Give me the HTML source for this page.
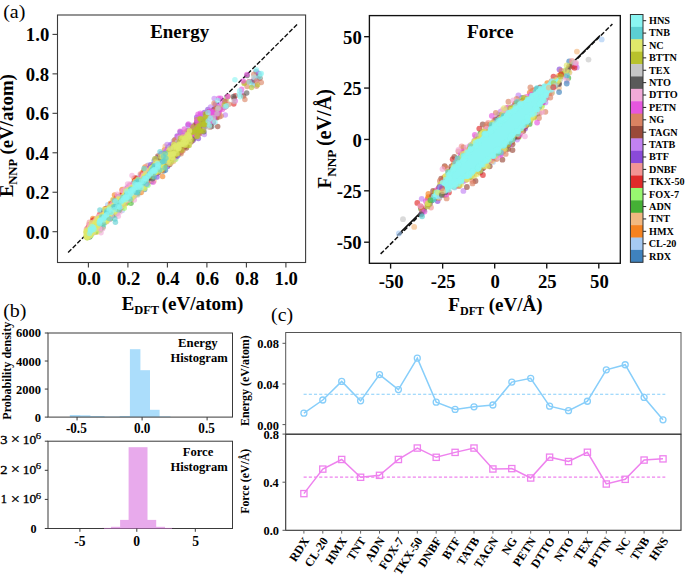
<!DOCTYPE html>
<html><head><meta charset="utf-8"><style>
html,body{margin:0;padding:0;background:#fff;}
svg{display:block;}
text{font-family:"Liberation Serif",serif;fill:#000;}
</style></head><body>
<svg width="685" height="576" viewBox="0 0 685 576">
<rect x="0" y="0" width="685" height="576" fill="#fff"/>
<line x1="68.10" y1="252.50" x2="298.00" y2="23.60" stroke="#111" stroke-width="1.4" stroke-dasharray="4.6 1.9"/>
<g fill-opacity="0.62">
<circle cx="156.7" cy="162.9" r="2.75" fill="#3f82bd"/>
<circle cx="158.6" cy="168.5" r="2.75" fill="#3f82bd"/>
<circle cx="153.4" cy="176.9" r="2.75" fill="#3f82bd"/>
<circle cx="139.0" cy="190.7" r="2.75" fill="#3f82bd"/>
<circle cx="174.0" cy="152.0" r="2.75" fill="#3f82bd"/>
<circle cx="184.7" cy="142.7" r="2.75" fill="#3f82bd"/>
<circle cx="160.6" cy="163.7" r="2.75" fill="#3f82bd"/>
<circle cx="122.1" cy="199.8" r="2.75" fill="#3f82bd"/>
<circle cx="134.7" cy="183.4" r="2.75" fill="#3f82bd"/>
<circle cx="176.3" cy="148.3" r="2.75" fill="#3f82bd"/>
<circle cx="162.3" cy="169.8" r="2.75" fill="#3f82bd"/>
<circle cx="137.3" cy="186.2" r="2.75" fill="#3f82bd"/>
<circle cx="186.9" cy="135.2" r="2.75" fill="#3f82bd"/>
<circle cx="133.9" cy="195.5" r="2.75" fill="#3f82bd"/>
<circle cx="122.9" cy="199.3" r="2.75" fill="#3f82bd"/>
<circle cx="144.7" cy="184.0" r="2.75" fill="#3f82bd"/>
<circle cx="176.6" cy="145.6" r="2.75" fill="#3f82bd"/>
<circle cx="150.5" cy="173.6" r="2.75" fill="#3f82bd"/>
<circle cx="145.5" cy="172.2" r="2.75" fill="#3f82bd"/>
<circle cx="136.7" cy="183.8" r="2.75" fill="#3f82bd"/>
<circle cx="141.0" cy="174.7" r="2.75" fill="#3f82bd"/>
<circle cx="135.1" cy="190.0" r="2.75" fill="#3f82bd"/>
<circle cx="122.2" cy="199.6" r="2.75" fill="#3f82bd"/>
<circle cx="149.0" cy="178.1" r="2.75" fill="#3f82bd"/>
<circle cx="168.6" cy="151.7" r="2.75" fill="#3f82bd"/>
<circle cx="147.1" cy="171.7" r="2.75" fill="#3f82bd"/>
<circle cx="136.7" cy="178.4" r="2.75" fill="#3f82bd"/>
<circle cx="179.2" cy="148.2" r="2.75" fill="#3f82bd"/>
<circle cx="145.3" cy="174.3" r="2.75" fill="#3f82bd"/>
<circle cx="186.4" cy="145.4" r="2.75" fill="#3f82bd"/>
<circle cx="135.9" cy="186.9" r="2.75" fill="#3f82bd"/>
<circle cx="123.1" cy="203.4" r="2.75" fill="#3f82bd"/>
<circle cx="158.3" cy="166.0" r="2.75" fill="#3f82bd"/>
<circle cx="149.4" cy="168.1" r="2.75" fill="#3f82bd"/>
<circle cx="151.5" cy="181.6" r="2.75" fill="#3f82bd"/>
<circle cx="128.7" cy="198.4" r="2.75" fill="#3f82bd"/>
<circle cx="174.6" cy="150.9" r="2.75" fill="#3f82bd"/>
<circle cx="183.0" cy="139.8" r="2.75" fill="#3f82bd"/>
<circle cx="183.7" cy="137.4" r="2.75" fill="#3f82bd"/>
<circle cx="125.2" cy="201.6" r="2.75" fill="#3f82bd"/>
<circle cx="184.6" cy="140.9" r="2.75" fill="#3f82bd"/>
<circle cx="175.0" cy="142.9" r="2.75" fill="#3f82bd"/>
<circle cx="138.3" cy="181.8" r="2.75" fill="#3f82bd"/>
<circle cx="133.8" cy="182.8" r="2.75" fill="#3f82bd"/>
<circle cx="176.9" cy="151.7" r="2.75" fill="#3f82bd"/>
<circle cx="132.1" cy="193.5" r="2.75" fill="#3f82bd"/>
<circle cx="136.6" cy="188.3" r="2.75" fill="#3f82bd"/>
<circle cx="143.5" cy="179.7" r="2.75" fill="#3f82bd"/>
<circle cx="127.1" cy="201.9" r="2.75" fill="#3f82bd"/>
<circle cx="163.4" cy="153.5" r="2.75" fill="#3f82bd"/>
<circle cx="158.4" cy="165.3" r="2.75" fill="#3f82bd"/>
<circle cx="180.9" cy="143.9" r="2.75" fill="#3f82bd"/>
<circle cx="184.6" cy="134.5" r="2.75" fill="#3f82bd"/>
<circle cx="168.5" cy="155.7" r="2.75" fill="#3f82bd"/>
<circle cx="187.1" cy="133.6" r="2.75" fill="#3f82bd"/>
<circle cx="180.3" cy="142.8" r="2.75" fill="#3f82bd"/>
<circle cx="166.7" cy="155.5" r="2.75" fill="#3f82bd"/>
<circle cx="165.4" cy="170.2" r="2.75" fill="#3f82bd"/>
<circle cx="178.2" cy="155.0" r="2.75" fill="#3f82bd"/>
<circle cx="157.6" cy="162.6" r="2.75" fill="#3f82bd"/>
<circle cx="144.5" cy="185.2" r="2.75" fill="#3f82bd"/>
<circle cx="162.2" cy="166.0" r="2.75" fill="#3f82bd"/>
<circle cx="178.8" cy="147.6" r="2.75" fill="#3f82bd"/>
<circle cx="158.2" cy="171.3" r="2.75" fill="#3f82bd"/>
<circle cx="176.0" cy="142.5" r="2.75" fill="#3f82bd"/>
<circle cx="159.6" cy="161.0" r="2.75" fill="#3f82bd"/>
<circle cx="133.9" cy="191.0" r="2.75" fill="#3f82bd"/>
<circle cx="181.7" cy="149.7" r="2.75" fill="#3f82bd"/>
<circle cx="118.8" cy="205.6" r="2.75" fill="#3f82bd"/>
<circle cx="129.7" cy="186.7" r="2.75" fill="#3f82bd"/>
<circle cx="163.6" cy="171.0" r="2.75" fill="#3f82bd"/>
<circle cx="164.1" cy="157.2" r="2.75" fill="#3f82bd"/>
<circle cx="147.8" cy="172.4" r="2.75" fill="#3f82bd"/>
<circle cx="144.6" cy="189.4" r="2.75" fill="#3f82bd"/>
<circle cx="139.9" cy="180.0" r="2.75" fill="#3f82bd"/>
<circle cx="176.7" cy="144.6" r="2.75" fill="#3f82bd"/>
<circle cx="183.7" cy="142.8" r="2.75" fill="#3f82bd"/>
<circle cx="137.0" cy="183.5" r="2.75" fill="#3f82bd"/>
<circle cx="146.6" cy="181.3" r="2.75" fill="#3f82bd"/>
<circle cx="176.0" cy="153.7" r="2.75" fill="#3f82bd"/>
<circle cx="149.3" cy="173.7" r="2.75" fill="#3f82bd"/>
<circle cx="120.9" cy="201.1" r="2.75" fill="#3f82bd"/>
<circle cx="157.5" cy="170.3" r="2.75" fill="#3f82bd"/>
<circle cx="127.4" cy="188.0" r="2.75" fill="#3f82bd"/>
<circle cx="119.7" cy="201.2" r="2.75" fill="#3f82bd"/>
<circle cx="121.3" cy="204.1" r="2.75" fill="#3f82bd"/>
<circle cx="148.9" cy="180.1" r="2.75" fill="#3f82bd"/>
<circle cx="184.3" cy="147.0" r="2.75" fill="#3f82bd"/>
<circle cx="131.8" cy="194.2" r="2.75" fill="#3f82bd"/>
<circle cx="150.7" cy="173.0" r="2.75" fill="#3f82bd"/>
<circle cx="130.4" cy="193.2" r="2.75" fill="#3f82bd"/>
<circle cx="154.0" cy="165.9" r="2.75" fill="#3f82bd"/>
<circle cx="170.3" cy="161.8" r="2.75" fill="#3f82bd"/>
<circle cx="124.1" cy="193.8" r="2.75" fill="#3f82bd"/>
<circle cx="168.0" cy="153.5" r="2.75" fill="#3f82bd"/>
<circle cx="180.9" cy="141.0" r="2.75" fill="#3f82bd"/>
<circle cx="157.3" cy="160.8" r="2.75" fill="#3f82bd"/>
<circle cx="150.1" cy="180.1" r="2.75" fill="#3f82bd"/>
<circle cx="132.2" cy="192.4" r="2.75" fill="#3f82bd"/>
<circle cx="167.6" cy="166.5" r="2.75" fill="#3f82bd"/>
<circle cx="180.2" cy="132.1" r="2.75" fill="#3f82bd"/>
<circle cx="172.7" cy="154.4" r="2.75" fill="#3f82bd"/>
<circle cx="180.9" cy="142.1" r="2.75" fill="#3f82bd"/>
<circle cx="148.5" cy="179.1" r="2.75" fill="#3f82bd"/>
<circle cx="171.1" cy="155.4" r="2.75" fill="#3f82bd"/>
<circle cx="122.5" cy="200.1" r="2.75" fill="#3f82bd"/>
<circle cx="130.0" cy="197.1" r="2.75" fill="#3f82bd"/>
<circle cx="128.3" cy="187.8" r="2.75" fill="#3f82bd"/>
<circle cx="168.0" cy="153.1" r="2.75" fill="#3f82bd"/>
<circle cx="152.1" cy="178.5" r="2.75" fill="#3f82bd"/>
<circle cx="124.0" cy="197.7" r="2.75" fill="#3f82bd"/>
<circle cx="168.4" cy="150.8" r="2.75" fill="#3f82bd"/>
<circle cx="154.2" cy="166.7" r="2.75" fill="#3f82bd"/>
<circle cx="144.4" cy="184.6" r="2.75" fill="#3f82bd"/>
<circle cx="180.3" cy="143.1" r="2.75" fill="#3f82bd"/>
<circle cx="154.3" cy="160.8" r="2.75" fill="#3f82bd"/>
<circle cx="131.9" cy="196.5" r="2.75" fill="#3f82bd"/>
<circle cx="119.9" cy="203.7" r="2.75" fill="#3f82bd"/>
<circle cx="153.7" cy="177.8" r="2.75" fill="#3f82bd"/>
<circle cx="152.0" cy="167.1" r="2.75" fill="#3f82bd"/>
<circle cx="122.6" cy="204.4" r="2.75" fill="#3f82bd"/>
<circle cx="181.9" cy="145.3" r="2.75" fill="#3f82bd"/>
<circle cx="150.7" cy="169.8" r="2.75" fill="#3f82bd"/>
<circle cx="180.3" cy="141.8" r="2.75" fill="#3f82bd"/>
<circle cx="140.0" cy="181.2" r="2.75" fill="#3f82bd"/>
<circle cx="256.2" cy="71.5" r="2.75" fill="#3f82bd"/>
<circle cx="213.8" cy="116.6" r="2.75" fill="#3f82bd"/>
<circle cx="120.7" cy="202.7" r="2.75" fill="#a6caf2"/>
<circle cx="130.1" cy="196.8" r="2.75" fill="#a6caf2"/>
<circle cx="170.5" cy="149.4" r="2.75" fill="#a6caf2"/>
<circle cx="148.7" cy="175.4" r="2.75" fill="#a6caf2"/>
<circle cx="141.4" cy="179.1" r="2.75" fill="#a6caf2"/>
<circle cx="139.1" cy="187.2" r="2.75" fill="#a6caf2"/>
<circle cx="160.6" cy="164.6" r="2.75" fill="#a6caf2"/>
<circle cx="150.6" cy="169.6" r="2.75" fill="#a6caf2"/>
<circle cx="121.3" cy="206.1" r="2.75" fill="#a6caf2"/>
<circle cx="178.3" cy="143.9" r="2.75" fill="#a6caf2"/>
<circle cx="189.4" cy="139.4" r="2.75" fill="#a6caf2"/>
<circle cx="196.9" cy="127.9" r="2.75" fill="#a6caf2"/>
<circle cx="170.0" cy="157.0" r="2.75" fill="#a6caf2"/>
<circle cx="107.9" cy="211.8" r="2.75" fill="#a6caf2"/>
<circle cx="110.7" cy="215.0" r="2.75" fill="#a6caf2"/>
<circle cx="165.9" cy="155.8" r="2.75" fill="#a6caf2"/>
<circle cx="188.3" cy="137.6" r="2.75" fill="#a6caf2"/>
<circle cx="109.7" cy="219.2" r="2.75" fill="#a6caf2"/>
<circle cx="166.0" cy="159.3" r="2.75" fill="#a6caf2"/>
<circle cx="105.2" cy="215.5" r="2.75" fill="#a6caf2"/>
<circle cx="149.1" cy="174.1" r="2.75" fill="#a6caf2"/>
<circle cx="112.7" cy="208.2" r="2.75" fill="#a6caf2"/>
<circle cx="196.1" cy="127.6" r="2.75" fill="#a6caf2"/>
<circle cx="107.7" cy="204.8" r="2.75" fill="#a6caf2"/>
<circle cx="173.8" cy="147.1" r="2.75" fill="#a6caf2"/>
<circle cx="144.4" cy="184.6" r="2.75" fill="#a6caf2"/>
<circle cx="99.6" cy="222.1" r="2.75" fill="#a6caf2"/>
<circle cx="181.6" cy="142.0" r="2.75" fill="#a6caf2"/>
<circle cx="138.3" cy="180.5" r="2.75" fill="#a6caf2"/>
<circle cx="114.6" cy="208.3" r="2.75" fill="#a6caf2"/>
<circle cx="177.4" cy="148.3" r="2.75" fill="#a6caf2"/>
<circle cx="183.3" cy="146.2" r="2.75" fill="#a6caf2"/>
<circle cx="148.1" cy="179.6" r="2.75" fill="#a6caf2"/>
<circle cx="177.8" cy="148.5" r="2.75" fill="#a6caf2"/>
<circle cx="175.1" cy="139.6" r="2.75" fill="#a6caf2"/>
<circle cx="138.3" cy="177.4" r="2.75" fill="#a6caf2"/>
<circle cx="174.0" cy="157.6" r="2.75" fill="#a6caf2"/>
<circle cx="138.3" cy="185.5" r="2.75" fill="#a6caf2"/>
<circle cx="144.6" cy="181.1" r="2.75" fill="#a6caf2"/>
<circle cx="133.4" cy="194.0" r="2.75" fill="#a6caf2"/>
<circle cx="191.6" cy="140.2" r="2.75" fill="#a6caf2"/>
<circle cx="131.6" cy="194.7" r="2.75" fill="#a6caf2"/>
<circle cx="136.7" cy="191.8" r="2.75" fill="#a6caf2"/>
<circle cx="161.7" cy="165.6" r="2.75" fill="#a6caf2"/>
<circle cx="100.5" cy="227.2" r="2.75" fill="#a6caf2"/>
<circle cx="171.2" cy="154.3" r="2.75" fill="#a6caf2"/>
<circle cx="117.6" cy="200.4" r="2.75" fill="#a6caf2"/>
<circle cx="108.0" cy="213.8" r="2.75" fill="#a6caf2"/>
<circle cx="148.4" cy="164.9" r="2.75" fill="#a6caf2"/>
<circle cx="154.4" cy="163.0" r="2.75" fill="#a6caf2"/>
<circle cx="105.8" cy="216.0" r="2.75" fill="#a6caf2"/>
<circle cx="173.3" cy="141.3" r="2.75" fill="#a6caf2"/>
<circle cx="144.9" cy="175.8" r="2.75" fill="#a6caf2"/>
<circle cx="147.2" cy="178.1" r="2.75" fill="#a6caf2"/>
<circle cx="139.8" cy="184.8" r="2.75" fill="#a6caf2"/>
<circle cx="157.3" cy="169.9" r="2.75" fill="#a6caf2"/>
<circle cx="153.6" cy="167.7" r="2.75" fill="#a6caf2"/>
<circle cx="169.0" cy="156.4" r="2.75" fill="#a6caf2"/>
<circle cx="102.5" cy="218.3" r="2.75" fill="#a6caf2"/>
<circle cx="172.8" cy="160.7" r="2.75" fill="#a6caf2"/>
<circle cx="103.2" cy="212.8" r="2.75" fill="#a6caf2"/>
<circle cx="191.5" cy="125.3" r="2.75" fill="#a6caf2"/>
<circle cx="145.4" cy="173.7" r="2.75" fill="#a6caf2"/>
<circle cx="122.3" cy="210.5" r="2.75" fill="#a6caf2"/>
<circle cx="144.5" cy="181.0" r="2.75" fill="#a6caf2"/>
<circle cx="178.9" cy="148.8" r="2.75" fill="#a6caf2"/>
<circle cx="143.3" cy="181.9" r="2.75" fill="#a6caf2"/>
<circle cx="103.4" cy="220.2" r="2.75" fill="#a6caf2"/>
<circle cx="164.2" cy="161.2" r="2.75" fill="#a6caf2"/>
<circle cx="124.2" cy="202.6" r="2.75" fill="#a6caf2"/>
<circle cx="150.7" cy="176.0" r="2.75" fill="#a6caf2"/>
<circle cx="192.3" cy="134.5" r="2.75" fill="#a6caf2"/>
<circle cx="186.4" cy="143.4" r="2.75" fill="#a6caf2"/>
<circle cx="160.0" cy="167.2" r="2.75" fill="#a6caf2"/>
<circle cx="154.1" cy="167.3" r="2.75" fill="#a6caf2"/>
<circle cx="160.8" cy="163.9" r="2.75" fill="#a6caf2"/>
<circle cx="195.0" cy="134.8" r="2.75" fill="#a6caf2"/>
<circle cx="185.1" cy="139.4" r="2.75" fill="#a6caf2"/>
<circle cx="140.3" cy="182.9" r="2.75" fill="#a6caf2"/>
<circle cx="108.4" cy="215.0" r="2.75" fill="#a6caf2"/>
<circle cx="165.1" cy="160.4" r="2.75" fill="#a6caf2"/>
<circle cx="160.6" cy="168.1" r="2.75" fill="#a6caf2"/>
<circle cx="132.2" cy="187.2" r="2.75" fill="#a6caf2"/>
<circle cx="181.1" cy="142.6" r="2.75" fill="#a6caf2"/>
<circle cx="159.9" cy="163.7" r="2.75" fill="#a6caf2"/>
<circle cx="119.3" cy="206.1" r="2.75" fill="#a6caf2"/>
<circle cx="134.7" cy="186.9" r="2.75" fill="#a6caf2"/>
<circle cx="196.0" cy="133.6" r="2.75" fill="#a6caf2"/>
<circle cx="189.2" cy="131.6" r="2.75" fill="#a6caf2"/>
<circle cx="134.7" cy="180.7" r="2.75" fill="#a6caf2"/>
<circle cx="106.5" cy="210.5" r="2.75" fill="#a6caf2"/>
<circle cx="146.2" cy="179.4" r="2.75" fill="#a6caf2"/>
<circle cx="105.8" cy="219.0" r="2.75" fill="#a6caf2"/>
<circle cx="163.7" cy="157.6" r="2.75" fill="#a6caf2"/>
<circle cx="166.8" cy="156.2" r="2.75" fill="#a6caf2"/>
<circle cx="112.4" cy="213.9" r="2.75" fill="#a6caf2"/>
<circle cx="109.9" cy="206.8" r="2.75" fill="#a6caf2"/>
<circle cx="154.5" cy="159.7" r="2.75" fill="#a6caf2"/>
<circle cx="141.5" cy="187.7" r="2.75" fill="#a6caf2"/>
<circle cx="128.4" cy="196.4" r="2.75" fill="#a6caf2"/>
<circle cx="186.6" cy="135.0" r="2.75" fill="#a6caf2"/>
<circle cx="134.0" cy="192.2" r="2.75" fill="#a6caf2"/>
<circle cx="136.5" cy="183.5" r="2.75" fill="#a6caf2"/>
<circle cx="154.0" cy="168.6" r="2.75" fill="#a6caf2"/>
<circle cx="153.8" cy="176.4" r="2.75" fill="#a6caf2"/>
<circle cx="173.2" cy="149.3" r="2.75" fill="#a6caf2"/>
<circle cx="149.2" cy="177.6" r="2.75" fill="#a6caf2"/>
<circle cx="154.3" cy="163.1" r="2.75" fill="#a6caf2"/>
<circle cx="104.6" cy="218.2" r="2.75" fill="#a6caf2"/>
<circle cx="176.1" cy="147.7" r="2.75" fill="#a6caf2"/>
<circle cx="187.1" cy="138.1" r="2.75" fill="#a6caf2"/>
<circle cx="160.9" cy="158.8" r="2.75" fill="#a6caf2"/>
<circle cx="122.5" cy="194.4" r="2.75" fill="#a6caf2"/>
<circle cx="173.9" cy="159.9" r="2.75" fill="#a6caf2"/>
<circle cx="131.6" cy="192.5" r="2.75" fill="#a6caf2"/>
<circle cx="164.7" cy="166.4" r="2.75" fill="#a6caf2"/>
<circle cx="168.2" cy="156.7" r="2.75" fill="#a6caf2"/>
<circle cx="138.8" cy="181.4" r="2.75" fill="#a6caf2"/>
<circle cx="177.9" cy="154.3" r="2.75" fill="#a6caf2"/>
<circle cx="186.0" cy="133.3" r="2.75" fill="#a6caf2"/>
<circle cx="168.4" cy="158.6" r="2.75" fill="#a6caf2"/>
<circle cx="139.9" cy="186.0" r="2.75" fill="#a6caf2"/>
<circle cx="196.1" cy="129.3" r="2.75" fill="#a6caf2"/>
<circle cx="114.8" cy="206.1" r="2.75" fill="#a6caf2"/>
<circle cx="194.0" cy="127.6" r="2.75" fill="#a6caf2"/>
<circle cx="118.9" cy="197.3" r="2.75" fill="#f58220"/>
<circle cx="106.1" cy="210.1" r="2.75" fill="#f58220"/>
<circle cx="133.7" cy="196.7" r="2.75" fill="#f58220"/>
<circle cx="99.1" cy="224.9" r="2.75" fill="#f58220"/>
<circle cx="109.9" cy="209.8" r="2.75" fill="#f58220"/>
<circle cx="110.5" cy="203.3" r="2.75" fill="#f58220"/>
<circle cx="116.2" cy="201.1" r="2.75" fill="#f58220"/>
<circle cx="142.5" cy="172.4" r="2.75" fill="#f58220"/>
<circle cx="135.7" cy="186.7" r="2.75" fill="#f58220"/>
<circle cx="122.2" cy="189.6" r="2.75" fill="#f58220"/>
<circle cx="182.9" cy="145.0" r="2.75" fill="#f58220"/>
<circle cx="182.0" cy="142.0" r="2.75" fill="#f58220"/>
<circle cx="126.4" cy="200.2" r="2.75" fill="#f58220"/>
<circle cx="186.2" cy="139.4" r="2.75" fill="#f58220"/>
<circle cx="111.9" cy="203.8" r="2.75" fill="#f58220"/>
<circle cx="167.1" cy="156.1" r="2.75" fill="#f58220"/>
<circle cx="148.2" cy="172.6" r="2.75" fill="#f58220"/>
<circle cx="114.0" cy="204.5" r="2.75" fill="#f58220"/>
<circle cx="139.4" cy="192.4" r="2.75" fill="#f58220"/>
<circle cx="141.2" cy="192.4" r="2.75" fill="#f58220"/>
<circle cx="164.5" cy="149.7" r="2.75" fill="#f58220"/>
<circle cx="169.6" cy="154.0" r="2.75" fill="#f58220"/>
<circle cx="115.1" cy="206.0" r="2.75" fill="#f58220"/>
<circle cx="134.7" cy="189.1" r="2.75" fill="#f58220"/>
<circle cx="146.3" cy="173.4" r="2.75" fill="#f58220"/>
<circle cx="129.6" cy="194.9" r="2.75" fill="#f58220"/>
<circle cx="97.4" cy="221.0" r="2.75" fill="#f58220"/>
<circle cx="140.3" cy="184.6" r="2.75" fill="#f58220"/>
<circle cx="170.6" cy="154.8" r="2.75" fill="#f58220"/>
<circle cx="118.6" cy="198.8" r="2.75" fill="#f58220"/>
<circle cx="159.0" cy="168.8" r="2.75" fill="#f58220"/>
<circle cx="127.3" cy="188.7" r="2.75" fill="#f58220"/>
<circle cx="183.9" cy="137.1" r="2.75" fill="#f58220"/>
<circle cx="125.6" cy="201.3" r="2.75" fill="#f58220"/>
<circle cx="111.9" cy="212.8" r="2.75" fill="#f58220"/>
<circle cx="186.3" cy="140.4" r="2.75" fill="#f58220"/>
<circle cx="108.8" cy="214.0" r="2.75" fill="#f58220"/>
<circle cx="141.7" cy="183.0" r="2.75" fill="#f58220"/>
<circle cx="121.7" cy="204.3" r="2.75" fill="#f58220"/>
<circle cx="108.1" cy="208.3" r="2.75" fill="#f58220"/>
<circle cx="120.9" cy="194.7" r="2.75" fill="#f58220"/>
<circle cx="121.2" cy="201.7" r="2.75" fill="#f58220"/>
<circle cx="97.5" cy="221.0" r="2.75" fill="#f58220"/>
<circle cx="158.3" cy="163.0" r="2.75" fill="#f58220"/>
<circle cx="128.1" cy="190.1" r="2.75" fill="#f58220"/>
<circle cx="110.8" cy="214.4" r="2.75" fill="#f58220"/>
<circle cx="100.7" cy="220.4" r="2.75" fill="#f58220"/>
<circle cx="130.6" cy="189.9" r="2.75" fill="#f58220"/>
<circle cx="152.3" cy="169.4" r="2.75" fill="#f58220"/>
<circle cx="121.1" cy="207.9" r="2.75" fill="#f58220"/>
<circle cx="89.9" cy="234.0" r="2.75" fill="#f58220"/>
<circle cx="166.4" cy="152.6" r="2.75" fill="#f58220"/>
<circle cx="148.5" cy="169.6" r="2.75" fill="#f58220"/>
<circle cx="152.7" cy="169.5" r="2.75" fill="#f58220"/>
<circle cx="125.7" cy="203.4" r="2.75" fill="#f58220"/>
<circle cx="148.8" cy="174.2" r="2.75" fill="#f58220"/>
<circle cx="164.1" cy="154.2" r="2.75" fill="#f58220"/>
<circle cx="137.8" cy="187.5" r="2.75" fill="#f58220"/>
<circle cx="158.9" cy="158.3" r="2.75" fill="#f58220"/>
<circle cx="170.9" cy="153.3" r="2.75" fill="#f58220"/>
<circle cx="181.7" cy="144.9" r="2.75" fill="#f58220"/>
<circle cx="112.6" cy="209.9" r="2.75" fill="#f58220"/>
<circle cx="157.2" cy="171.1" r="2.75" fill="#f58220"/>
<circle cx="134.1" cy="178.1" r="2.75" fill="#f58220"/>
<circle cx="184.5" cy="132.9" r="2.75" fill="#f58220"/>
<circle cx="143.8" cy="170.5" r="2.75" fill="#f58220"/>
<circle cx="114.5" cy="194.9" r="2.75" fill="#f58220"/>
<circle cx="147.8" cy="182.9" r="2.75" fill="#f58220"/>
<circle cx="169.8" cy="156.4" r="2.75" fill="#f58220"/>
<circle cx="145.0" cy="167.1" r="2.75" fill="#f58220"/>
<circle cx="106.7" cy="215.0" r="2.75" fill="#f58220"/>
<circle cx="106.2" cy="214.4" r="2.75" fill="#f58220"/>
<circle cx="181.2" cy="145.4" r="2.75" fill="#f58220"/>
<circle cx="161.2" cy="165.5" r="2.75" fill="#f58220"/>
<circle cx="146.8" cy="175.2" r="2.75" fill="#f58220"/>
<circle cx="134.6" cy="187.9" r="2.75" fill="#f58220"/>
<circle cx="126.6" cy="197.2" r="2.75" fill="#f58220"/>
<circle cx="114.4" cy="207.2" r="2.75" fill="#f58220"/>
<circle cx="121.2" cy="200.5" r="2.75" fill="#f58220"/>
<circle cx="102.7" cy="218.1" r="2.75" fill="#f58220"/>
<circle cx="147.7" cy="179.8" r="2.75" fill="#f58220"/>
<circle cx="156.5" cy="165.5" r="2.75" fill="#f58220"/>
<circle cx="162.6" cy="176.5" r="2.75" fill="#f58220"/>
<circle cx="172.8" cy="149.6" r="2.75" fill="#f58220"/>
<circle cx="131.3" cy="199.4" r="2.75" fill="#f58220"/>
<circle cx="140.2" cy="185.9" r="2.75" fill="#f58220"/>
<circle cx="177.7" cy="147.1" r="2.75" fill="#f58220"/>
<circle cx="177.3" cy="145.3" r="2.75" fill="#f58220"/>
<circle cx="147.4" cy="175.0" r="2.75" fill="#f58220"/>
<circle cx="95.3" cy="227.5" r="2.75" fill="#f58220"/>
<circle cx="132.5" cy="193.7" r="2.75" fill="#f58220"/>
<circle cx="157.0" cy="166.0" r="2.75" fill="#f58220"/>
<circle cx="112.0" cy="209.9" r="2.75" fill="#f58220"/>
<circle cx="95.2" cy="220.7" r="2.75" fill="#f58220"/>
<circle cx="183.8" cy="145.6" r="2.75" fill="#f58220"/>
<circle cx="167.9" cy="164.2" r="2.75" fill="#f58220"/>
<circle cx="162.1" cy="170.8" r="2.75" fill="#f58220"/>
<circle cx="166.6" cy="161.2" r="2.75" fill="#f58220"/>
<circle cx="141.5" cy="180.4" r="2.75" fill="#f58220"/>
<circle cx="118.0" cy="202.9" r="2.75" fill="#f58220"/>
<circle cx="94.6" cy="219.3" r="2.75" fill="#f58220"/>
<circle cx="123.6" cy="202.5" r="2.75" fill="#f58220"/>
<circle cx="92.9" cy="218.5" r="2.75" fill="#f58220"/>
<circle cx="137.6" cy="182.3" r="2.75" fill="#f58220"/>
<circle cx="184.9" cy="142.9" r="2.75" fill="#f58220"/>
<circle cx="179.5" cy="144.1" r="2.75" fill="#f58220"/>
<circle cx="107.7" cy="210.5" r="2.75" fill="#f58220"/>
<circle cx="105.4" cy="217.9" r="2.75" fill="#f58220"/>
<circle cx="186.7" cy="135.8" r="2.75" fill="#f58220"/>
<circle cx="175.3" cy="142.0" r="2.75" fill="#f58220"/>
<circle cx="98.9" cy="221.3" r="2.75" fill="#f58220"/>
<circle cx="174.3" cy="153.9" r="2.75" fill="#f58220"/>
<circle cx="101.7" cy="221.3" r="2.75" fill="#f58220"/>
<circle cx="96.2" cy="231.9" r="2.75" fill="#f58220"/>
<circle cx="118.7" cy="202.8" r="2.75" fill="#f58220"/>
<circle cx="111.7" cy="211.4" r="2.75" fill="#f58220"/>
<circle cx="166.5" cy="162.1" r="2.75" fill="#f58220"/>
<circle cx="146.7" cy="170.5" r="2.75" fill="#f58220"/>
<circle cx="118.1" cy="196.9" r="2.75" fill="#f58220"/>
<circle cx="151.6" cy="174.3" r="2.75" fill="#f58220"/>
<circle cx="185.5" cy="144.7" r="2.75" fill="#f58220"/>
<circle cx="92.9" cy="224.8" r="2.75" fill="#f58220"/>
<circle cx="116.5" cy="204.2" r="2.75" fill="#f58220"/>
<circle cx="116.6" cy="196.4" r="2.75" fill="#f58220"/>
<circle cx="112.7" cy="208.8" r="2.75" fill="#f58220"/>
<circle cx="199.8" cy="121.0" r="2.75" fill="#f2b880"/>
<circle cx="140.1" cy="191.2" r="2.75" fill="#f2b880"/>
<circle cx="202.0" cy="123.1" r="2.75" fill="#f2b880"/>
<circle cx="150.2" cy="180.6" r="2.75" fill="#f2b880"/>
<circle cx="183.3" cy="145.2" r="2.75" fill="#f2b880"/>
<circle cx="173.5" cy="161.5" r="2.75" fill="#f2b880"/>
<circle cx="173.8" cy="152.0" r="2.75" fill="#f2b880"/>
<circle cx="149.8" cy="173.8" r="2.75" fill="#f2b880"/>
<circle cx="154.0" cy="173.2" r="2.75" fill="#f2b880"/>
<circle cx="191.2" cy="133.2" r="2.75" fill="#f2b880"/>
<circle cx="171.6" cy="162.3" r="2.75" fill="#f2b880"/>
<circle cx="177.9" cy="149.1" r="2.75" fill="#f2b880"/>
<circle cx="187.2" cy="139.0" r="2.75" fill="#f2b880"/>
<circle cx="198.1" cy="127.5" r="2.75" fill="#f2b880"/>
<circle cx="172.1" cy="150.7" r="2.75" fill="#f2b880"/>
<circle cx="168.3" cy="157.6" r="2.75" fill="#f2b880"/>
<circle cx="200.5" cy="117.7" r="2.75" fill="#f2b880"/>
<circle cx="175.3" cy="149.3" r="2.75" fill="#f2b880"/>
<circle cx="159.3" cy="168.9" r="2.75" fill="#f2b880"/>
<circle cx="159.5" cy="169.5" r="2.75" fill="#f2b880"/>
<circle cx="178.5" cy="151.4" r="2.75" fill="#f2b880"/>
<circle cx="194.5" cy="130.3" r="2.75" fill="#f2b880"/>
<circle cx="185.5" cy="137.3" r="2.75" fill="#f2b880"/>
<circle cx="192.2" cy="129.6" r="2.75" fill="#f2b880"/>
<circle cx="152.7" cy="169.7" r="2.75" fill="#f2b880"/>
<circle cx="140.7" cy="191.0" r="2.75" fill="#f2b880"/>
<circle cx="147.8" cy="175.7" r="2.75" fill="#f2b880"/>
<circle cx="189.3" cy="133.5" r="2.75" fill="#f2b880"/>
<circle cx="147.6" cy="175.6" r="2.75" fill="#f2b880"/>
<circle cx="158.4" cy="168.0" r="2.75" fill="#f2b880"/>
<circle cx="206.6" cy="119.8" r="2.75" fill="#f2b880"/>
<circle cx="188.5" cy="137.3" r="2.75" fill="#f2b880"/>
<circle cx="154.5" cy="166.2" r="2.75" fill="#f2b880"/>
<circle cx="202.2" cy="127.8" r="2.75" fill="#f2b880"/>
<circle cx="180.0" cy="142.4" r="2.75" fill="#f2b880"/>
<circle cx="165.6" cy="160.4" r="2.75" fill="#f2b880"/>
<circle cx="185.8" cy="141.7" r="2.75" fill="#f2b880"/>
<circle cx="178.6" cy="143.0" r="2.75" fill="#f2b880"/>
<circle cx="196.1" cy="134.3" r="2.75" fill="#f2b880"/>
<circle cx="191.8" cy="133.7" r="2.75" fill="#f2b880"/>
<circle cx="175.8" cy="145.4" r="2.75" fill="#f2b880"/>
<circle cx="151.9" cy="171.2" r="2.75" fill="#f2b880"/>
<circle cx="168.7" cy="151.1" r="2.75" fill="#f2b880"/>
<circle cx="184.7" cy="139.2" r="2.75" fill="#f2b880"/>
<circle cx="142.8" cy="183.4" r="2.75" fill="#f2b880"/>
<circle cx="162.9" cy="162.1" r="2.75" fill="#f2b880"/>
<circle cx="155.9" cy="167.6" r="2.75" fill="#f2b880"/>
<circle cx="201.6" cy="126.3" r="2.75" fill="#f2b880"/>
<circle cx="148.4" cy="179.5" r="2.75" fill="#f2b880"/>
<circle cx="162.6" cy="161.4" r="2.75" fill="#f2b880"/>
<circle cx="139.2" cy="191.9" r="2.75" fill="#f2b880"/>
<circle cx="164.3" cy="151.8" r="2.75" fill="#f2b880"/>
<circle cx="191.1" cy="130.3" r="2.75" fill="#f2b880"/>
<circle cx="141.6" cy="184.9" r="2.75" fill="#f2b880"/>
<circle cx="148.2" cy="173.6" r="2.75" fill="#f2b880"/>
<circle cx="140.0" cy="185.5" r="2.75" fill="#f2b880"/>
<circle cx="147.2" cy="172.0" r="2.75" fill="#f2b880"/>
<circle cx="155.8" cy="169.8" r="2.75" fill="#f2b880"/>
<circle cx="151.9" cy="179.5" r="2.75" fill="#f2b880"/>
<circle cx="187.0" cy="143.2" r="2.75" fill="#f2b880"/>
<circle cx="153.4" cy="168.2" r="2.75" fill="#f2b880"/>
<circle cx="161.6" cy="162.9" r="2.75" fill="#f2b880"/>
<circle cx="181.4" cy="143.2" r="2.75" fill="#f2b880"/>
<circle cx="193.7" cy="128.8" r="2.75" fill="#f2b880"/>
<circle cx="201.3" cy="126.3" r="2.75" fill="#f2b880"/>
<circle cx="185.4" cy="146.9" r="2.75" fill="#f2b880"/>
<circle cx="154.0" cy="181.0" r="2.75" fill="#f2b880"/>
<circle cx="144.0" cy="184.2" r="2.75" fill="#f2b880"/>
<circle cx="164.3" cy="158.5" r="2.75" fill="#f2b880"/>
<circle cx="172.1" cy="153.8" r="2.75" fill="#f2b880"/>
<circle cx="170.6" cy="151.8" r="2.75" fill="#f2b880"/>
<circle cx="183.8" cy="142.1" r="2.75" fill="#f2b880"/>
<circle cx="167.0" cy="155.9" r="2.75" fill="#f2b880"/>
<circle cx="178.0" cy="149.5" r="2.75" fill="#f2b880"/>
<circle cx="139.4" cy="189.9" r="2.75" fill="#f2b880"/>
<circle cx="163.0" cy="157.3" r="2.75" fill="#f2b880"/>
<circle cx="172.0" cy="151.4" r="2.75" fill="#f2b880"/>
<circle cx="170.2" cy="156.8" r="2.75" fill="#f2b880"/>
<circle cx="161.8" cy="159.7" r="2.75" fill="#f2b880"/>
<circle cx="176.9" cy="149.3" r="2.75" fill="#f2b880"/>
<circle cx="170.2" cy="147.8" r="2.75" fill="#f2b880"/>
<circle cx="203.8" cy="127.6" r="2.75" fill="#f2b880"/>
<circle cx="191.1" cy="130.4" r="2.75" fill="#f2b880"/>
<circle cx="180.7" cy="149.5" r="2.75" fill="#f2b880"/>
<circle cx="195.1" cy="128.8" r="2.75" fill="#f2b880"/>
<circle cx="164.2" cy="159.6" r="2.75" fill="#f2b880"/>
<circle cx="172.8" cy="153.3" r="2.75" fill="#f2b880"/>
<circle cx="162.7" cy="159.4" r="2.75" fill="#f2b880"/>
<circle cx="153.6" cy="171.2" r="2.75" fill="#f2b880"/>
<circle cx="154.0" cy="164.2" r="2.75" fill="#f2b880"/>
<circle cx="154.3" cy="170.0" r="2.75" fill="#f2b880"/>
<circle cx="182.7" cy="149.8" r="2.75" fill="#f2b880"/>
<circle cx="195.2" cy="133.5" r="2.75" fill="#f2b880"/>
<circle cx="160.8" cy="169.8" r="2.75" fill="#f2b880"/>
<circle cx="187.3" cy="130.5" r="2.75" fill="#f2b880"/>
<circle cx="185.2" cy="131.9" r="2.75" fill="#f2b880"/>
<circle cx="180.7" cy="147.2" r="2.75" fill="#f2b880"/>
<circle cx="176.7" cy="151.6" r="2.75" fill="#f2b880"/>
<circle cx="174.7" cy="147.9" r="2.75" fill="#f2b880"/>
<circle cx="155.0" cy="170.8" r="2.75" fill="#f2b880"/>
<circle cx="146.5" cy="174.7" r="2.75" fill="#f2b880"/>
<circle cx="142.5" cy="175.2" r="2.75" fill="#f2b880"/>
<circle cx="169.0" cy="151.6" r="2.75" fill="#f2b880"/>
<circle cx="171.0" cy="149.1" r="2.75" fill="#f2b880"/>
<circle cx="141.5" cy="174.0" r="2.75" fill="#f2b880"/>
<circle cx="172.9" cy="151.1" r="2.75" fill="#f2b880"/>
<circle cx="155.2" cy="174.0" r="2.75" fill="#f2b880"/>
<circle cx="160.4" cy="168.5" r="2.75" fill="#f2b880"/>
<circle cx="195.0" cy="124.4" r="2.75" fill="#f2b880"/>
<circle cx="166.8" cy="160.1" r="2.75" fill="#f2b880"/>
<circle cx="193.2" cy="140.0" r="2.75" fill="#f2b880"/>
<circle cx="163.8" cy="162.8" r="2.75" fill="#f2b880"/>
<circle cx="138.7" cy="187.8" r="2.75" fill="#f2b880"/>
<circle cx="202.8" cy="121.7" r="2.75" fill="#f2b880"/>
<circle cx="166.8" cy="158.8" r="2.75" fill="#f2b880"/>
<circle cx="165.2" cy="146.3" r="2.75" fill="#f2b880"/>
<circle cx="187.1" cy="145.1" r="2.75" fill="#f2b880"/>
<circle cx="140.7" cy="184.7" r="2.75" fill="#f2b880"/>
<circle cx="146.1" cy="170.1" r="2.75" fill="#f2b880"/>
<circle cx="139.6" cy="189.2" r="2.75" fill="#f2b880"/>
<circle cx="159.1" cy="167.0" r="2.75" fill="#f2b880"/>
<circle cx="195.7" cy="132.0" r="2.75" fill="#f2b880"/>
<circle cx="190.7" cy="130.9" r="2.75" fill="#f2b880"/>
<circle cx="164.7" cy="162.4" r="2.75" fill="#f2b880"/>
<circle cx="147.9" cy="181.9" r="2.75" fill="#f2b880"/>
<circle cx="91.9" cy="230.3" r="2.75" fill="#45b035"/>
<circle cx="92.6" cy="232.0" r="2.75" fill="#45b035"/>
<circle cx="87.4" cy="237.3" r="2.75" fill="#45b035"/>
<circle cx="100.5" cy="224.4" r="2.75" fill="#45b035"/>
<circle cx="111.2" cy="215.0" r="2.75" fill="#45b035"/>
<circle cx="89.7" cy="232.7" r="2.75" fill="#45b035"/>
<circle cx="102.3" cy="220.8" r="2.75" fill="#45b035"/>
<circle cx="137.6" cy="187.9" r="2.75" fill="#45b035"/>
<circle cx="131.0" cy="197.9" r="2.75" fill="#45b035"/>
<circle cx="106.8" cy="217.7" r="2.75" fill="#45b035"/>
<circle cx="114.7" cy="212.4" r="2.75" fill="#45b035"/>
<circle cx="134.6" cy="194.9" r="2.75" fill="#45b035"/>
<circle cx="137.5" cy="193.9" r="2.75" fill="#45b035"/>
<circle cx="95.5" cy="227.1" r="2.75" fill="#45b035"/>
<circle cx="95.1" cy="228.3" r="2.75" fill="#45b035"/>
<circle cx="125.1" cy="199.9" r="2.75" fill="#45b035"/>
<circle cx="112.8" cy="210.5" r="2.75" fill="#45b035"/>
<circle cx="87.0" cy="236.5" r="2.75" fill="#45b035"/>
<circle cx="128.0" cy="196.7" r="2.75" fill="#45b035"/>
<circle cx="127.7" cy="202.4" r="2.75" fill="#45b035"/>
<circle cx="125.8" cy="198.7" r="2.75" fill="#45b035"/>
<circle cx="107.1" cy="217.7" r="2.75" fill="#45b035"/>
<circle cx="99.3" cy="224.5" r="2.75" fill="#45b035"/>
<circle cx="98.1" cy="226.4" r="2.75" fill="#45b035"/>
<circle cx="105.4" cy="221.7" r="2.75" fill="#45b035"/>
<circle cx="119.2" cy="210.1" r="2.75" fill="#45b035"/>
<circle cx="100.8" cy="221.8" r="2.75" fill="#45b035"/>
<circle cx="103.6" cy="222.1" r="2.75" fill="#45b035"/>
<circle cx="97.3" cy="227.0" r="2.75" fill="#45b035"/>
<circle cx="95.5" cy="231.4" r="2.75" fill="#45b035"/>
<circle cx="93.8" cy="231.6" r="2.75" fill="#45b035"/>
<circle cx="112.2" cy="210.6" r="2.75" fill="#45b035"/>
<circle cx="102.9" cy="227.3" r="2.75" fill="#45b035"/>
<circle cx="131.6" cy="196.0" r="2.75" fill="#45b035"/>
<circle cx="125.1" cy="194.4" r="2.75" fill="#45b035"/>
<circle cx="135.9" cy="185.2" r="2.75" fill="#45b035"/>
<circle cx="107.4" cy="217.7" r="2.75" fill="#45b035"/>
<circle cx="121.2" cy="205.9" r="2.75" fill="#45b035"/>
<circle cx="103.0" cy="220.6" r="2.75" fill="#45b035"/>
<circle cx="94.0" cy="228.0" r="2.75" fill="#45b035"/>
<circle cx="105.8" cy="219.8" r="2.75" fill="#45b035"/>
<circle cx="132.0" cy="195.6" r="2.75" fill="#45b035"/>
<circle cx="118.7" cy="210.0" r="2.75" fill="#45b035"/>
<circle cx="129.4" cy="196.6" r="2.75" fill="#45b035"/>
<circle cx="109.7" cy="216.5" r="2.75" fill="#45b035"/>
<circle cx="98.2" cy="228.1" r="2.75" fill="#45b035"/>
<circle cx="115.8" cy="210.0" r="2.75" fill="#45b035"/>
<circle cx="109.4" cy="215.5" r="2.75" fill="#45b035"/>
<circle cx="117.0" cy="206.9" r="2.75" fill="#45b035"/>
<circle cx="137.4" cy="189.7" r="2.75" fill="#45b035"/>
<circle cx="102.5" cy="222.5" r="2.75" fill="#45b035"/>
<circle cx="131.0" cy="203.3" r="2.75" fill="#45b035"/>
<circle cx="137.3" cy="191.2" r="2.75" fill="#45b035"/>
<circle cx="119.8" cy="205.5" r="2.75" fill="#45b035"/>
<circle cx="129.0" cy="196.0" r="2.75" fill="#45b035"/>
<circle cx="89.8" cy="236.5" r="2.75" fill="#45b035"/>
<circle cx="123.0" cy="202.6" r="2.75" fill="#45b035"/>
<circle cx="114.0" cy="206.5" r="2.75" fill="#45b035"/>
<circle cx="96.5" cy="228.2" r="2.75" fill="#45b035"/>
<circle cx="114.9" cy="206.6" r="2.75" fill="#45b035"/>
<circle cx="111.6" cy="213.1" r="2.75" fill="#45b035"/>
<circle cx="126.0" cy="194.9" r="2.75" fill="#45b035"/>
<circle cx="132.9" cy="192.7" r="2.75" fill="#45b035"/>
<circle cx="91.6" cy="233.5" r="2.75" fill="#45b035"/>
<circle cx="104.2" cy="217.3" r="2.75" fill="#45b035"/>
<circle cx="95.8" cy="231.6" r="2.75" fill="#45b035"/>
<circle cx="130.0" cy="200.3" r="2.75" fill="#45b035"/>
<circle cx="137.2" cy="193.3" r="2.75" fill="#45b035"/>
<circle cx="118.7" cy="203.6" r="2.75" fill="#45b035"/>
<circle cx="120.7" cy="207.7" r="2.75" fill="#45b035"/>
<circle cx="87.2" cy="237.4" r="2.75" fill="#45b035"/>
<circle cx="100.7" cy="221.9" r="2.75" fill="#45b035"/>
<circle cx="122.1" cy="202.8" r="2.75" fill="#45b035"/>
<circle cx="110.4" cy="213.3" r="2.75" fill="#45b035"/>
<circle cx="92.4" cy="228.6" r="2.75" fill="#45b035"/>
<circle cx="96.5" cy="228.8" r="2.75" fill="#45b035"/>
<circle cx="121.9" cy="203.8" r="2.75" fill="#45b035"/>
<circle cx="107.4" cy="219.6" r="2.75" fill="#45b035"/>
<circle cx="118.8" cy="210.8" r="2.75" fill="#45b035"/>
<circle cx="109.9" cy="212.9" r="2.75" fill="#45b035"/>
<circle cx="134.8" cy="194.0" r="2.75" fill="#45b035"/>
<circle cx="116.2" cy="205.7" r="2.75" fill="#45b035"/>
<circle cx="131.2" cy="196.0" r="2.75" fill="#45b035"/>
<circle cx="109.8" cy="210.3" r="2.75" fill="#45b035"/>
<circle cx="106.3" cy="218.5" r="2.75" fill="#45b035"/>
<circle cx="89.7" cy="237.0" r="2.75" fill="#45b035"/>
<circle cx="100.9" cy="229.0" r="2.75" fill="#45b035"/>
<circle cx="122.1" cy="201.0" r="2.75" fill="#45b035"/>
<circle cx="99.0" cy="226.3" r="2.75" fill="#45b035"/>
<circle cx="99.3" cy="224.3" r="2.75" fill="#45b035"/>
<circle cx="104.0" cy="218.5" r="2.75" fill="#45b035"/>
<circle cx="114.5" cy="215.1" r="2.75" fill="#45b035"/>
<circle cx="132.5" cy="191.4" r="2.75" fill="#45b035"/>
<circle cx="123.6" cy="200.7" r="2.75" fill="#45b035"/>
<circle cx="104.1" cy="215.7" r="2.75" fill="#45b035"/>
<circle cx="118.9" cy="210.2" r="2.75" fill="#45b035"/>
<circle cx="105.0" cy="221.6" r="2.75" fill="#45b035"/>
<circle cx="117.5" cy="207.3" r="2.75" fill="#45b035"/>
<circle cx="136.6" cy="187.0" r="2.75" fill="#45b035"/>
<circle cx="119.8" cy="205.7" r="2.75" fill="#45b035"/>
<circle cx="137.7" cy="185.9" r="2.75" fill="#45b035"/>
<circle cx="120.1" cy="204.1" r="2.75" fill="#45b035"/>
<circle cx="137.2" cy="188.4" r="2.75" fill="#45b035"/>
<circle cx="106.7" cy="215.7" r="2.75" fill="#45b035"/>
<circle cx="90.7" cy="231.4" r="2.75" fill="#45b035"/>
<circle cx="124.5" cy="197.8" r="2.75" fill="#45b035"/>
<circle cx="128.1" cy="198.4" r="2.75" fill="#45b035"/>
<circle cx="110.5" cy="218.7" r="2.75" fill="#45b035"/>
<circle cx="130.6" cy="190.0" r="2.75" fill="#45b035"/>
<circle cx="104.5" cy="221.9" r="2.75" fill="#45b035"/>
<circle cx="113.8" cy="207.8" r="2.75" fill="#45b035"/>
<circle cx="112.5" cy="209.7" r="2.75" fill="#45b035"/>
<circle cx="115.6" cy="208.8" r="2.75" fill="#45b035"/>
<circle cx="101.5" cy="222.1" r="2.75" fill="#45b035"/>
<circle cx="99.1" cy="225.8" r="2.75" fill="#45b035"/>
<circle cx="109.6" cy="214.8" r="2.75" fill="#45b035"/>
<circle cx="110.0" cy="214.2" r="2.75" fill="#45b035"/>
<circle cx="94.4" cy="230.5" r="2.75" fill="#45b035"/>
<circle cx="113.4" cy="214.6" r="2.75" fill="#45b035"/>
<circle cx="135.9" cy="188.2" r="2.75" fill="#45b035"/>
<circle cx="87.1" cy="233.6" r="2.75" fill="#98f870"/>
<circle cx="182.8" cy="140.9" r="2.75" fill="#98f870"/>
<circle cx="118.9" cy="204.7" r="2.75" fill="#98f870"/>
<circle cx="145.6" cy="180.6" r="2.75" fill="#98f870"/>
<circle cx="138.3" cy="184.7" r="2.75" fill="#98f870"/>
<circle cx="102.4" cy="220.9" r="2.75" fill="#98f870"/>
<circle cx="142.7" cy="185.3" r="2.75" fill="#98f870"/>
<circle cx="140.7" cy="182.3" r="2.75" fill="#98f870"/>
<circle cx="175.7" cy="159.3" r="2.75" fill="#98f870"/>
<circle cx="104.8" cy="219.5" r="2.75" fill="#98f870"/>
<circle cx="160.4" cy="169.1" r="2.75" fill="#98f870"/>
<circle cx="108.4" cy="213.9" r="2.75" fill="#98f870"/>
<circle cx="114.0" cy="205.8" r="2.75" fill="#98f870"/>
<circle cx="118.7" cy="204.6" r="2.75" fill="#98f870"/>
<circle cx="110.9" cy="213.4" r="2.75" fill="#98f870"/>
<circle cx="105.7" cy="217.4" r="2.75" fill="#98f870"/>
<circle cx="100.5" cy="223.4" r="2.75" fill="#98f870"/>
<circle cx="111.3" cy="216.3" r="2.75" fill="#98f870"/>
<circle cx="148.0" cy="185.3" r="2.75" fill="#98f870"/>
<circle cx="123.0" cy="206.1" r="2.75" fill="#98f870"/>
<circle cx="104.9" cy="222.0" r="2.75" fill="#98f870"/>
<circle cx="116.9" cy="210.3" r="2.75" fill="#98f870"/>
<circle cx="132.6" cy="191.9" r="2.75" fill="#98f870"/>
<circle cx="103.0" cy="220.7" r="2.75" fill="#98f870"/>
<circle cx="168.7" cy="157.0" r="2.75" fill="#98f870"/>
<circle cx="128.1" cy="199.7" r="2.75" fill="#98f870"/>
<circle cx="146.7" cy="178.5" r="2.75" fill="#98f870"/>
<circle cx="136.6" cy="191.7" r="2.75" fill="#98f870"/>
<circle cx="179.4" cy="144.0" r="2.75" fill="#98f870"/>
<circle cx="124.7" cy="198.9" r="2.75" fill="#98f870"/>
<circle cx="143.2" cy="183.5" r="2.75" fill="#98f870"/>
<circle cx="184.8" cy="144.3" r="2.75" fill="#98f870"/>
<circle cx="86.8" cy="236.6" r="2.75" fill="#98f870"/>
<circle cx="196.2" cy="136.3" r="2.75" fill="#98f870"/>
<circle cx="151.4" cy="174.8" r="2.75" fill="#98f870"/>
<circle cx="166.3" cy="164.6" r="2.75" fill="#98f870"/>
<circle cx="113.2" cy="209.7" r="2.75" fill="#98f870"/>
<circle cx="151.2" cy="173.7" r="2.75" fill="#98f870"/>
<circle cx="137.5" cy="190.4" r="2.75" fill="#98f870"/>
<circle cx="93.7" cy="232.5" r="2.75" fill="#98f870"/>
<circle cx="144.8" cy="188.1" r="2.75" fill="#98f870"/>
<circle cx="111.8" cy="215.0" r="2.75" fill="#98f870"/>
<circle cx="137.8" cy="183.8" r="2.75" fill="#98f870"/>
<circle cx="88.3" cy="231.5" r="2.75" fill="#98f870"/>
<circle cx="109.5" cy="217.7" r="2.75" fill="#98f870"/>
<circle cx="128.6" cy="202.8" r="2.75" fill="#98f870"/>
<circle cx="134.1" cy="187.9" r="2.75" fill="#98f870"/>
<circle cx="122.3" cy="200.0" r="2.75" fill="#98f870"/>
<circle cx="107.6" cy="215.5" r="2.75" fill="#98f870"/>
<circle cx="118.3" cy="204.5" r="2.75" fill="#98f870"/>
<circle cx="121.6" cy="202.1" r="2.75" fill="#98f870"/>
<circle cx="115.8" cy="211.1" r="2.75" fill="#98f870"/>
<circle cx="163.8" cy="164.4" r="2.75" fill="#98f870"/>
<circle cx="131.1" cy="196.5" r="2.75" fill="#98f870"/>
<circle cx="102.2" cy="217.5" r="2.75" fill="#98f870"/>
<circle cx="130.3" cy="193.2" r="2.75" fill="#98f870"/>
<circle cx="124.2" cy="208.2" r="2.75" fill="#98f870"/>
<circle cx="170.2" cy="160.8" r="2.75" fill="#98f870"/>
<circle cx="100.6" cy="223.3" r="2.75" fill="#98f870"/>
<circle cx="138.3" cy="189.1" r="2.75" fill="#98f870"/>
<circle cx="129.2" cy="199.7" r="2.75" fill="#98f870"/>
<circle cx="95.7" cy="229.3" r="2.75" fill="#98f870"/>
<circle cx="185.4" cy="142.8" r="2.75" fill="#98f870"/>
<circle cx="158.4" cy="170.1" r="2.75" fill="#98f870"/>
<circle cx="119.2" cy="206.9" r="2.75" fill="#98f870"/>
<circle cx="176.4" cy="152.8" r="2.75" fill="#98f870"/>
<circle cx="193.3" cy="137.0" r="2.75" fill="#98f870"/>
<circle cx="183.1" cy="148.2" r="2.75" fill="#98f870"/>
<circle cx="138.9" cy="187.5" r="2.75" fill="#98f870"/>
<circle cx="87.7" cy="237.4" r="2.75" fill="#98f870"/>
<circle cx="101.9" cy="222.6" r="2.75" fill="#98f870"/>
<circle cx="116.1" cy="206.7" r="2.75" fill="#98f870"/>
<circle cx="103.9" cy="220.8" r="2.75" fill="#98f870"/>
<circle cx="155.6" cy="167.7" r="2.75" fill="#98f870"/>
<circle cx="189.9" cy="142.1" r="2.75" fill="#98f870"/>
<circle cx="174.0" cy="156.5" r="2.75" fill="#98f870"/>
<circle cx="142.7" cy="183.2" r="2.75" fill="#98f870"/>
<circle cx="143.8" cy="185.0" r="2.75" fill="#98f870"/>
<circle cx="134.6" cy="190.9" r="2.75" fill="#98f870"/>
<circle cx="131.1" cy="191.4" r="2.75" fill="#98f870"/>
<circle cx="172.6" cy="158.0" r="2.75" fill="#98f870"/>
<circle cx="144.6" cy="183.0" r="2.75" fill="#98f870"/>
<circle cx="144.0" cy="183.0" r="2.75" fill="#98f870"/>
<circle cx="152.7" cy="175.2" r="2.75" fill="#98f870"/>
<circle cx="93.8" cy="227.7" r="2.75" fill="#98f870"/>
<circle cx="150.7" cy="176.2" r="2.75" fill="#98f870"/>
<circle cx="90.6" cy="229.7" r="2.75" fill="#98f870"/>
<circle cx="181.5" cy="146.2" r="2.75" fill="#98f870"/>
<circle cx="186.4" cy="143.6" r="2.75" fill="#98f870"/>
<circle cx="97.7" cy="226.2" r="2.75" fill="#98f870"/>
<circle cx="108.1" cy="218.0" r="2.75" fill="#98f870"/>
<circle cx="168.3" cy="159.5" r="2.75" fill="#98f870"/>
<circle cx="91.2" cy="235.2" r="2.75" fill="#98f870"/>
<circle cx="175.4" cy="152.4" r="2.75" fill="#98f870"/>
<circle cx="104.8" cy="221.4" r="2.75" fill="#98f870"/>
<circle cx="195.8" cy="129.2" r="2.75" fill="#98f870"/>
<circle cx="193.3" cy="131.1" r="2.75" fill="#98f870"/>
<circle cx="116.4" cy="213.4" r="2.75" fill="#98f870"/>
<circle cx="128.4" cy="200.1" r="2.75" fill="#98f870"/>
<circle cx="151.9" cy="177.7" r="2.75" fill="#98f870"/>
<circle cx="145.2" cy="179.8" r="2.75" fill="#98f870"/>
<circle cx="194.9" cy="134.0" r="2.75" fill="#98f870"/>
<circle cx="88.4" cy="233.1" r="2.75" fill="#98f870"/>
<circle cx="121.9" cy="207.0" r="2.75" fill="#98f870"/>
<circle cx="187.5" cy="140.1" r="2.75" fill="#98f870"/>
<circle cx="195.8" cy="133.5" r="2.75" fill="#98f870"/>
<circle cx="167.8" cy="161.4" r="2.75" fill="#98f870"/>
<circle cx="133.6" cy="189.9" r="2.75" fill="#98f870"/>
<circle cx="122.3" cy="205.4" r="2.75" fill="#98f870"/>
<circle cx="170.1" cy="158.2" r="2.75" fill="#98f870"/>
<circle cx="140.4" cy="185.0" r="2.75" fill="#98f870"/>
<circle cx="115.8" cy="207.6" r="2.75" fill="#98f870"/>
<circle cx="164.1" cy="163.1" r="2.75" fill="#98f870"/>
<circle cx="118.4" cy="202.5" r="2.75" fill="#98f870"/>
<circle cx="140.1" cy="185.1" r="2.75" fill="#98f870"/>
<circle cx="106.6" cy="215.9" r="2.75" fill="#98f870"/>
<circle cx="180.9" cy="146.5" r="2.75" fill="#98f870"/>
<circle cx="133.2" cy="196.2" r="2.75" fill="#98f870"/>
<circle cx="99.8" cy="230.7" r="2.75" fill="#98f870"/>
<circle cx="108.2" cy="212.0" r="2.75" fill="#98f870"/>
<circle cx="196.6" cy="134.0" r="2.75" fill="#98f870"/>
<circle cx="186.3" cy="141.3" r="2.75" fill="#98f870"/>
<circle cx="134.8" cy="192.8" r="2.75" fill="#98f870"/>
<circle cx="131.8" cy="192.2" r="2.75" fill="#98f870"/>
<circle cx="136.5" cy="185.9" r="2.75" fill="#98f870"/>
<circle cx="90.4" cy="232.7" r="2.75" fill="#98f870"/>
<circle cx="154.7" cy="170.5" r="2.75" fill="#98f870"/>
<circle cx="193.6" cy="129.3" r="2.75" fill="#98f870"/>
<circle cx="143.4" cy="179.8" r="2.75" fill="#98f870"/>
<circle cx="157.2" cy="166.1" r="2.75" fill="#98f870"/>
<circle cx="127.9" cy="194.1" r="2.75" fill="#98f870"/>
<circle cx="170.1" cy="161.2" r="2.75" fill="#98f870"/>
<circle cx="93.8" cy="230.6" r="2.75" fill="#98f870"/>
<circle cx="97.7" cy="220.2" r="2.75" fill="#98f870"/>
<circle cx="89.4" cy="234.4" r="2.75" fill="#98f870"/>
<circle cx="118.7" cy="204.6" r="2.75" fill="#98f870"/>
<circle cx="121.2" cy="203.6" r="2.75" fill="#98f870"/>
<circle cx="151.7" cy="179.0" r="2.75" fill="#98f870"/>
<circle cx="91.1" cy="233.8" r="2.75" fill="#98f870"/>
<circle cx="172.5" cy="150.5" r="2.75" fill="#98f870"/>
<circle cx="106.7" cy="219.6" r="2.75" fill="#98f870"/>
<circle cx="195.7" cy="134.7" r="2.75" fill="#98f870"/>
<circle cx="123.4" cy="200.1" r="2.75" fill="#98f870"/>
<circle cx="144.2" cy="185.0" r="2.75" fill="#98f870"/>
<circle cx="148.9" cy="177.5" r="2.75" fill="#98f870"/>
<circle cx="96.4" cy="229.8" r="2.75" fill="#98f870"/>
<circle cx="131.5" cy="194.0" r="2.75" fill="#98f870"/>
<circle cx="135.4" cy="190.0" r="2.75" fill="#98f870"/>
<circle cx="126.4" cy="200.8" r="2.75" fill="#98f870"/>
<circle cx="105.1" cy="218.8" r="2.75" fill="#98f870"/>
<circle cx="209.1" cy="121.6" r="2.75" fill="#98f870"/>
<circle cx="226.6" cy="98.4" r="2.75" fill="#98f870"/>
<circle cx="124.6" cy="196.0" r="2.75" fill="#e02a2a"/>
<circle cx="122.0" cy="195.0" r="2.75" fill="#e02a2a"/>
<circle cx="119.5" cy="202.2" r="2.75" fill="#e02a2a"/>
<circle cx="100.7" cy="217.0" r="2.75" fill="#e02a2a"/>
<circle cx="138.6" cy="180.4" r="2.75" fill="#e02a2a"/>
<circle cx="146.7" cy="175.4" r="2.75" fill="#e02a2a"/>
<circle cx="96.9" cy="221.4" r="2.75" fill="#e02a2a"/>
<circle cx="96.1" cy="223.7" r="2.75" fill="#e02a2a"/>
<circle cx="103.8" cy="211.4" r="2.75" fill="#e02a2a"/>
<circle cx="120.7" cy="196.2" r="2.75" fill="#e02a2a"/>
<circle cx="142.9" cy="180.7" r="2.75" fill="#e02a2a"/>
<circle cx="116.8" cy="202.5" r="2.75" fill="#e02a2a"/>
<circle cx="121.6" cy="199.9" r="2.75" fill="#e02a2a"/>
<circle cx="116.9" cy="204.5" r="2.75" fill="#e02a2a"/>
<circle cx="125.7" cy="191.7" r="2.75" fill="#e02a2a"/>
<circle cx="91.6" cy="226.5" r="2.75" fill="#e02a2a"/>
<circle cx="100.8" cy="215.3" r="2.75" fill="#e02a2a"/>
<circle cx="141.7" cy="183.7" r="2.75" fill="#e02a2a"/>
<circle cx="112.5" cy="212.5" r="2.75" fill="#e02a2a"/>
<circle cx="115.9" cy="205.4" r="2.75" fill="#e02a2a"/>
<circle cx="137.9" cy="185.2" r="2.75" fill="#e02a2a"/>
<circle cx="99.6" cy="218.6" r="2.75" fill="#e02a2a"/>
<circle cx="135.6" cy="177.9" r="2.75" fill="#e02a2a"/>
<circle cx="135.2" cy="185.8" r="2.75" fill="#e02a2a"/>
<circle cx="136.0" cy="183.6" r="2.75" fill="#e02a2a"/>
<circle cx="105.0" cy="215.0" r="2.75" fill="#e02a2a"/>
<circle cx="142.7" cy="174.2" r="2.75" fill="#e02a2a"/>
<circle cx="134.9" cy="184.7" r="2.75" fill="#e02a2a"/>
<circle cx="142.2" cy="174.3" r="2.75" fill="#e02a2a"/>
<circle cx="127.3" cy="194.1" r="2.75" fill="#e02a2a"/>
<circle cx="146.6" cy="172.4" r="2.75" fill="#e02a2a"/>
<circle cx="128.9" cy="192.7" r="2.75" fill="#e02a2a"/>
<circle cx="146.7" cy="175.2" r="2.75" fill="#e02a2a"/>
<circle cx="90.0" cy="228.5" r="2.75" fill="#e02a2a"/>
<circle cx="133.5" cy="185.2" r="2.75" fill="#e02a2a"/>
<circle cx="144.2" cy="182.6" r="2.75" fill="#e02a2a"/>
<circle cx="116.5" cy="204.5" r="2.75" fill="#e02a2a"/>
<circle cx="96.3" cy="220.2" r="2.75" fill="#e02a2a"/>
<circle cx="100.4" cy="220.3" r="2.75" fill="#e02a2a"/>
<circle cx="118.0" cy="205.1" r="2.75" fill="#e02a2a"/>
<circle cx="103.1" cy="213.8" r="2.75" fill="#e02a2a"/>
<circle cx="144.1" cy="172.4" r="2.75" fill="#e02a2a"/>
<circle cx="143.2" cy="175.2" r="2.75" fill="#e02a2a"/>
<circle cx="124.3" cy="196.4" r="2.75" fill="#e02a2a"/>
<circle cx="133.8" cy="187.5" r="2.75" fill="#e02a2a"/>
<circle cx="116.3" cy="200.9" r="2.75" fill="#e02a2a"/>
<circle cx="139.2" cy="184.5" r="2.75" fill="#e02a2a"/>
<circle cx="101.7" cy="217.2" r="2.75" fill="#e02a2a"/>
<circle cx="122.0" cy="197.3" r="2.75" fill="#e02a2a"/>
<circle cx="89.6" cy="225.9" r="2.75" fill="#e02a2a"/>
<circle cx="118.7" cy="196.8" r="2.75" fill="#e02a2a"/>
<circle cx="111.3" cy="208.7" r="2.75" fill="#e02a2a"/>
<circle cx="115.4" cy="202.3" r="2.75" fill="#e02a2a"/>
<circle cx="128.4" cy="191.7" r="2.75" fill="#e02a2a"/>
<circle cx="120.4" cy="203.1" r="2.75" fill="#e02a2a"/>
<circle cx="101.8" cy="221.1" r="2.75" fill="#e02a2a"/>
<circle cx="147.5" cy="175.4" r="2.75" fill="#e02a2a"/>
<circle cx="89.9" cy="228.0" r="2.75" fill="#e02a2a"/>
<circle cx="120.2" cy="199.8" r="2.75" fill="#e02a2a"/>
<circle cx="106.0" cy="208.4" r="2.75" fill="#e02a2a"/>
<circle cx="126.1" cy="194.4" r="2.75" fill="#e02a2a"/>
<circle cx="93.0" cy="227.4" r="2.75" fill="#e02a2a"/>
<circle cx="144.9" cy="175.0" r="2.75" fill="#e02a2a"/>
<circle cx="102.9" cy="216.0" r="2.75" fill="#e02a2a"/>
<circle cx="113.2" cy="203.7" r="2.75" fill="#e02a2a"/>
<circle cx="132.0" cy="185.7" r="2.75" fill="#e02a2a"/>
<circle cx="126.2" cy="195.1" r="2.75" fill="#e02a2a"/>
<circle cx="129.9" cy="193.6" r="2.75" fill="#e02a2a"/>
<circle cx="89.8" cy="228.3" r="2.75" fill="#e02a2a"/>
<circle cx="110.4" cy="208.3" r="2.75" fill="#e02a2a"/>
<circle cx="92.9" cy="220.3" r="2.75" fill="#e02a2a"/>
<circle cx="122.4" cy="198.6" r="2.75" fill="#e02a2a"/>
<circle cx="146.6" cy="172.2" r="2.75" fill="#e02a2a"/>
<circle cx="139.4" cy="179.2" r="2.75" fill="#e02a2a"/>
<circle cx="111.6" cy="211.8" r="2.75" fill="#e02a2a"/>
<circle cx="134.9" cy="181.6" r="2.75" fill="#e02a2a"/>
<circle cx="113.9" cy="207.0" r="2.75" fill="#e02a2a"/>
<circle cx="105.7" cy="210.7" r="2.75" fill="#e02a2a"/>
<circle cx="111.6" cy="208.8" r="2.75" fill="#e02a2a"/>
<circle cx="115.4" cy="199.2" r="2.75" fill="#e02a2a"/>
<circle cx="114.3" cy="208.8" r="2.75" fill="#e02a2a"/>
<circle cx="134.5" cy="181.1" r="2.75" fill="#e02a2a"/>
<circle cx="127.5" cy="192.3" r="2.75" fill="#e02a2a"/>
<circle cx="144.6" cy="178.7" r="2.75" fill="#e02a2a"/>
<circle cx="127.4" cy="196.2" r="2.75" fill="#e02a2a"/>
<circle cx="133.6" cy="184.8" r="2.75" fill="#e02a2a"/>
<circle cx="146.4" cy="177.1" r="2.75" fill="#e02a2a"/>
<circle cx="111.9" cy="203.4" r="2.75" fill="#e02a2a"/>
<circle cx="102.3" cy="217.4" r="2.75" fill="#e02a2a"/>
<circle cx="147.3" cy="175.0" r="2.75" fill="#e02a2a"/>
<circle cx="142.3" cy="174.4" r="2.75" fill="#e02a2a"/>
<circle cx="137.7" cy="181.1" r="2.75" fill="#e02a2a"/>
<circle cx="122.6" cy="198.0" r="2.75" fill="#e02a2a"/>
<circle cx="121.9" cy="202.2" r="2.75" fill="#e02a2a"/>
<circle cx="129.6" cy="193.6" r="2.75" fill="#e02a2a"/>
<circle cx="94.8" cy="224.3" r="2.75" fill="#e02a2a"/>
<circle cx="106.3" cy="213.2" r="2.75" fill="#e02a2a"/>
<circle cx="121.1" cy="205.0" r="2.75" fill="#e02a2a"/>
<circle cx="116.7" cy="200.5" r="2.75" fill="#e02a2a"/>
<circle cx="127.0" cy="189.2" r="2.75" fill="#e02a2a"/>
<circle cx="135.8" cy="185.9" r="2.75" fill="#e02a2a"/>
<circle cx="114.6" cy="203.7" r="2.75" fill="#e02a2a"/>
<circle cx="147.1" cy="180.8" r="2.75" fill="#e02a2a"/>
<circle cx="132.9" cy="190.2" r="2.75" fill="#e02a2a"/>
<circle cx="104.8" cy="215.1" r="2.75" fill="#e02a2a"/>
<circle cx="109.7" cy="212.8" r="2.75" fill="#e02a2a"/>
<circle cx="108.4" cy="210.8" r="2.75" fill="#e02a2a"/>
<circle cx="126.7" cy="193.2" r="2.75" fill="#e02a2a"/>
<circle cx="105.5" cy="208.8" r="2.75" fill="#e02a2a"/>
<circle cx="97.3" cy="224.9" r="2.75" fill="#e02a2a"/>
<circle cx="91.7" cy="225.0" r="2.75" fill="#e02a2a"/>
<circle cx="116.4" cy="207.0" r="2.75" fill="#e02a2a"/>
<circle cx="88.1" cy="227.4" r="2.75" fill="#e02a2a"/>
<circle cx="129.5" cy="195.6" r="2.75" fill="#e02a2a"/>
<circle cx="107.1" cy="210.2" r="2.75" fill="#e02a2a"/>
<circle cx="105.6" cy="214.1" r="2.75" fill="#e02a2a"/>
<circle cx="136.2" cy="187.8" r="2.75" fill="#e02a2a"/>
<circle cx="100.1" cy="219.6" r="2.75" fill="#e02a2a"/>
<circle cx="124.4" cy="190.9" r="2.75" fill="#e02a2a"/>
<circle cx="113.4" cy="199.9" r="2.75" fill="#e02a2a"/>
<circle cx="137.1" cy="179.3" r="2.75" fill="#e02a2a"/>
<circle cx="108.2" cy="212.5" r="2.75" fill="#e02a2a"/>
<circle cx="99.7" cy="214.7" r="2.75" fill="#e02a2a"/>
<circle cx="108.7" cy="213.5" r="2.75" fill="#e02a2a"/>
<circle cx="130.4" cy="185.1" r="2.75" fill="#e02a2a"/>
<circle cx="137.9" cy="181.0" r="2.75" fill="#e02a2a"/>
<circle cx="122.1" cy="196.6" r="2.75" fill="#e02a2a"/>
<circle cx="146.7" cy="173.6" r="2.75" fill="#e02a2a"/>
<circle cx="139.2" cy="179.9" r="2.75" fill="#e02a2a"/>
<circle cx="129.1" cy="190.2" r="2.75" fill="#e02a2a"/>
<circle cx="103.1" cy="217.2" r="2.75" fill="#e02a2a"/>
<circle cx="115.0" cy="207.6" r="2.75" fill="#e02a2a"/>
<circle cx="120.8" cy="200.2" r="2.75" fill="#e02a2a"/>
<circle cx="104.3" cy="212.2" r="2.75" fill="#e02a2a"/>
<circle cx="87.4" cy="231.2" r="2.75" fill="#e02a2a"/>
<circle cx="93.3" cy="221.4" r="2.75" fill="#e02a2a"/>
<circle cx="115.1" cy="206.2" r="2.75" fill="#e02a2a"/>
<circle cx="132.6" cy="187.6" r="2.75" fill="#e02a2a"/>
<circle cx="126.8" cy="194.1" r="2.75" fill="#e02a2a"/>
<circle cx="110.3" cy="211.4" r="2.75" fill="#e02a2a"/>
<circle cx="233.8" cy="104.0" r="2.75" fill="#e02a2a"/>
<circle cx="235.3" cy="95.8" r="2.75" fill="#e02a2a"/>
<circle cx="249.0" cy="81.7" r="2.75" fill="#e02a2a"/>
<circle cx="104.9" cy="215.5" r="2.75" fill="#f29494"/>
<circle cx="135.2" cy="187.5" r="2.75" fill="#f29494"/>
<circle cx="139.6" cy="183.3" r="2.75" fill="#f29494"/>
<circle cx="128.3" cy="194.0" r="2.75" fill="#f29494"/>
<circle cx="110.8" cy="212.9" r="2.75" fill="#f29494"/>
<circle cx="140.3" cy="174.1" r="2.75" fill="#f29494"/>
<circle cx="91.0" cy="227.8" r="2.75" fill="#f29494"/>
<circle cx="145.9" cy="179.3" r="2.75" fill="#f29494"/>
<circle cx="139.2" cy="183.0" r="2.75" fill="#f29494"/>
<circle cx="147.1" cy="165.7" r="2.75" fill="#f29494"/>
<circle cx="95.5" cy="219.7" r="2.75" fill="#f29494"/>
<circle cx="125.6" cy="192.0" r="2.75" fill="#f29494"/>
<circle cx="113.1" cy="204.4" r="2.75" fill="#f29494"/>
<circle cx="122.7" cy="199.1" r="2.75" fill="#f29494"/>
<circle cx="141.5" cy="180.7" r="2.75" fill="#f29494"/>
<circle cx="99.7" cy="222.2" r="2.75" fill="#f29494"/>
<circle cx="121.8" cy="197.2" r="2.75" fill="#f29494"/>
<circle cx="87.5" cy="230.1" r="2.75" fill="#f29494"/>
<circle cx="90.9" cy="224.1" r="2.75" fill="#f29494"/>
<circle cx="106.9" cy="209.3" r="2.75" fill="#f29494"/>
<circle cx="125.4" cy="195.9" r="2.75" fill="#f29494"/>
<circle cx="136.3" cy="185.5" r="2.75" fill="#f29494"/>
<circle cx="88.5" cy="233.8" r="2.75" fill="#f29494"/>
<circle cx="95.0" cy="223.5" r="2.75" fill="#f29494"/>
<circle cx="115.4" cy="203.8" r="2.75" fill="#f29494"/>
<circle cx="106.1" cy="213.5" r="2.75" fill="#f29494"/>
<circle cx="125.3" cy="189.7" r="2.75" fill="#f29494"/>
<circle cx="143.7" cy="173.9" r="2.75" fill="#f29494"/>
<circle cx="136.9" cy="183.1" r="2.75" fill="#f29494"/>
<circle cx="130.2" cy="189.1" r="2.75" fill="#f29494"/>
<circle cx="101.1" cy="215.2" r="2.75" fill="#f29494"/>
<circle cx="142.6" cy="179.3" r="2.75" fill="#f29494"/>
<circle cx="100.9" cy="218.9" r="2.75" fill="#f29494"/>
<circle cx="138.1" cy="185.6" r="2.75" fill="#f29494"/>
<circle cx="124.9" cy="203.1" r="2.75" fill="#f29494"/>
<circle cx="130.3" cy="191.3" r="2.75" fill="#f29494"/>
<circle cx="109.9" cy="209.6" r="2.75" fill="#f29494"/>
<circle cx="89.4" cy="222.3" r="2.75" fill="#f29494"/>
<circle cx="106.6" cy="211.4" r="2.75" fill="#f29494"/>
<circle cx="122.7" cy="196.0" r="2.75" fill="#f29494"/>
<circle cx="117.0" cy="203.8" r="2.75" fill="#f29494"/>
<circle cx="121.0" cy="199.0" r="2.75" fill="#f29494"/>
<circle cx="91.2" cy="225.7" r="2.75" fill="#f29494"/>
<circle cx="88.5" cy="228.9" r="2.75" fill="#f29494"/>
<circle cx="124.4" cy="193.0" r="2.75" fill="#f29494"/>
<circle cx="133.0" cy="188.0" r="2.75" fill="#f29494"/>
<circle cx="95.5" cy="224.0" r="2.75" fill="#f29494"/>
<circle cx="88.7" cy="224.8" r="2.75" fill="#f29494"/>
<circle cx="91.7" cy="225.9" r="2.75" fill="#f29494"/>
<circle cx="138.2" cy="188.3" r="2.75" fill="#f29494"/>
<circle cx="93.3" cy="228.5" r="2.75" fill="#f29494"/>
<circle cx="98.1" cy="219.5" r="2.75" fill="#f29494"/>
<circle cx="96.7" cy="221.0" r="2.75" fill="#f29494"/>
<circle cx="119.2" cy="202.0" r="2.75" fill="#f29494"/>
<circle cx="117.5" cy="201.3" r="2.75" fill="#f29494"/>
<circle cx="115.5" cy="200.7" r="2.75" fill="#f29494"/>
<circle cx="107.0" cy="211.5" r="2.75" fill="#f29494"/>
<circle cx="140.8" cy="183.1" r="2.75" fill="#f29494"/>
<circle cx="144.0" cy="179.1" r="2.75" fill="#f29494"/>
<circle cx="109.9" cy="210.3" r="2.75" fill="#f29494"/>
<circle cx="142.0" cy="182.2" r="2.75" fill="#f29494"/>
<circle cx="103.8" cy="216.5" r="2.75" fill="#f29494"/>
<circle cx="129.2" cy="186.7" r="2.75" fill="#f29494"/>
<circle cx="97.8" cy="224.9" r="2.75" fill="#f29494"/>
<circle cx="93.3" cy="222.3" r="2.75" fill="#f29494"/>
<circle cx="131.8" cy="187.1" r="2.75" fill="#f29494"/>
<circle cx="145.1" cy="178.6" r="2.75" fill="#f29494"/>
<circle cx="121.8" cy="190.4" r="2.75" fill="#f29494"/>
<circle cx="126.6" cy="200.7" r="2.75" fill="#f29494"/>
<circle cx="95.2" cy="226.1" r="2.75" fill="#f29494"/>
<circle cx="134.2" cy="184.5" r="2.75" fill="#f29494"/>
<circle cx="124.9" cy="195.9" r="2.75" fill="#f29494"/>
<circle cx="98.1" cy="218.6" r="2.75" fill="#f29494"/>
<circle cx="138.9" cy="179.9" r="2.75" fill="#f29494"/>
<circle cx="128.9" cy="191.9" r="2.75" fill="#f29494"/>
<circle cx="138.4" cy="181.5" r="2.75" fill="#f29494"/>
<circle cx="86.5" cy="228.9" r="2.75" fill="#f29494"/>
<circle cx="86.5" cy="232.6" r="2.75" fill="#f29494"/>
<circle cx="125.5" cy="192.9" r="2.75" fill="#f29494"/>
<circle cx="130.3" cy="190.0" r="2.75" fill="#f29494"/>
<circle cx="138.9" cy="178.8" r="2.75" fill="#f29494"/>
<circle cx="112.2" cy="208.6" r="2.75" fill="#f29494"/>
<circle cx="131.8" cy="186.2" r="2.75" fill="#f29494"/>
<circle cx="128.4" cy="189.2" r="2.75" fill="#f29494"/>
<circle cx="98.9" cy="216.5" r="2.75" fill="#f29494"/>
<circle cx="96.3" cy="219.9" r="2.75" fill="#f29494"/>
<circle cx="131.2" cy="188.9" r="2.75" fill="#f29494"/>
<circle cx="127.7" cy="191.8" r="2.75" fill="#f29494"/>
<circle cx="88.6" cy="229.9" r="2.75" fill="#f29494"/>
<circle cx="136.9" cy="185.7" r="2.75" fill="#f29494"/>
<circle cx="109.2" cy="213.3" r="2.75" fill="#f29494"/>
<circle cx="125.7" cy="192.7" r="2.75" fill="#f29494"/>
<circle cx="96.3" cy="222.2" r="2.75" fill="#f29494"/>
<circle cx="119.0" cy="198.4" r="2.75" fill="#f29494"/>
<circle cx="107.5" cy="209.3" r="2.75" fill="#f29494"/>
<circle cx="127.5" cy="193.8" r="2.75" fill="#f29494"/>
<circle cx="122.1" cy="203.9" r="2.75" fill="#f29494"/>
<circle cx="127.9" cy="190.3" r="2.75" fill="#f29494"/>
<circle cx="125.2" cy="195.6" r="2.75" fill="#f29494"/>
<circle cx="87.1" cy="233.0" r="2.75" fill="#f29494"/>
<circle cx="117.6" cy="202.0" r="2.75" fill="#f29494"/>
<circle cx="90.0" cy="226.2" r="2.75" fill="#f29494"/>
<circle cx="147.1" cy="171.4" r="2.75" fill="#f29494"/>
<circle cx="104.2" cy="218.0" r="2.75" fill="#f29494"/>
<circle cx="110.6" cy="208.1" r="2.75" fill="#f29494"/>
<circle cx="116.1" cy="206.3" r="2.75" fill="#f29494"/>
<circle cx="147.6" cy="171.9" r="2.75" fill="#f29494"/>
<circle cx="110.9" cy="205.2" r="2.75" fill="#f29494"/>
<circle cx="95.6" cy="221.4" r="2.75" fill="#f29494"/>
<circle cx="123.3" cy="196.7" r="2.75" fill="#f29494"/>
<circle cx="108.9" cy="213.4" r="2.75" fill="#f29494"/>
<circle cx="99.5" cy="214.2" r="2.75" fill="#f29494"/>
<circle cx="94.5" cy="223.8" r="2.75" fill="#f29494"/>
<circle cx="140.9" cy="180.3" r="2.75" fill="#f29494"/>
<circle cx="99.5" cy="220.3" r="2.75" fill="#f29494"/>
<circle cx="123.5" cy="190.5" r="2.75" fill="#f29494"/>
<circle cx="95.2" cy="221.7" r="2.75" fill="#f29494"/>
<circle cx="93.1" cy="222.0" r="2.75" fill="#f29494"/>
<circle cx="141.6" cy="178.7" r="2.75" fill="#f29494"/>
<circle cx="99.1" cy="216.6" r="2.75" fill="#f29494"/>
<circle cx="104.9" cy="213.4" r="2.75" fill="#f29494"/>
<circle cx="99.2" cy="220.3" r="2.75" fill="#f29494"/>
<circle cx="144.5" cy="177.9" r="2.75" fill="#f29494"/>
<circle cx="106.0" cy="214.2" r="2.75" fill="#f29494"/>
<circle cx="88.9" cy="234.5" r="2.75" fill="#f29494"/>
<circle cx="157.0" cy="177.1" r="2.75" fill="#8a4ad8"/>
<circle cx="164.4" cy="162.1" r="2.75" fill="#8a4ad8"/>
<circle cx="169.0" cy="150.3" r="2.75" fill="#8a4ad8"/>
<circle cx="170.3" cy="145.9" r="2.75" fill="#8a4ad8"/>
<circle cx="194.4" cy="131.0" r="2.75" fill="#8a4ad8"/>
<circle cx="154.1" cy="173.8" r="2.75" fill="#8a4ad8"/>
<circle cx="203.1" cy="129.1" r="2.75" fill="#8a4ad8"/>
<circle cx="172.4" cy="150.8" r="2.75" fill="#8a4ad8"/>
<circle cx="213.1" cy="114.6" r="2.75" fill="#8a4ad8"/>
<circle cx="187.8" cy="138.1" r="2.75" fill="#8a4ad8"/>
<circle cx="199.3" cy="133.4" r="2.75" fill="#8a4ad8"/>
<circle cx="175.0" cy="155.0" r="2.75" fill="#8a4ad8"/>
<circle cx="172.8" cy="154.6" r="2.75" fill="#8a4ad8"/>
<circle cx="171.3" cy="149.5" r="2.75" fill="#8a4ad8"/>
<circle cx="204.5" cy="118.4" r="2.75" fill="#8a4ad8"/>
<circle cx="173.6" cy="157.0" r="2.75" fill="#8a4ad8"/>
<circle cx="164.5" cy="159.4" r="2.75" fill="#8a4ad8"/>
<circle cx="209.5" cy="113.9" r="2.75" fill="#8a4ad8"/>
<circle cx="173.1" cy="148.4" r="2.75" fill="#8a4ad8"/>
<circle cx="207.5" cy="116.0" r="2.75" fill="#8a4ad8"/>
<circle cx="164.7" cy="158.0" r="2.75" fill="#8a4ad8"/>
<circle cx="171.3" cy="155.5" r="2.75" fill="#8a4ad8"/>
<circle cx="161.2" cy="162.9" r="2.75" fill="#8a4ad8"/>
<circle cx="196.6" cy="123.1" r="2.75" fill="#8a4ad8"/>
<circle cx="190.5" cy="132.5" r="2.75" fill="#8a4ad8"/>
<circle cx="155.7" cy="170.9" r="2.75" fill="#8a4ad8"/>
<circle cx="200.8" cy="124.9" r="2.75" fill="#8a4ad8"/>
<circle cx="187.9" cy="137.0" r="2.75" fill="#8a4ad8"/>
<circle cx="150.0" cy="176.2" r="2.75" fill="#8a4ad8"/>
<circle cx="171.8" cy="149.4" r="2.75" fill="#8a4ad8"/>
<circle cx="205.9" cy="121.6" r="2.75" fill="#8a4ad8"/>
<circle cx="153.7" cy="169.8" r="2.75" fill="#8a4ad8"/>
<circle cx="154.2" cy="164.0" r="2.75" fill="#8a4ad8"/>
<circle cx="214.3" cy="108.7" r="2.75" fill="#8a4ad8"/>
<circle cx="207.9" cy="109.5" r="2.75" fill="#8a4ad8"/>
<circle cx="179.4" cy="146.6" r="2.75" fill="#8a4ad8"/>
<circle cx="192.6" cy="128.6" r="2.75" fill="#8a4ad8"/>
<circle cx="182.3" cy="136.6" r="2.75" fill="#8a4ad8"/>
<circle cx="193.9" cy="138.6" r="2.75" fill="#8a4ad8"/>
<circle cx="153.9" cy="172.2" r="2.75" fill="#8a4ad8"/>
<circle cx="150.8" cy="164.7" r="2.75" fill="#8a4ad8"/>
<circle cx="177.1" cy="136.0" r="2.75" fill="#8a4ad8"/>
<circle cx="185.5" cy="140.2" r="2.75" fill="#8a4ad8"/>
<circle cx="204.4" cy="112.4" r="2.75" fill="#8a4ad8"/>
<circle cx="147.7" cy="176.4" r="2.75" fill="#8a4ad8"/>
<circle cx="152.3" cy="170.6" r="2.75" fill="#8a4ad8"/>
<circle cx="199.3" cy="131.8" r="2.75" fill="#8a4ad8"/>
<circle cx="182.6" cy="145.3" r="2.75" fill="#8a4ad8"/>
<circle cx="178.7" cy="145.4" r="2.75" fill="#8a4ad8"/>
<circle cx="156.9" cy="158.3" r="2.75" fill="#8a4ad8"/>
<circle cx="183.4" cy="140.9" r="2.75" fill="#8a4ad8"/>
<circle cx="203.7" cy="121.6" r="2.75" fill="#8a4ad8"/>
<circle cx="158.3" cy="158.1" r="2.75" fill="#8a4ad8"/>
<circle cx="198.4" cy="138.5" r="2.75" fill="#8a4ad8"/>
<circle cx="210.6" cy="114.3" r="2.75" fill="#8a4ad8"/>
<circle cx="163.2" cy="157.3" r="2.75" fill="#8a4ad8"/>
<circle cx="208.8" cy="119.2" r="2.75" fill="#8a4ad8"/>
<circle cx="163.8" cy="158.7" r="2.75" fill="#8a4ad8"/>
<circle cx="196.0" cy="127.9" r="2.75" fill="#8a4ad8"/>
<circle cx="179.1" cy="149.9" r="2.75" fill="#8a4ad8"/>
<circle cx="178.2" cy="148.6" r="2.75" fill="#8a4ad8"/>
<circle cx="185.7" cy="145.6" r="2.75" fill="#8a4ad8"/>
<circle cx="150.7" cy="175.0" r="2.75" fill="#8a4ad8"/>
<circle cx="153.0" cy="166.3" r="2.75" fill="#8a4ad8"/>
<circle cx="210.9" cy="114.0" r="2.75" fill="#8a4ad8"/>
<circle cx="172.4" cy="152.1" r="2.75" fill="#8a4ad8"/>
<circle cx="156.9" cy="173.6" r="2.75" fill="#8a4ad8"/>
<circle cx="159.5" cy="168.3" r="2.75" fill="#8a4ad8"/>
<circle cx="148.7" cy="173.1" r="2.75" fill="#8a4ad8"/>
<circle cx="200.7" cy="127.8" r="2.75" fill="#8a4ad8"/>
<circle cx="160.3" cy="165.8" r="2.75" fill="#8a4ad8"/>
<circle cx="168.0" cy="147.4" r="2.75" fill="#8a4ad8"/>
<circle cx="171.5" cy="160.5" r="2.75" fill="#8a4ad8"/>
<circle cx="202.1" cy="121.5" r="2.75" fill="#8a4ad8"/>
<circle cx="188.0" cy="125.0" r="2.75" fill="#8a4ad8"/>
<circle cx="214.2" cy="114.5" r="2.75" fill="#8a4ad8"/>
<circle cx="201.7" cy="120.3" r="2.75" fill="#8a4ad8"/>
<circle cx="204.0" cy="118.3" r="2.75" fill="#8a4ad8"/>
<circle cx="161.3" cy="153.5" r="2.75" fill="#8a4ad8"/>
<circle cx="151.0" cy="177.1" r="2.75" fill="#8a4ad8"/>
<circle cx="167.3" cy="166.1" r="2.75" fill="#8a4ad8"/>
<circle cx="202.7" cy="116.7" r="2.75" fill="#8a4ad8"/>
<circle cx="164.1" cy="159.4" r="2.75" fill="#8a4ad8"/>
<circle cx="151.9" cy="174.9" r="2.75" fill="#8a4ad8"/>
<circle cx="175.3" cy="153.0" r="2.75" fill="#8a4ad8"/>
<circle cx="167.2" cy="157.4" r="2.75" fill="#8a4ad8"/>
<circle cx="192.9" cy="134.6" r="2.75" fill="#8a4ad8"/>
<circle cx="165.8" cy="152.3" r="2.75" fill="#8a4ad8"/>
<circle cx="167.6" cy="156.3" r="2.75" fill="#8a4ad8"/>
<circle cx="179.9" cy="141.6" r="2.75" fill="#8a4ad8"/>
<circle cx="206.7" cy="122.1" r="2.75" fill="#8a4ad8"/>
<circle cx="149.3" cy="168.7" r="2.75" fill="#8a4ad8"/>
<circle cx="200.4" cy="130.0" r="2.75" fill="#8a4ad8"/>
<circle cx="198.1" cy="128.8" r="2.75" fill="#8a4ad8"/>
<circle cx="200.9" cy="118.8" r="2.75" fill="#8a4ad8"/>
<circle cx="192.9" cy="140.6" r="2.75" fill="#8a4ad8"/>
<circle cx="183.5" cy="145.9" r="2.75" fill="#8a4ad8"/>
<circle cx="205.3" cy="122.9" r="2.75" fill="#8a4ad8"/>
<circle cx="198.1" cy="131.7" r="2.75" fill="#8a4ad8"/>
<circle cx="151.0" cy="175.7" r="2.75" fill="#8a4ad8"/>
<circle cx="172.9" cy="147.8" r="2.75" fill="#8a4ad8"/>
<circle cx="157.3" cy="166.2" r="2.75" fill="#8a4ad8"/>
<circle cx="180.5" cy="143.8" r="2.75" fill="#8a4ad8"/>
<circle cx="148.1" cy="178.1" r="2.75" fill="#8a4ad8"/>
<circle cx="196.9" cy="121.7" r="2.75" fill="#8a4ad8"/>
<circle cx="153.1" cy="175.1" r="2.75" fill="#8a4ad8"/>
<circle cx="196.8" cy="117.3" r="2.75" fill="#8a4ad8"/>
<circle cx="149.9" cy="168.0" r="2.75" fill="#8a4ad8"/>
<circle cx="170.4" cy="144.8" r="2.75" fill="#8a4ad8"/>
<circle cx="156.0" cy="160.3" r="2.75" fill="#8a4ad8"/>
<circle cx="166.0" cy="158.2" r="2.75" fill="#8a4ad8"/>
<circle cx="175.2" cy="150.5" r="2.75" fill="#8a4ad8"/>
<circle cx="176.9" cy="156.4" r="2.75" fill="#8a4ad8"/>
<circle cx="208.6" cy="123.5" r="2.75" fill="#8a4ad8"/>
<circle cx="163.0" cy="159.7" r="2.75" fill="#8a4ad8"/>
<circle cx="188.4" cy="130.5" r="2.75" fill="#8a4ad8"/>
<circle cx="214.2" cy="111.9" r="2.75" fill="#8a4ad8"/>
<circle cx="161.7" cy="160.2" r="2.75" fill="#8a4ad8"/>
<circle cx="204.1" cy="117.6" r="2.75" fill="#8a4ad8"/>
<circle cx="200.5" cy="123.6" r="2.75" fill="#8a4ad8"/>
<circle cx="254.8" cy="79.1" r="2.75" fill="#8a4ad8"/>
<circle cx="258.5" cy="73.3" r="2.75" fill="#8a4ad8"/>
<circle cx="201.4" cy="130.9" r="2.75" fill="#c282f2"/>
<circle cx="188.7" cy="133.4" r="2.75" fill="#c282f2"/>
<circle cx="189.7" cy="136.2" r="2.75" fill="#c282f2"/>
<circle cx="166.5" cy="159.5" r="2.75" fill="#c282f2"/>
<circle cx="170.5" cy="150.2" r="2.75" fill="#c282f2"/>
<circle cx="214.2" cy="98.4" r="2.75" fill="#c282f2"/>
<circle cx="209.5" cy="112.5" r="2.75" fill="#c282f2"/>
<circle cx="202.3" cy="127.7" r="2.75" fill="#c282f2"/>
<circle cx="208.8" cy="114.2" r="2.75" fill="#c282f2"/>
<circle cx="187.4" cy="135.6" r="2.75" fill="#c282f2"/>
<circle cx="218.2" cy="114.0" r="2.75" fill="#c282f2"/>
<circle cx="200.0" cy="121.8" r="2.75" fill="#c282f2"/>
<circle cx="196.7" cy="117.7" r="2.75" fill="#c282f2"/>
<circle cx="206.7" cy="113.5" r="2.75" fill="#c282f2"/>
<circle cx="170.1" cy="159.5" r="2.75" fill="#c282f2"/>
<circle cx="164.2" cy="155.7" r="2.75" fill="#c282f2"/>
<circle cx="181.9" cy="141.2" r="2.75" fill="#c282f2"/>
<circle cx="183.0" cy="136.7" r="2.75" fill="#c282f2"/>
<circle cx="213.4" cy="111.9" r="2.75" fill="#c282f2"/>
<circle cx="194.8" cy="130.0" r="2.75" fill="#c282f2"/>
<circle cx="195.1" cy="131.5" r="2.75" fill="#c282f2"/>
<circle cx="198.2" cy="122.3" r="2.75" fill="#c282f2"/>
<circle cx="199.2" cy="118.7" r="2.75" fill="#c282f2"/>
<circle cx="207.0" cy="121.4" r="2.75" fill="#c282f2"/>
<circle cx="207.3" cy="111.8" r="2.75" fill="#c282f2"/>
<circle cx="195.1" cy="129.1" r="2.75" fill="#c282f2"/>
<circle cx="210.4" cy="118.0" r="2.75" fill="#c282f2"/>
<circle cx="208.4" cy="119.3" r="2.75" fill="#c282f2"/>
<circle cx="217.9" cy="115.4" r="2.75" fill="#c282f2"/>
<circle cx="218.2" cy="112.3" r="2.75" fill="#c282f2"/>
<circle cx="212.5" cy="113.0" r="2.75" fill="#c282f2"/>
<circle cx="179.0" cy="143.5" r="2.75" fill="#c282f2"/>
<circle cx="181.7" cy="142.6" r="2.75" fill="#c282f2"/>
<circle cx="176.2" cy="139.1" r="2.75" fill="#c282f2"/>
<circle cx="165.1" cy="161.3" r="2.75" fill="#c282f2"/>
<circle cx="178.3" cy="147.6" r="2.75" fill="#c282f2"/>
<circle cx="169.5" cy="156.4" r="2.75" fill="#c282f2"/>
<circle cx="176.0" cy="147.5" r="2.75" fill="#c282f2"/>
<circle cx="175.4" cy="153.4" r="2.75" fill="#c282f2"/>
<circle cx="190.3" cy="132.9" r="2.75" fill="#c282f2"/>
<circle cx="178.9" cy="146.0" r="2.75" fill="#c282f2"/>
<circle cx="200.4" cy="114.9" r="2.75" fill="#c282f2"/>
<circle cx="210.6" cy="114.3" r="2.75" fill="#c282f2"/>
<circle cx="203.3" cy="122.7" r="2.75" fill="#c282f2"/>
<circle cx="218.1" cy="106.6" r="2.75" fill="#c282f2"/>
<circle cx="195.7" cy="131.0" r="2.75" fill="#c282f2"/>
<circle cx="165.8" cy="150.7" r="2.75" fill="#c282f2"/>
<circle cx="217.6" cy="108.7" r="2.75" fill="#c282f2"/>
<circle cx="161.8" cy="162.1" r="2.75" fill="#c282f2"/>
<circle cx="176.0" cy="150.1" r="2.75" fill="#c282f2"/>
<circle cx="177.1" cy="151.3" r="2.75" fill="#c282f2"/>
<circle cx="212.0" cy="122.1" r="2.75" fill="#c282f2"/>
<circle cx="173.0" cy="148.7" r="2.75" fill="#c282f2"/>
<circle cx="162.2" cy="161.8" r="2.75" fill="#c282f2"/>
<circle cx="215.6" cy="104.0" r="2.75" fill="#c282f2"/>
<circle cx="157.6" cy="158.6" r="2.75" fill="#c282f2"/>
<circle cx="161.2" cy="153.9" r="2.75" fill="#c282f2"/>
<circle cx="184.8" cy="144.4" r="2.75" fill="#c282f2"/>
<circle cx="200.4" cy="118.0" r="2.75" fill="#c282f2"/>
<circle cx="199.0" cy="123.6" r="2.75" fill="#c282f2"/>
<circle cx="201.7" cy="123.9" r="2.75" fill="#c282f2"/>
<circle cx="193.0" cy="135.0" r="2.75" fill="#c282f2"/>
<circle cx="189.7" cy="134.5" r="2.75" fill="#c282f2"/>
<circle cx="178.9" cy="140.1" r="2.75" fill="#c282f2"/>
<circle cx="180.0" cy="143.0" r="2.75" fill="#c282f2"/>
<circle cx="203.5" cy="120.6" r="2.75" fill="#c282f2"/>
<circle cx="193.6" cy="127.5" r="2.75" fill="#c282f2"/>
<circle cx="195.0" cy="127.8" r="2.75" fill="#c282f2"/>
<circle cx="216.0" cy="110.1" r="2.75" fill="#c282f2"/>
<circle cx="166.5" cy="152.3" r="2.75" fill="#c282f2"/>
<circle cx="187.8" cy="139.9" r="2.75" fill="#c282f2"/>
<circle cx="176.7" cy="143.9" r="2.75" fill="#c282f2"/>
<circle cx="190.1" cy="132.5" r="2.75" fill="#c282f2"/>
<circle cx="211.1" cy="113.0" r="2.75" fill="#c282f2"/>
<circle cx="200.5" cy="122.9" r="2.75" fill="#c282f2"/>
<circle cx="202.0" cy="114.8" r="2.75" fill="#c282f2"/>
<circle cx="167.1" cy="144.5" r="2.75" fill="#c282f2"/>
<circle cx="190.7" cy="135.2" r="2.75" fill="#c282f2"/>
<circle cx="180.1" cy="141.4" r="2.75" fill="#c282f2"/>
<circle cx="160.1" cy="162.8" r="2.75" fill="#c282f2"/>
<circle cx="179.2" cy="139.8" r="2.75" fill="#c282f2"/>
<circle cx="184.1" cy="136.9" r="2.75" fill="#c282f2"/>
<circle cx="197.8" cy="121.2" r="2.75" fill="#c282f2"/>
<circle cx="184.6" cy="135.3" r="2.75" fill="#c282f2"/>
<circle cx="173.6" cy="147.5" r="2.75" fill="#c282f2"/>
<circle cx="206.0" cy="121.8" r="2.75" fill="#c282f2"/>
<circle cx="191.4" cy="139.9" r="2.75" fill="#c282f2"/>
<circle cx="200.0" cy="125.9" r="2.75" fill="#c282f2"/>
<circle cx="169.7" cy="156.8" r="2.75" fill="#c282f2"/>
<circle cx="163.0" cy="158.6" r="2.75" fill="#c282f2"/>
<circle cx="183.0" cy="137.8" r="2.75" fill="#c282f2"/>
<circle cx="209.5" cy="114.4" r="2.75" fill="#c282f2"/>
<circle cx="181.4" cy="138.7" r="2.75" fill="#c282f2"/>
<circle cx="215.2" cy="110.1" r="2.75" fill="#c282f2"/>
<circle cx="157.8" cy="162.6" r="2.75" fill="#c282f2"/>
<circle cx="194.6" cy="127.8" r="2.75" fill="#c282f2"/>
<circle cx="164.5" cy="159.3" r="2.75" fill="#c282f2"/>
<circle cx="193.9" cy="132.0" r="2.75" fill="#c282f2"/>
<circle cx="206.6" cy="116.7" r="2.75" fill="#c282f2"/>
<circle cx="166.3" cy="158.3" r="2.75" fill="#c282f2"/>
<circle cx="159.3" cy="157.6" r="2.75" fill="#c282f2"/>
<circle cx="187.4" cy="141.6" r="2.75" fill="#c282f2"/>
<circle cx="208.6" cy="111.8" r="2.75" fill="#c282f2"/>
<circle cx="178.7" cy="152.2" r="2.75" fill="#c282f2"/>
<circle cx="204.3" cy="134.4" r="2.75" fill="#c282f2"/>
<circle cx="183.9" cy="137.0" r="2.75" fill="#c282f2"/>
<circle cx="216.8" cy="107.8" r="2.75" fill="#c282f2"/>
<circle cx="174.2" cy="158.8" r="2.75" fill="#c282f2"/>
<circle cx="161.4" cy="166.0" r="2.75" fill="#c282f2"/>
<circle cx="166.5" cy="166.8" r="2.75" fill="#c282f2"/>
<circle cx="161.5" cy="162.4" r="2.75" fill="#c282f2"/>
<circle cx="207.6" cy="116.5" r="2.75" fill="#c282f2"/>
<circle cx="209.8" cy="120.1" r="2.75" fill="#c282f2"/>
<circle cx="205.8" cy="117.3" r="2.75" fill="#c282f2"/>
<circle cx="182.5" cy="137.4" r="2.75" fill="#c282f2"/>
<circle cx="164.9" cy="153.0" r="2.75" fill="#c282f2"/>
<circle cx="183.5" cy="133.7" r="2.75" fill="#c282f2"/>
<circle cx="210.6" cy="107.1" r="2.75" fill="#c282f2"/>
<circle cx="167.3" cy="156.6" r="2.75" fill="#c282f2"/>
<circle cx="197.1" cy="117.6" r="2.75" fill="#c282f2"/>
<circle cx="160.5" cy="159.9" r="2.75" fill="#c282f2"/>
<circle cx="215.3" cy="104.8" r="2.75" fill="#c282f2"/>
<circle cx="173.4" cy="143.2" r="2.75" fill="#c282f2"/>
<circle cx="214.5" cy="108.7" r="2.75" fill="#c282f2"/>
<circle cx="170.1" cy="151.3" r="2.75" fill="#c282f2"/>
<circle cx="210.9" cy="113.8" r="2.75" fill="#c282f2"/>
<circle cx="158.5" cy="166.7" r="2.75" fill="#c282f2"/>
<circle cx="213.4" cy="113.3" r="2.75" fill="#c282f2"/>
<circle cx="174.7" cy="151.3" r="2.75" fill="#c282f2"/>
<circle cx="173.3" cy="151.9" r="2.75" fill="#c282f2"/>
<circle cx="253.3" cy="84.7" r="2.75" fill="#c282f2"/>
<circle cx="225.3" cy="115.1" r="2.75" fill="#c282f2"/>
<circle cx="257.8" cy="79.3" r="2.75" fill="#c282f2"/>
<circle cx="241.4" cy="93.1" r="2.75" fill="#c282f2"/>
<circle cx="164.5" cy="153.9" r="2.75" fill="#9a4a3a"/>
<circle cx="163.7" cy="159.6" r="2.75" fill="#9a4a3a"/>
<circle cx="166.2" cy="158.7" r="2.75" fill="#9a4a3a"/>
<circle cx="214.6" cy="117.1" r="2.75" fill="#9a4a3a"/>
<circle cx="208.6" cy="112.1" r="2.75" fill="#9a4a3a"/>
<circle cx="195.6" cy="131.9" r="2.75" fill="#9a4a3a"/>
<circle cx="177.4" cy="153.0" r="2.75" fill="#9a4a3a"/>
<circle cx="196.8" cy="125.5" r="2.75" fill="#9a4a3a"/>
<circle cx="201.6" cy="125.2" r="2.75" fill="#9a4a3a"/>
<circle cx="184.1" cy="140.8" r="2.75" fill="#9a4a3a"/>
<circle cx="191.0" cy="142.1" r="2.75" fill="#9a4a3a"/>
<circle cx="199.0" cy="128.6" r="2.75" fill="#9a4a3a"/>
<circle cx="191.4" cy="134.9" r="2.75" fill="#9a4a3a"/>
<circle cx="211.8" cy="113.3" r="2.75" fill="#9a4a3a"/>
<circle cx="175.5" cy="155.4" r="2.75" fill="#9a4a3a"/>
<circle cx="168.4" cy="159.4" r="2.75" fill="#9a4a3a"/>
<circle cx="162.7" cy="161.6" r="2.75" fill="#9a4a3a"/>
<circle cx="169.4" cy="151.9" r="2.75" fill="#9a4a3a"/>
<circle cx="189.6" cy="133.4" r="2.75" fill="#9a4a3a"/>
<circle cx="195.8" cy="124.7" r="2.75" fill="#9a4a3a"/>
<circle cx="195.0" cy="133.2" r="2.75" fill="#9a4a3a"/>
<circle cx="170.7" cy="149.3" r="2.75" fill="#9a4a3a"/>
<circle cx="193.4" cy="126.5" r="2.75" fill="#9a4a3a"/>
<circle cx="204.6" cy="123.7" r="2.75" fill="#9a4a3a"/>
<circle cx="180.3" cy="152.8" r="2.75" fill="#9a4a3a"/>
<circle cx="168.9" cy="153.0" r="2.75" fill="#9a4a3a"/>
<circle cx="217.7" cy="126.5" r="2.75" fill="#9a4a3a"/>
<circle cx="181.1" cy="144.3" r="2.75" fill="#9a4a3a"/>
<circle cx="158.6" cy="172.6" r="2.75" fill="#9a4a3a"/>
<circle cx="205.5" cy="126.0" r="2.75" fill="#9a4a3a"/>
<circle cx="203.0" cy="129.7" r="2.75" fill="#9a4a3a"/>
<circle cx="198.4" cy="132.7" r="2.75" fill="#9a4a3a"/>
<circle cx="163.1" cy="165.3" r="2.75" fill="#9a4a3a"/>
<circle cx="216.9" cy="117.8" r="2.75" fill="#9a4a3a"/>
<circle cx="167.7" cy="162.1" r="2.75" fill="#9a4a3a"/>
<circle cx="211.9" cy="116.0" r="2.75" fill="#9a4a3a"/>
<circle cx="201.1" cy="123.0" r="2.75" fill="#9a4a3a"/>
<circle cx="163.0" cy="156.7" r="2.75" fill="#9a4a3a"/>
<circle cx="157.9" cy="156.0" r="2.75" fill="#9a4a3a"/>
<circle cx="196.6" cy="131.7" r="2.75" fill="#9a4a3a"/>
<circle cx="167.6" cy="160.9" r="2.75" fill="#9a4a3a"/>
<circle cx="164.5" cy="156.3" r="2.75" fill="#9a4a3a"/>
<circle cx="186.4" cy="148.1" r="2.75" fill="#9a4a3a"/>
<circle cx="177.3" cy="151.2" r="2.75" fill="#9a4a3a"/>
<circle cx="194.2" cy="133.2" r="2.75" fill="#9a4a3a"/>
<circle cx="160.4" cy="158.2" r="2.75" fill="#9a4a3a"/>
<circle cx="187.4" cy="139.5" r="2.75" fill="#9a4a3a"/>
<circle cx="184.3" cy="138.9" r="2.75" fill="#9a4a3a"/>
<circle cx="194.3" cy="133.2" r="2.75" fill="#9a4a3a"/>
<circle cx="206.2" cy="114.2" r="2.75" fill="#9a4a3a"/>
<circle cx="172.0" cy="147.2" r="2.75" fill="#9a4a3a"/>
<circle cx="173.1" cy="153.2" r="2.75" fill="#9a4a3a"/>
<circle cx="184.3" cy="143.3" r="2.75" fill="#9a4a3a"/>
<circle cx="173.7" cy="155.2" r="2.75" fill="#9a4a3a"/>
<circle cx="184.4" cy="147.0" r="2.75" fill="#9a4a3a"/>
<circle cx="191.1" cy="131.6" r="2.75" fill="#9a4a3a"/>
<circle cx="215.7" cy="112.2" r="2.75" fill="#9a4a3a"/>
<circle cx="158.5" cy="168.3" r="2.75" fill="#9a4a3a"/>
<circle cx="207.6" cy="119.9" r="2.75" fill="#9a4a3a"/>
<circle cx="187.8" cy="137.2" r="2.75" fill="#9a4a3a"/>
<circle cx="158.7" cy="165.5" r="2.75" fill="#9a4a3a"/>
<circle cx="176.8" cy="148.1" r="2.75" fill="#9a4a3a"/>
<circle cx="216.8" cy="116.8" r="2.75" fill="#9a4a3a"/>
<circle cx="213.3" cy="122.2" r="2.75" fill="#9a4a3a"/>
<circle cx="172.2" cy="157.1" r="2.75" fill="#9a4a3a"/>
<circle cx="214.1" cy="109.6" r="2.75" fill="#9a4a3a"/>
<circle cx="169.8" cy="164.4" r="2.75" fill="#9a4a3a"/>
<circle cx="193.5" cy="132.6" r="2.75" fill="#9a4a3a"/>
<circle cx="172.3" cy="150.8" r="2.75" fill="#9a4a3a"/>
<circle cx="171.4" cy="148.5" r="2.75" fill="#9a4a3a"/>
<circle cx="243.6" cy="96.0" r="2.75" fill="#9a4a3a"/>
<circle cx="260.0" cy="78.2" r="2.75" fill="#9a4a3a"/>
<circle cx="224.7" cy="101.5" r="2.75" fill="#9a4a3a"/>
<circle cx="234.1" cy="98.2" r="2.75" fill="#9a4a3a"/>
<circle cx="216.4" cy="108.6" r="2.75" fill="#9a4a3a"/>
<circle cx="212.4" cy="114.6" r="2.75" fill="#9a4a3a"/>
<circle cx="208.8" cy="116.4" r="2.75" fill="#9a4a3a"/>
<circle cx="182.0" cy="140.9" r="2.75" fill="#da8262"/>
<circle cx="192.1" cy="129.9" r="2.75" fill="#da8262"/>
<circle cx="201.8" cy="119.3" r="2.75" fill="#da8262"/>
<circle cx="197.2" cy="132.4" r="2.75" fill="#da8262"/>
<circle cx="181.1" cy="153.8" r="2.75" fill="#da8262"/>
<circle cx="173.1" cy="148.2" r="2.75" fill="#da8262"/>
<circle cx="198.4" cy="124.2" r="2.75" fill="#da8262"/>
<circle cx="219.6" cy="116.7" r="2.75" fill="#da8262"/>
<circle cx="192.4" cy="130.4" r="2.75" fill="#da8262"/>
<circle cx="194.6" cy="134.1" r="2.75" fill="#da8262"/>
<circle cx="218.4" cy="108.1" r="2.75" fill="#da8262"/>
<circle cx="184.9" cy="145.7" r="2.75" fill="#da8262"/>
<circle cx="210.1" cy="118.1" r="2.75" fill="#da8262"/>
<circle cx="194.0" cy="135.3" r="2.75" fill="#da8262"/>
<circle cx="181.4" cy="144.7" r="2.75" fill="#da8262"/>
<circle cx="181.1" cy="149.1" r="2.75" fill="#da8262"/>
<circle cx="190.9" cy="138.5" r="2.75" fill="#da8262"/>
<circle cx="197.9" cy="124.4" r="2.75" fill="#da8262"/>
<circle cx="183.9" cy="138.6" r="2.75" fill="#da8262"/>
<circle cx="193.9" cy="132.9" r="2.75" fill="#da8262"/>
<circle cx="173.9" cy="154.4" r="2.75" fill="#da8262"/>
<circle cx="174.4" cy="140.4" r="2.75" fill="#da8262"/>
<circle cx="187.7" cy="136.8" r="2.75" fill="#da8262"/>
<circle cx="208.0" cy="120.2" r="2.75" fill="#da8262"/>
<circle cx="171.1" cy="155.5" r="2.75" fill="#da8262"/>
<circle cx="210.5" cy="116.7" r="2.75" fill="#da8262"/>
<circle cx="211.7" cy="119.5" r="2.75" fill="#da8262"/>
<circle cx="196.4" cy="129.6" r="2.75" fill="#da8262"/>
<circle cx="196.4" cy="128.6" r="2.75" fill="#da8262"/>
<circle cx="192.9" cy="137.9" r="2.75" fill="#da8262"/>
<circle cx="190.1" cy="141.1" r="2.75" fill="#da8262"/>
<circle cx="196.8" cy="119.4" r="2.75" fill="#da8262"/>
<circle cx="210.1" cy="127.2" r="2.75" fill="#da8262"/>
<circle cx="197.9" cy="128.8" r="2.75" fill="#da8262"/>
<circle cx="181.1" cy="142.5" r="2.75" fill="#da8262"/>
<circle cx="197.8" cy="133.1" r="2.75" fill="#da8262"/>
<circle cx="184.2" cy="145.1" r="2.75" fill="#da8262"/>
<circle cx="216.4" cy="113.3" r="2.75" fill="#da8262"/>
<circle cx="191.1" cy="131.4" r="2.75" fill="#da8262"/>
<circle cx="209.2" cy="117.3" r="2.75" fill="#da8262"/>
<circle cx="221.1" cy="115.9" r="2.75" fill="#da8262"/>
<circle cx="192.1" cy="136.9" r="2.75" fill="#da8262"/>
<circle cx="190.5" cy="139.4" r="2.75" fill="#da8262"/>
<circle cx="196.1" cy="131.1" r="2.75" fill="#da8262"/>
<circle cx="193.7" cy="132.3" r="2.75" fill="#da8262"/>
<circle cx="175.0" cy="139.7" r="2.75" fill="#da8262"/>
<circle cx="182.9" cy="150.7" r="2.75" fill="#da8262"/>
<circle cx="216.1" cy="108.0" r="2.75" fill="#da8262"/>
<circle cx="204.7" cy="120.8" r="2.75" fill="#da8262"/>
<circle cx="213.5" cy="111.6" r="2.75" fill="#da8262"/>
<circle cx="188.4" cy="132.7" r="2.75" fill="#da8262"/>
<circle cx="212.6" cy="116.8" r="2.75" fill="#da8262"/>
<circle cx="181.6" cy="137.2" r="2.75" fill="#da8262"/>
<circle cx="199.5" cy="134.1" r="2.75" fill="#da8262"/>
<circle cx="219.2" cy="112.8" r="2.75" fill="#da8262"/>
<circle cx="198.8" cy="125.9" r="2.75" fill="#da8262"/>
<circle cx="197.9" cy="131.1" r="2.75" fill="#da8262"/>
<circle cx="220.2" cy="108.5" r="2.75" fill="#da8262"/>
<circle cx="193.2" cy="134.7" r="2.75" fill="#da8262"/>
<circle cx="209.6" cy="124.6" r="2.75" fill="#da8262"/>
<circle cx="181.5" cy="151.4" r="2.75" fill="#da8262"/>
<circle cx="193.2" cy="137.3" r="2.75" fill="#da8262"/>
<circle cx="181.4" cy="139.3" r="2.75" fill="#da8262"/>
<circle cx="168.9" cy="164.3" r="2.75" fill="#da8262"/>
<circle cx="217.3" cy="111.9" r="2.75" fill="#da8262"/>
<circle cx="203.8" cy="125.7" r="2.75" fill="#da8262"/>
<circle cx="214.1" cy="103.3" r="2.75" fill="#da8262"/>
<circle cx="220.0" cy="109.3" r="2.75" fill="#da8262"/>
<circle cx="176.0" cy="152.4" r="2.75" fill="#da8262"/>
<circle cx="188.3" cy="140.3" r="2.75" fill="#da8262"/>
<circle cx="215.5" cy="111.4" r="2.75" fill="#da8262"/>
<circle cx="228.2" cy="96.4" r="2.75" fill="#da8262"/>
<circle cx="225.8" cy="101.1" r="2.75" fill="#da8262"/>
<circle cx="244.9" cy="99.6" r="2.75" fill="#da8262"/>
<circle cx="253.8" cy="74.2" r="2.75" fill="#da8262"/>
<circle cx="244.5" cy="82.8" r="2.75" fill="#da8262"/>
<circle cx="256.5" cy="86.2" r="2.75" fill="#da8262"/>
<circle cx="228.9" cy="104.3" r="2.75" fill="#da8262"/>
<circle cx="226.3" cy="106.2" r="2.75" fill="#da8262"/>
<circle cx="224.4" cy="107.4" r="2.75" fill="#da8262"/>
<circle cx="247.1" cy="86.4" r="2.75" fill="#da8262"/>
<circle cx="210.9" cy="124.3" r="2.75" fill="#da8262"/>
<circle cx="145.6" cy="173.3" r="2.75" fill="#e656de"/>
<circle cx="207.5" cy="116.8" r="2.75" fill="#e656de"/>
<circle cx="220.7" cy="98.2" r="2.75" fill="#e656de"/>
<circle cx="189.6" cy="138.9" r="2.75" fill="#e656de"/>
<circle cx="188.3" cy="124.1" r="2.75" fill="#e656de"/>
<circle cx="207.7" cy="115.4" r="2.75" fill="#e656de"/>
<circle cx="210.1" cy="115.8" r="2.75" fill="#e656de"/>
<circle cx="208.7" cy="117.4" r="2.75" fill="#e656de"/>
<circle cx="185.3" cy="140.4" r="2.75" fill="#e656de"/>
<circle cx="185.6" cy="138.8" r="2.75" fill="#e656de"/>
<circle cx="201.1" cy="121.2" r="2.75" fill="#e656de"/>
<circle cx="117.6" cy="196.6" r="2.75" fill="#e656de"/>
<circle cx="183.6" cy="135.6" r="2.75" fill="#e656de"/>
<circle cx="190.8" cy="132.0" r="2.75" fill="#e656de"/>
<circle cx="194.3" cy="135.7" r="2.75" fill="#e656de"/>
<circle cx="214.6" cy="117.9" r="2.75" fill="#e656de"/>
<circle cx="196.9" cy="121.6" r="2.75" fill="#e656de"/>
<circle cx="184.3" cy="129.1" r="2.75" fill="#e656de"/>
<circle cx="167.4" cy="150.2" r="2.75" fill="#e656de"/>
<circle cx="210.6" cy="119.1" r="2.75" fill="#e656de"/>
<circle cx="206.4" cy="121.8" r="2.75" fill="#e656de"/>
<circle cx="208.1" cy="112.9" r="2.75" fill="#e656de"/>
<circle cx="211.9" cy="112.2" r="2.75" fill="#e656de"/>
<circle cx="190.3" cy="132.6" r="2.75" fill="#e656de"/>
<circle cx="195.1" cy="135.1" r="2.75" fill="#e656de"/>
<circle cx="180.0" cy="131.2" r="2.75" fill="#e656de"/>
<circle cx="140.4" cy="178.0" r="2.75" fill="#e656de"/>
<circle cx="140.1" cy="182.0" r="2.75" fill="#e656de"/>
<circle cx="205.0" cy="121.9" r="2.75" fill="#e656de"/>
<circle cx="206.9" cy="122.0" r="2.75" fill="#e656de"/>
<circle cx="199.5" cy="119.0" r="2.75" fill="#e656de"/>
<circle cx="201.2" cy="120.0" r="2.75" fill="#e656de"/>
<circle cx="118.0" cy="200.9" r="2.75" fill="#e656de"/>
<circle cx="222.4" cy="109.6" r="2.75" fill="#e656de"/>
<circle cx="165.5" cy="162.2" r="2.75" fill="#e656de"/>
<circle cx="195.2" cy="129.0" r="2.75" fill="#e656de"/>
<circle cx="189.6" cy="135.5" r="2.75" fill="#e656de"/>
<circle cx="210.6" cy="110.8" r="2.75" fill="#e656de"/>
<circle cx="112.8" cy="210.7" r="2.75" fill="#e656de"/>
<circle cx="219.5" cy="110.4" r="2.75" fill="#e656de"/>
<circle cx="196.0" cy="132.2" r="2.75" fill="#e656de"/>
<circle cx="186.2" cy="135.9" r="2.75" fill="#e656de"/>
<circle cx="205.2" cy="125.4" r="2.75" fill="#e656de"/>
<circle cx="146.7" cy="169.7" r="2.75" fill="#e656de"/>
<circle cx="200.4" cy="113.2" r="2.75" fill="#e656de"/>
<circle cx="184.8" cy="139.2" r="2.75" fill="#e656de"/>
<circle cx="179.1" cy="141.1" r="2.75" fill="#e656de"/>
<circle cx="207.5" cy="117.6" r="2.75" fill="#e656de"/>
<circle cx="198.0" cy="114.3" r="2.75" fill="#e656de"/>
<circle cx="146.6" cy="182.9" r="2.75" fill="#e656de"/>
<circle cx="126.4" cy="192.5" r="2.75" fill="#e656de"/>
<circle cx="210.5" cy="114.7" r="2.75" fill="#e656de"/>
<circle cx="211.1" cy="120.8" r="2.75" fill="#e656de"/>
<circle cx="213.5" cy="116.9" r="2.75" fill="#e656de"/>
<circle cx="193.9" cy="135.2" r="2.75" fill="#e656de"/>
<circle cx="114.7" cy="200.8" r="2.75" fill="#e656de"/>
<circle cx="145.5" cy="174.8" r="2.75" fill="#e656de"/>
<circle cx="181.0" cy="137.6" r="2.75" fill="#e656de"/>
<circle cx="120.4" cy="206.9" r="2.75" fill="#e656de"/>
<circle cx="108.7" cy="209.0" r="2.75" fill="#e656de"/>
<circle cx="110.3" cy="206.1" r="2.75" fill="#e656de"/>
<circle cx="210.6" cy="114.2" r="2.75" fill="#e656de"/>
<circle cx="216.1" cy="113.3" r="2.75" fill="#e656de"/>
<circle cx="162.0" cy="162.4" r="2.75" fill="#e656de"/>
<circle cx="146.6" cy="175.8" r="2.75" fill="#e656de"/>
<circle cx="153.1" cy="182.3" r="2.75" fill="#e656de"/>
<circle cx="197.5" cy="127.1" r="2.75" fill="#e656de"/>
<circle cx="213.1" cy="122.2" r="2.75" fill="#e656de"/>
<circle cx="218.0" cy="113.7" r="2.75" fill="#e656de"/>
<circle cx="128.7" cy="185.9" r="2.75" fill="#e656de"/>
<circle cx="220.9" cy="103.7" r="2.75" fill="#e656de"/>
<circle cx="210.2" cy="114.8" r="2.75" fill="#e656de"/>
<circle cx="134.1" cy="189.6" r="2.75" fill="#e656de"/>
<circle cx="189.8" cy="139.5" r="2.75" fill="#e656de"/>
<circle cx="191.8" cy="126.2" r="2.75" fill="#e656de"/>
<circle cx="213.0" cy="112.0" r="2.75" fill="#e656de"/>
<circle cx="111.9" cy="215.7" r="2.75" fill="#e656de"/>
<circle cx="198.3" cy="128.9" r="2.75" fill="#e656de"/>
<circle cx="177.9" cy="136.6" r="2.75" fill="#e656de"/>
<circle cx="179.6" cy="137.2" r="2.75" fill="#e656de"/>
<circle cx="201.9" cy="121.6" r="2.75" fill="#e656de"/>
<circle cx="202.7" cy="126.1" r="2.75" fill="#e656de"/>
<circle cx="184.4" cy="139.9" r="2.75" fill="#e656de"/>
<circle cx="193.9" cy="136.6" r="2.75" fill="#e656de"/>
<circle cx="204.9" cy="123.8" r="2.75" fill="#e656de"/>
<circle cx="211.1" cy="112.2" r="2.75" fill="#e656de"/>
<circle cx="155.5" cy="160.2" r="2.75" fill="#e656de"/>
<circle cx="218.7" cy="98.2" r="2.75" fill="#e656de"/>
<circle cx="189.4" cy="135.4" r="2.75" fill="#e656de"/>
<circle cx="183.1" cy="139.5" r="2.75" fill="#e656de"/>
<circle cx="241.6" cy="89.2" r="2.75" fill="#e656de"/>
<circle cx="227.5" cy="96.5" r="2.75" fill="#e656de"/>
<circle cx="235.2" cy="101.1" r="2.75" fill="#e656de"/>
<circle cx="225.1" cy="107.1" r="2.75" fill="#e656de"/>
<circle cx="212.8" cy="116.3" r="2.75" fill="#e656de"/>
<circle cx="253.4" cy="80.4" r="2.75" fill="#e656de"/>
<circle cx="259.2" cy="74.3" r="2.75" fill="#e656de"/>
<circle cx="134.3" cy="199.9" r="2.75" fill="#f2aad8"/>
<circle cx="116.4" cy="201.8" r="2.75" fill="#f2aad8"/>
<circle cx="89.8" cy="227.2" r="2.75" fill="#f2aad8"/>
<circle cx="93.1" cy="228.8" r="2.75" fill="#f2aad8"/>
<circle cx="93.5" cy="224.5" r="2.75" fill="#f2aad8"/>
<circle cx="119.8" cy="211.9" r="2.75" fill="#f2aad8"/>
<circle cx="134.5" cy="196.2" r="2.75" fill="#f2aad8"/>
<circle cx="122.0" cy="200.2" r="2.75" fill="#f2aad8"/>
<circle cx="96.9" cy="219.9" r="2.75" fill="#f2aad8"/>
<circle cx="144.9" cy="175.6" r="2.75" fill="#f2aad8"/>
<circle cx="133.4" cy="187.5" r="2.75" fill="#f2aad8"/>
<circle cx="101.4" cy="217.9" r="2.75" fill="#f2aad8"/>
<circle cx="123.1" cy="202.1" r="2.75" fill="#f2aad8"/>
<circle cx="129.6" cy="190.1" r="2.75" fill="#f2aad8"/>
<circle cx="124.0" cy="197.2" r="2.75" fill="#f2aad8"/>
<circle cx="109.3" cy="213.3" r="2.75" fill="#f2aad8"/>
<circle cx="125.2" cy="195.1" r="2.75" fill="#f2aad8"/>
<circle cx="118.9" cy="198.2" r="2.75" fill="#f2aad8"/>
<circle cx="96.6" cy="228.6" r="2.75" fill="#f2aad8"/>
<circle cx="123.0" cy="199.2" r="2.75" fill="#f2aad8"/>
<circle cx="130.0" cy="183.9" r="2.75" fill="#f2aad8"/>
<circle cx="98.6" cy="219.4" r="2.75" fill="#f2aad8"/>
<circle cx="125.6" cy="188.2" r="2.75" fill="#f2aad8"/>
<circle cx="112.7" cy="203.3" r="2.75" fill="#f2aad8"/>
<circle cx="115.4" cy="203.3" r="2.75" fill="#f2aad8"/>
<circle cx="120.8" cy="201.6" r="2.75" fill="#f2aad8"/>
<circle cx="96.9" cy="222.5" r="2.75" fill="#f2aad8"/>
<circle cx="90.0" cy="225.0" r="2.75" fill="#f2aad8"/>
<circle cx="139.9" cy="179.7" r="2.75" fill="#f2aad8"/>
<circle cx="106.8" cy="221.7" r="2.75" fill="#f2aad8"/>
<circle cx="124.9" cy="201.0" r="2.75" fill="#f2aad8"/>
<circle cx="102.5" cy="221.8" r="2.75" fill="#f2aad8"/>
<circle cx="91.8" cy="229.7" r="2.75" fill="#f2aad8"/>
<circle cx="145.2" cy="178.9" r="2.75" fill="#f2aad8"/>
<circle cx="145.6" cy="177.8" r="2.75" fill="#f2aad8"/>
<circle cx="109.8" cy="211.6" r="2.75" fill="#f2aad8"/>
<circle cx="92.4" cy="227.7" r="2.75" fill="#f2aad8"/>
<circle cx="116.9" cy="203.8" r="2.75" fill="#f2aad8"/>
<circle cx="143.2" cy="175.5" r="2.75" fill="#f2aad8"/>
<circle cx="109.3" cy="214.9" r="2.75" fill="#f2aad8"/>
<circle cx="134.5" cy="192.6" r="2.75" fill="#f2aad8"/>
<circle cx="98.7" cy="216.7" r="2.75" fill="#f2aad8"/>
<circle cx="95.1" cy="225.7" r="2.75" fill="#f2aad8"/>
<circle cx="136.3" cy="189.8" r="2.75" fill="#f2aad8"/>
<circle cx="142.2" cy="181.8" r="2.75" fill="#f2aad8"/>
<circle cx="129.3" cy="199.8" r="2.75" fill="#f2aad8"/>
<circle cx="123.6" cy="201.2" r="2.75" fill="#f2aad8"/>
<circle cx="144.2" cy="184.1" r="2.75" fill="#f2aad8"/>
<circle cx="99.7" cy="224.3" r="2.75" fill="#f2aad8"/>
<circle cx="126.1" cy="196.0" r="2.75" fill="#f2aad8"/>
<circle cx="100.8" cy="222.7" r="2.75" fill="#f2aad8"/>
<circle cx="116.2" cy="208.2" r="2.75" fill="#f2aad8"/>
<circle cx="129.3" cy="191.0" r="2.75" fill="#f2aad8"/>
<circle cx="124.7" cy="197.5" r="2.75" fill="#f2aad8"/>
<circle cx="118.3" cy="216.2" r="2.75" fill="#f2aad8"/>
<circle cx="114.2" cy="207.7" r="2.75" fill="#f2aad8"/>
<circle cx="127.9" cy="188.8" r="2.75" fill="#f2aad8"/>
<circle cx="101.0" cy="232.7" r="2.75" fill="#f2aad8"/>
<circle cx="136.9" cy="182.7" r="2.75" fill="#f2aad8"/>
<circle cx="141.1" cy="183.3" r="2.75" fill="#f2aad8"/>
<circle cx="123.2" cy="190.8" r="2.75" fill="#f2aad8"/>
<circle cx="145.6" cy="184.4" r="2.75" fill="#f2aad8"/>
<circle cx="124.8" cy="197.1" r="2.75" fill="#f2aad8"/>
<circle cx="142.0" cy="184.9" r="2.75" fill="#f2aad8"/>
<circle cx="146.3" cy="171.2" r="2.75" fill="#f2aad8"/>
<circle cx="145.1" cy="174.2" r="2.75" fill="#f2aad8"/>
<circle cx="105.0" cy="213.8" r="2.75" fill="#f2aad8"/>
<circle cx="122.2" cy="198.0" r="2.75" fill="#f2aad8"/>
<circle cx="97.2" cy="218.1" r="2.75" fill="#f2aad8"/>
<circle cx="95.7" cy="221.6" r="2.75" fill="#f2aad8"/>
<circle cx="146.5" cy="180.6" r="2.75" fill="#f2aad8"/>
<circle cx="89.8" cy="226.6" r="2.75" fill="#f2aad8"/>
<circle cx="134.3" cy="188.6" r="2.75" fill="#f2aad8"/>
<circle cx="144.1" cy="183.3" r="2.75" fill="#f2aad8"/>
<circle cx="93.3" cy="232.9" r="2.75" fill="#f2aad8"/>
<circle cx="99.6" cy="228.4" r="2.75" fill="#f2aad8"/>
<circle cx="135.1" cy="193.7" r="2.75" fill="#f2aad8"/>
<circle cx="100.2" cy="222.6" r="2.75" fill="#f2aad8"/>
<circle cx="131.3" cy="189.3" r="2.75" fill="#f2aad8"/>
<circle cx="113.0" cy="207.3" r="2.75" fill="#f2aad8"/>
<circle cx="98.5" cy="217.0" r="2.75" fill="#f2aad8"/>
<circle cx="126.0" cy="193.1" r="2.75" fill="#f2aad8"/>
<circle cx="95.9" cy="227.1" r="2.75" fill="#f2aad8"/>
<circle cx="123.9" cy="200.8" r="2.75" fill="#f2aad8"/>
<circle cx="142.6" cy="177.8" r="2.75" fill="#f2aad8"/>
<circle cx="93.5" cy="227.3" r="2.75" fill="#f2aad8"/>
<circle cx="101.7" cy="220.1" r="2.75" fill="#f2aad8"/>
<circle cx="141.0" cy="186.1" r="2.75" fill="#f2aad8"/>
<circle cx="104.3" cy="217.9" r="2.75" fill="#f2aad8"/>
<circle cx="130.8" cy="191.6" r="2.75" fill="#f2aad8"/>
<circle cx="125.2" cy="193.0" r="2.75" fill="#f2aad8"/>
<circle cx="105.1" cy="212.1" r="2.75" fill="#f2aad8"/>
<circle cx="120.7" cy="206.7" r="2.75" fill="#f2aad8"/>
<circle cx="109.1" cy="219.7" r="2.75" fill="#f2aad8"/>
<circle cx="132.1" cy="192.4" r="2.75" fill="#f2aad8"/>
<circle cx="113.3" cy="205.8" r="2.75" fill="#f2aad8"/>
<circle cx="114.4" cy="205.1" r="2.75" fill="#f2aad8"/>
<circle cx="103.5" cy="221.4" r="2.75" fill="#f2aad8"/>
<circle cx="131.3" cy="186.6" r="2.75" fill="#f2aad8"/>
<circle cx="105.6" cy="213.0" r="2.75" fill="#f2aad8"/>
<circle cx="100.1" cy="221.4" r="2.75" fill="#f2aad8"/>
<circle cx="104.0" cy="217.3" r="2.75" fill="#f2aad8"/>
<circle cx="137.8" cy="188.7" r="2.75" fill="#f2aad8"/>
<circle cx="99.5" cy="228.6" r="2.75" fill="#f2aad8"/>
<circle cx="118.5" cy="198.9" r="2.75" fill="#f2aad8"/>
<circle cx="89.4" cy="236.6" r="2.75" fill="#f2aad8"/>
<circle cx="108.3" cy="213.1" r="2.75" fill="#f2aad8"/>
<circle cx="96.0" cy="224.2" r="2.75" fill="#f2aad8"/>
<circle cx="100.9" cy="220.8" r="2.75" fill="#f2aad8"/>
<circle cx="95.1" cy="223.0" r="2.75" fill="#f2aad8"/>
<circle cx="101.5" cy="218.9" r="2.75" fill="#f2aad8"/>
<circle cx="132.0" cy="175.4" r="2.75" fill="#f2aad8"/>
<circle cx="146.3" cy="170.0" r="2.75" fill="#f2aad8"/>
<circle cx="91.3" cy="229.9" r="2.75" fill="#f2aad8"/>
<circle cx="117.2" cy="194.3" r="2.75" fill="#f2aad8"/>
<circle cx="102.7" cy="228.8" r="2.75" fill="#f2aad8"/>
<circle cx="124.7" cy="194.3" r="2.75" fill="#f2aad8"/>
<circle cx="135.5" cy="186.2" r="2.75" fill="#f2aad8"/>
<circle cx="127.6" cy="184.0" r="2.75" fill="#f2aad8"/>
<circle cx="134.1" cy="186.8" r="2.75" fill="#f2aad8"/>
<circle cx="117.3" cy="213.7" r="2.75" fill="#f2aad8"/>
<circle cx="111.8" cy="211.0" r="2.75" fill="#f2aad8"/>
<circle cx="98.8" cy="223.7" r="2.75" fill="#f2aad8"/>
<circle cx="112.2" cy="206.1" r="2.75" fill="#f2aad8"/>
<circle cx="145.8" cy="175.0" r="2.75" fill="#f2aad8"/>
<circle cx="166.4" cy="163.8" r="2.75" fill="#5a5a5a"/>
<circle cx="168.5" cy="152.3" r="2.75" fill="#5a5a5a"/>
<circle cx="156.6" cy="165.0" r="2.75" fill="#5a5a5a"/>
<circle cx="187.2" cy="139.2" r="2.75" fill="#5a5a5a"/>
<circle cx="165.8" cy="164.2" r="2.75" fill="#5a5a5a"/>
<circle cx="153.3" cy="165.7" r="2.75" fill="#5a5a5a"/>
<circle cx="205.6" cy="124.8" r="2.75" fill="#5a5a5a"/>
<circle cx="156.9" cy="158.4" r="2.75" fill="#5a5a5a"/>
<circle cx="203.9" cy="131.7" r="2.75" fill="#5a5a5a"/>
<circle cx="188.0" cy="141.6" r="2.75" fill="#5a5a5a"/>
<circle cx="203.3" cy="121.0" r="2.75" fill="#5a5a5a"/>
<circle cx="152.5" cy="178.8" r="2.75" fill="#5a5a5a"/>
<circle cx="149.1" cy="178.2" r="2.75" fill="#5a5a5a"/>
<circle cx="203.2" cy="125.0" r="2.75" fill="#5a5a5a"/>
<circle cx="205.4" cy="126.1" r="2.75" fill="#5a5a5a"/>
<circle cx="199.0" cy="129.3" r="2.75" fill="#5a5a5a"/>
<circle cx="192.6" cy="139.3" r="2.75" fill="#5a5a5a"/>
<circle cx="161.5" cy="166.8" r="2.75" fill="#5a5a5a"/>
<circle cx="233.5" cy="96.5" r="2.75" fill="#5a5a5a"/>
<circle cx="247.1" cy="75.6" r="2.75" fill="#5a5a5a"/>
<circle cx="252.4" cy="81.7" r="2.75" fill="#5a5a5a"/>
<circle cx="258.9" cy="75.9" r="2.75" fill="#5a5a5a"/>
<circle cx="211.7" cy="126.4" r="2.75" fill="#5a5a5a"/>
<circle cx="162.3" cy="154.2" r="2.75" fill="#c6c6c6"/>
<circle cx="135.1" cy="182.1" r="2.75" fill="#c6c6c6"/>
<circle cx="167.5" cy="163.8" r="2.75" fill="#c6c6c6"/>
<circle cx="155.7" cy="158.5" r="2.75" fill="#c6c6c6"/>
<circle cx="113.6" cy="210.7" r="2.75" fill="#c6c6c6"/>
<circle cx="164.1" cy="167.1" r="2.75" fill="#c6c6c6"/>
<circle cx="208.4" cy="115.7" r="2.75" fill="#c6c6c6"/>
<circle cx="143.0" cy="179.5" r="2.75" fill="#c6c6c6"/>
<circle cx="155.9" cy="170.9" r="2.75" fill="#c6c6c6"/>
<circle cx="169.6" cy="147.7" r="2.75" fill="#c6c6c6"/>
<circle cx="146.1" cy="178.4" r="2.75" fill="#c6c6c6"/>
<circle cx="119.5" cy="207.0" r="2.75" fill="#c6c6c6"/>
<circle cx="170.2" cy="159.3" r="2.75" fill="#c6c6c6"/>
<circle cx="167.8" cy="160.9" r="2.75" fill="#c6c6c6"/>
<circle cx="138.2" cy="183.6" r="2.75" fill="#c6c6c6"/>
<circle cx="119.4" cy="197.1" r="2.75" fill="#c6c6c6"/>
<circle cx="177.3" cy="142.2" r="2.75" fill="#c6c6c6"/>
<circle cx="204.9" cy="128.0" r="2.75" fill="#c6c6c6"/>
<circle cx="137.8" cy="195.0" r="2.75" fill="#c6c6c6"/>
<circle cx="179.0" cy="137.7" r="2.75" fill="#c6c6c6"/>
<circle cx="146.0" cy="174.2" r="2.75" fill="#c6c6c6"/>
<circle cx="178.0" cy="145.3" r="2.75" fill="#c6c6c6"/>
<circle cx="177.8" cy="147.7" r="2.75" fill="#c6c6c6"/>
<circle cx="119.2" cy="203.3" r="2.75" fill="#c6c6c6"/>
<circle cx="209.2" cy="126.9" r="2.75" fill="#c6c6c6"/>
<circle cx="147.3" cy="174.9" r="2.75" fill="#c6c6c6"/>
<circle cx="140.6" cy="183.8" r="2.75" fill="#c6c6c6"/>
<circle cx="111.4" cy="216.2" r="2.75" fill="#c6c6c6"/>
<circle cx="217.0" cy="113.7" r="2.75" fill="#c6c6c6"/>
<circle cx="173.4" cy="149.2" r="2.75" fill="#c6c6c6"/>
<circle cx="161.7" cy="166.6" r="2.75" fill="#c6c6c6"/>
<circle cx="140.4" cy="186.6" r="2.75" fill="#c6c6c6"/>
<circle cx="184.9" cy="139.1" r="2.75" fill="#c6c6c6"/>
<circle cx="217.6" cy="109.0" r="2.75" fill="#c6c6c6"/>
<circle cx="182.1" cy="144.0" r="2.75" fill="#c6c6c6"/>
<circle cx="234.1" cy="101.2" r="2.75" fill="#c6c6c6"/>
<circle cx="207.8" cy="123.5" r="2.75" fill="#c6c6c6"/>
<circle cx="213.1" cy="117.6" r="2.75" fill="#c6c6c6"/>
<circle cx="213.3" cy="120.3" r="2.75" fill="#c6c6c6"/>
<circle cx="218.5" cy="108.0" r="2.75" fill="#c6c6c6"/>
<circle cx="154.9" cy="158.7" r="2.75" fill="#b8c22c"/>
<circle cx="155.7" cy="172.3" r="2.75" fill="#b8c22c"/>
<circle cx="199.7" cy="125.0" r="2.75" fill="#b8c22c"/>
<circle cx="204.8" cy="122.2" r="2.75" fill="#b8c22c"/>
<circle cx="197.7" cy="131.8" r="2.75" fill="#b8c22c"/>
<circle cx="201.0" cy="120.2" r="2.75" fill="#b8c22c"/>
<circle cx="192.8" cy="132.3" r="2.75" fill="#b8c22c"/>
<circle cx="181.6" cy="150.3" r="2.75" fill="#b8c22c"/>
<circle cx="181.5" cy="140.1" r="2.75" fill="#b8c22c"/>
<circle cx="189.7" cy="136.0" r="2.75" fill="#b8c22c"/>
<circle cx="203.0" cy="124.0" r="2.75" fill="#b8c22c"/>
<circle cx="199.2" cy="130.5" r="2.75" fill="#b8c22c"/>
<circle cx="203.2" cy="130.9" r="2.75" fill="#b8c22c"/>
<circle cx="166.6" cy="155.3" r="2.75" fill="#b8c22c"/>
<circle cx="160.5" cy="168.0" r="2.75" fill="#b8c22c"/>
<circle cx="201.6" cy="131.3" r="2.75" fill="#b8c22c"/>
<circle cx="164.6" cy="166.0" r="2.75" fill="#b8c22c"/>
<circle cx="206.4" cy="116.9" r="2.75" fill="#b8c22c"/>
<circle cx="179.1" cy="147.2" r="2.75" fill="#b8c22c"/>
<circle cx="187.9" cy="145.6" r="2.75" fill="#b8c22c"/>
<circle cx="196.9" cy="129.3" r="2.75" fill="#b8c22c"/>
<circle cx="196.0" cy="129.9" r="2.75" fill="#b8c22c"/>
<circle cx="198.1" cy="128.7" r="2.75" fill="#b8c22c"/>
<circle cx="186.6" cy="141.9" r="2.75" fill="#b8c22c"/>
<circle cx="157.1" cy="165.1" r="2.75" fill="#b8c22c"/>
<circle cx="203.7" cy="125.0" r="2.75" fill="#b8c22c"/>
<circle cx="189.2" cy="145.5" r="2.75" fill="#b8c22c"/>
<circle cx="172.1" cy="156.0" r="2.75" fill="#b8c22c"/>
<circle cx="197.8" cy="132.7" r="2.75" fill="#b8c22c"/>
<circle cx="200.3" cy="118.8" r="2.75" fill="#b8c22c"/>
<circle cx="190.5" cy="132.6" r="2.75" fill="#b8c22c"/>
<circle cx="172.2" cy="154.3" r="2.75" fill="#b8c22c"/>
<circle cx="197.4" cy="136.5" r="2.75" fill="#b8c22c"/>
<circle cx="157.3" cy="167.0" r="2.75" fill="#b8c22c"/>
<circle cx="196.0" cy="129.9" r="2.75" fill="#b8c22c"/>
<circle cx="170.6" cy="154.6" r="2.75" fill="#b8c22c"/>
<circle cx="198.5" cy="127.9" r="2.75" fill="#b8c22c"/>
<circle cx="193.1" cy="127.0" r="2.75" fill="#b8c22c"/>
<circle cx="151.8" cy="176.5" r="2.75" fill="#b8c22c"/>
<circle cx="180.6" cy="144.5" r="2.75" fill="#b8c22c"/>
<circle cx="171.5" cy="161.2" r="2.75" fill="#b8c22c"/>
<circle cx="159.1" cy="166.5" r="2.75" fill="#b8c22c"/>
<circle cx="163.7" cy="157.4" r="2.75" fill="#b8c22c"/>
<circle cx="204.8" cy="123.6" r="2.75" fill="#b8c22c"/>
<circle cx="169.5" cy="155.9" r="2.75" fill="#b8c22c"/>
<circle cx="177.4" cy="153.0" r="2.75" fill="#b8c22c"/>
<circle cx="188.2" cy="139.8" r="2.75" fill="#b8c22c"/>
<circle cx="173.0" cy="154.2" r="2.75" fill="#b8c22c"/>
<circle cx="193.5" cy="132.0" r="2.75" fill="#b8c22c"/>
<circle cx="204.6" cy="118.9" r="2.75" fill="#b8c22c"/>
<circle cx="174.3" cy="144.5" r="2.75" fill="#b8c22c"/>
<circle cx="177.5" cy="149.7" r="2.75" fill="#b8c22c"/>
<circle cx="169.7" cy="152.1" r="2.75" fill="#b8c22c"/>
<circle cx="176.1" cy="147.5" r="2.75" fill="#b8c22c"/>
<circle cx="179.2" cy="145.3" r="2.75" fill="#b8c22c"/>
<circle cx="178.2" cy="145.4" r="2.75" fill="#b8c22c"/>
<circle cx="176.9" cy="153.8" r="2.75" fill="#b8c22c"/>
<circle cx="150.5" cy="170.5" r="2.75" fill="#b8c22c"/>
<circle cx="162.5" cy="166.2" r="2.75" fill="#b8c22c"/>
<circle cx="204.8" cy="124.6" r="2.75" fill="#b8c22c"/>
<circle cx="184.3" cy="143.7" r="2.75" fill="#b8c22c"/>
<circle cx="159.3" cy="165.4" r="2.75" fill="#b8c22c"/>
<circle cx="182.3" cy="144.4" r="2.75" fill="#b8c22c"/>
<circle cx="205.3" cy="114.1" r="2.75" fill="#b8c22c"/>
<circle cx="175.2" cy="152.7" r="2.75" fill="#b8c22c"/>
<circle cx="182.7" cy="138.7" r="2.75" fill="#b8c22c"/>
<circle cx="173.8" cy="156.2" r="2.75" fill="#b8c22c"/>
<circle cx="163.6" cy="156.5" r="2.75" fill="#b8c22c"/>
<circle cx="161.0" cy="159.4" r="2.75" fill="#b8c22c"/>
<circle cx="198.3" cy="126.3" r="2.75" fill="#b8c22c"/>
<circle cx="183.8" cy="145.5" r="2.75" fill="#b8c22c"/>
<circle cx="173.9" cy="151.8" r="2.75" fill="#b8c22c"/>
<circle cx="180.5" cy="138.3" r="2.75" fill="#b8c22c"/>
<circle cx="182.7" cy="144.1" r="2.75" fill="#b8c22c"/>
<circle cx="201.4" cy="124.4" r="2.75" fill="#b8c22c"/>
<circle cx="187.8" cy="140.6" r="2.75" fill="#b8c22c"/>
<circle cx="191.8" cy="140.0" r="2.75" fill="#b8c22c"/>
<circle cx="185.0" cy="138.2" r="2.75" fill="#b8c22c"/>
<circle cx="200.4" cy="130.4" r="2.75" fill="#b8c22c"/>
<circle cx="187.2" cy="138.6" r="2.75" fill="#b8c22c"/>
<circle cx="177.8" cy="148.9" r="2.75" fill="#b8c22c"/>
<circle cx="165.3" cy="154.1" r="2.75" fill="#b8c22c"/>
<circle cx="164.3" cy="167.9" r="2.75" fill="#b8c22c"/>
<circle cx="186.0" cy="143.4" r="2.75" fill="#b8c22c"/>
<circle cx="170.8" cy="159.6" r="2.75" fill="#b8c22c"/>
<circle cx="192.3" cy="131.7" r="2.75" fill="#b8c22c"/>
<circle cx="199.8" cy="119.0" r="2.75" fill="#b8c22c"/>
<circle cx="155.4" cy="165.6" r="2.75" fill="#b8c22c"/>
<circle cx="168.2" cy="154.7" r="2.75" fill="#b8c22c"/>
<circle cx="179.4" cy="141.5" r="2.75" fill="#b8c22c"/>
<circle cx="184.2" cy="140.8" r="2.75" fill="#b8c22c"/>
<circle cx="196.7" cy="136.3" r="2.75" fill="#b8c22c"/>
<circle cx="185.5" cy="139.3" r="2.75" fill="#b8c22c"/>
<circle cx="188.0" cy="137.2" r="2.75" fill="#b8c22c"/>
<circle cx="204.5" cy="123.8" r="2.75" fill="#b8c22c"/>
<circle cx="205.2" cy="117.6" r="2.75" fill="#b8c22c"/>
<circle cx="162.6" cy="164.8" r="2.75" fill="#b8c22c"/>
<circle cx="155.5" cy="171.8" r="2.75" fill="#b8c22c"/>
<circle cx="173.9" cy="154.2" r="2.75" fill="#b8c22c"/>
<circle cx="153.9" cy="171.8" r="2.75" fill="#b8c22c"/>
<circle cx="244.1" cy="83.5" r="2.75" fill="#b8c22c"/>
<circle cx="224.2" cy="104.8" r="2.75" fill="#b8c22c"/>
<circle cx="257.6" cy="84.7" r="2.75" fill="#b8c22c"/>
<circle cx="110.4" cy="209.3" r="2.75" fill="#dfe86a"/>
<circle cx="95.3" cy="223.6" r="2.75" fill="#dfe86a"/>
<circle cx="141.2" cy="181.8" r="2.75" fill="#dfe86a"/>
<circle cx="117.6" cy="208.3" r="2.75" fill="#dfe86a"/>
<circle cx="140.2" cy="182.8" r="2.75" fill="#dfe86a"/>
<circle cx="146.0" cy="178.1" r="2.75" fill="#dfe86a"/>
<circle cx="185.1" cy="145.1" r="2.75" fill="#dfe86a"/>
<circle cx="117.5" cy="207.7" r="2.75" fill="#dfe86a"/>
<circle cx="176.4" cy="147.3" r="2.75" fill="#dfe86a"/>
<circle cx="143.2" cy="182.0" r="2.75" fill="#dfe86a"/>
<circle cx="99.5" cy="222.9" r="2.75" fill="#dfe86a"/>
<circle cx="162.6" cy="156.8" r="2.75" fill="#dfe86a"/>
<circle cx="133.9" cy="196.0" r="2.75" fill="#dfe86a"/>
<circle cx="125.0" cy="194.1" r="2.75" fill="#dfe86a"/>
<circle cx="87.2" cy="234.5" r="2.75" fill="#dfe86a"/>
<circle cx="159.0" cy="163.3" r="2.75" fill="#dfe86a"/>
<circle cx="105.7" cy="219.0" r="2.75" fill="#dfe86a"/>
<circle cx="160.3" cy="166.2" r="2.75" fill="#dfe86a"/>
<circle cx="108.0" cy="214.0" r="2.75" fill="#dfe86a"/>
<circle cx="91.7" cy="229.0" r="2.75" fill="#dfe86a"/>
<circle cx="117.4" cy="205.8" r="2.75" fill="#dfe86a"/>
<circle cx="125.9" cy="200.3" r="2.75" fill="#dfe86a"/>
<circle cx="154.9" cy="170.7" r="2.75" fill="#dfe86a"/>
<circle cx="106.4" cy="215.1" r="2.75" fill="#dfe86a"/>
<circle cx="138.7" cy="181.6" r="2.75" fill="#dfe86a"/>
<circle cx="189.2" cy="137.3" r="2.75" fill="#dfe86a"/>
<circle cx="86.2" cy="232.1" r="2.75" fill="#dfe86a"/>
<circle cx="89.4" cy="234.5" r="2.75" fill="#dfe86a"/>
<circle cx="190.1" cy="139.0" r="2.75" fill="#dfe86a"/>
<circle cx="87.3" cy="231.7" r="2.75" fill="#dfe86a"/>
<circle cx="163.6" cy="159.6" r="2.75" fill="#dfe86a"/>
<circle cx="178.8" cy="145.6" r="2.75" fill="#dfe86a"/>
<circle cx="141.7" cy="179.7" r="2.75" fill="#dfe86a"/>
<circle cx="118.1" cy="200.5" r="2.75" fill="#dfe86a"/>
<circle cx="146.1" cy="180.8" r="2.75" fill="#dfe86a"/>
<circle cx="145.0" cy="178.3" r="2.75" fill="#dfe86a"/>
<circle cx="118.0" cy="204.5" r="2.75" fill="#dfe86a"/>
<circle cx="166.9" cy="159.3" r="2.75" fill="#dfe86a"/>
<circle cx="178.3" cy="149.1" r="2.75" fill="#dfe86a"/>
<circle cx="87.4" cy="237.8" r="2.75" fill="#dfe86a"/>
<circle cx="138.9" cy="189.1" r="2.75" fill="#dfe86a"/>
<circle cx="145.3" cy="174.3" r="2.75" fill="#dfe86a"/>
<circle cx="134.6" cy="191.1" r="2.75" fill="#dfe86a"/>
<circle cx="105.9" cy="218.3" r="2.75" fill="#dfe86a"/>
<circle cx="188.9" cy="137.6" r="2.75" fill="#dfe86a"/>
<circle cx="92.9" cy="231.0" r="2.75" fill="#dfe86a"/>
<circle cx="115.4" cy="207.3" r="2.75" fill="#dfe86a"/>
<circle cx="98.3" cy="221.9" r="2.75" fill="#dfe86a"/>
<circle cx="100.0" cy="223.4" r="2.75" fill="#dfe86a"/>
<circle cx="131.4" cy="187.5" r="2.75" fill="#dfe86a"/>
<circle cx="123.8" cy="200.4" r="2.75" fill="#dfe86a"/>
<circle cx="114.0" cy="210.5" r="2.75" fill="#dfe86a"/>
<circle cx="124.0" cy="197.8" r="2.75" fill="#dfe86a"/>
<circle cx="155.6" cy="162.1" r="2.75" fill="#dfe86a"/>
<circle cx="114.1" cy="204.1" r="2.75" fill="#dfe86a"/>
<circle cx="116.3" cy="206.4" r="2.75" fill="#dfe86a"/>
<circle cx="86.6" cy="236.4" r="2.75" fill="#dfe86a"/>
<circle cx="178.7" cy="148.2" r="2.75" fill="#dfe86a"/>
<circle cx="123.5" cy="201.6" r="2.75" fill="#dfe86a"/>
<circle cx="114.5" cy="212.2" r="2.75" fill="#dfe86a"/>
<circle cx="92.3" cy="229.7" r="2.75" fill="#dfe86a"/>
<circle cx="145.4" cy="175.5" r="2.75" fill="#dfe86a"/>
<circle cx="110.1" cy="214.4" r="2.75" fill="#dfe86a"/>
<circle cx="128.3" cy="190.2" r="2.75" fill="#dfe86a"/>
<circle cx="167.6" cy="158.5" r="2.75" fill="#dfe86a"/>
<circle cx="140.2" cy="184.9" r="2.75" fill="#dfe86a"/>
<circle cx="86.4" cy="236.0" r="2.75" fill="#dfe86a"/>
<circle cx="172.5" cy="153.8" r="2.75" fill="#dfe86a"/>
<circle cx="96.8" cy="232.2" r="2.75" fill="#dfe86a"/>
<circle cx="182.9" cy="137.1" r="2.75" fill="#dfe86a"/>
<circle cx="101.0" cy="216.5" r="2.75" fill="#dfe86a"/>
<circle cx="162.8" cy="162.6" r="2.75" fill="#dfe86a"/>
<circle cx="105.4" cy="216.9" r="2.75" fill="#dfe86a"/>
<circle cx="99.7" cy="218.6" r="2.75" fill="#dfe86a"/>
<circle cx="181.2" cy="144.4" r="2.75" fill="#dfe86a"/>
<circle cx="104.6" cy="209.8" r="2.75" fill="#dfe86a"/>
<circle cx="154.2" cy="170.1" r="2.75" fill="#dfe86a"/>
<circle cx="144.5" cy="177.3" r="2.75" fill="#dfe86a"/>
<circle cx="98.5" cy="221.3" r="2.75" fill="#dfe86a"/>
<circle cx="183.9" cy="143.9" r="2.75" fill="#dfe86a"/>
<circle cx="122.4" cy="199.2" r="2.75" fill="#dfe86a"/>
<circle cx="124.0" cy="195.7" r="2.75" fill="#dfe86a"/>
<circle cx="143.2" cy="186.6" r="2.75" fill="#dfe86a"/>
<circle cx="98.4" cy="220.5" r="2.75" fill="#dfe86a"/>
<circle cx="91.8" cy="230.4" r="2.75" fill="#dfe86a"/>
<circle cx="111.6" cy="211.1" r="2.75" fill="#dfe86a"/>
<circle cx="135.0" cy="190.0" r="2.75" fill="#dfe86a"/>
<circle cx="108.5" cy="209.8" r="2.75" fill="#dfe86a"/>
<circle cx="164.3" cy="154.7" r="2.75" fill="#dfe86a"/>
<circle cx="127.8" cy="197.8" r="2.75" fill="#dfe86a"/>
<circle cx="131.0" cy="193.0" r="2.75" fill="#dfe86a"/>
<circle cx="116.3" cy="207.0" r="2.75" fill="#dfe86a"/>
<circle cx="108.1" cy="212.8" r="2.75" fill="#dfe86a"/>
<circle cx="130.3" cy="198.0" r="2.75" fill="#dfe86a"/>
<circle cx="189.5" cy="131.5" r="2.75" fill="#dfe86a"/>
<circle cx="173.2" cy="154.0" r="2.75" fill="#dfe86a"/>
<circle cx="123.0" cy="197.6" r="2.75" fill="#dfe86a"/>
<circle cx="99.2" cy="224.1" r="2.75" fill="#dfe86a"/>
<circle cx="92.2" cy="232.9" r="2.75" fill="#dfe86a"/>
<circle cx="121.6" cy="203.6" r="2.75" fill="#dfe86a"/>
<circle cx="182.0" cy="144.2" r="2.75" fill="#dfe86a"/>
<circle cx="130.3" cy="189.6" r="2.75" fill="#dfe86a"/>
<circle cx="99.7" cy="223.4" r="2.75" fill="#dfe86a"/>
<circle cx="161.5" cy="165.3" r="2.75" fill="#dfe86a"/>
<circle cx="87.9" cy="235.0" r="2.75" fill="#dfe86a"/>
<circle cx="104.7" cy="217.8" r="2.75" fill="#dfe86a"/>
<circle cx="90.1" cy="233.8" r="2.75" fill="#dfe86a"/>
<circle cx="176.9" cy="153.9" r="2.75" fill="#dfe86a"/>
<circle cx="138.5" cy="181.8" r="2.75" fill="#dfe86a"/>
<circle cx="136.6" cy="183.6" r="2.75" fill="#dfe86a"/>
<circle cx="102.8" cy="216.2" r="2.75" fill="#dfe86a"/>
<circle cx="173.6" cy="144.4" r="2.75" fill="#dfe86a"/>
<circle cx="123.8" cy="198.3" r="2.75" fill="#dfe86a"/>
<circle cx="146.0" cy="178.4" r="2.75" fill="#dfe86a"/>
<circle cx="179.4" cy="144.2" r="2.75" fill="#dfe86a"/>
<circle cx="104.6" cy="218.6" r="2.75" fill="#dfe86a"/>
<circle cx="89.7" cy="235.1" r="2.75" fill="#dfe86a"/>
<circle cx="174.6" cy="146.4" r="2.75" fill="#dfe86a"/>
<circle cx="182.5" cy="142.9" r="2.75" fill="#dfe86a"/>
<circle cx="109.2" cy="209.4" r="2.75" fill="#dfe86a"/>
<circle cx="134.8" cy="186.9" r="2.75" fill="#dfe86a"/>
<circle cx="92.0" cy="232.4" r="2.75" fill="#dfe86a"/>
<circle cx="105.4" cy="211.8" r="2.75" fill="#dfe86a"/>
<circle cx="184.6" cy="138.9" r="2.75" fill="#dfe86a"/>
<circle cx="124.3" cy="200.9" r="2.75" fill="#dfe86a"/>
<circle cx="109.7" cy="206.3" r="2.75" fill="#dfe86a"/>
<circle cx="97.8" cy="225.1" r="2.75" fill="#dfe86a"/>
<circle cx="89.9" cy="231.1" r="2.75" fill="#dfe86a"/>
<circle cx="155.0" cy="173.0" r="2.75" fill="#dfe86a"/>
<circle cx="179.3" cy="144.2" r="2.75" fill="#dfe86a"/>
<circle cx="90.5" cy="226.5" r="2.75" fill="#dfe86a"/>
<circle cx="118.1" cy="203.4" r="2.75" fill="#dfe86a"/>
<circle cx="89.9" cy="235.7" r="2.75" fill="#dfe86a"/>
<circle cx="124.9" cy="198.8" r="2.75" fill="#dfe86a"/>
<circle cx="86.0" cy="232.8" r="2.75" fill="#dfe86a"/>
<circle cx="99.5" cy="222.8" r="2.75" fill="#dfe86a"/>
<circle cx="184.7" cy="138.6" r="2.75" fill="#dfe86a"/>
<circle cx="130.8" cy="189.6" r="2.75" fill="#dfe86a"/>
<circle cx="152.7" cy="171.8" r="2.75" fill="#dfe86a"/>
<circle cx="161.9" cy="168.9" r="2.75" fill="#dfe86a"/>
<circle cx="185.6" cy="140.8" r="2.75" fill="#dfe86a"/>
<circle cx="170.1" cy="163.3" r="2.75" fill="#dfe86a"/>
<circle cx="185.9" cy="142.3" r="2.75" fill="#dfe86a"/>
<circle cx="185.9" cy="142.1" r="2.75" fill="#dfe86a"/>
<circle cx="143.5" cy="176.2" r="2.75" fill="#dfe86a"/>
<circle cx="108.0" cy="211.7" r="2.75" fill="#dfe86a"/>
<circle cx="128.2" cy="189.8" r="2.75" fill="#dfe86a"/>
<circle cx="181.5" cy="138.4" r="2.75" fill="#dfe86a"/>
<circle cx="94.2" cy="227.2" r="2.75" fill="#dfe86a"/>
<circle cx="120.2" cy="199.5" r="2.75" fill="#dfe86a"/>
<circle cx="129.1" cy="192.2" r="2.75" fill="#dfe86a"/>
<circle cx="99.4" cy="218.3" r="2.75" fill="#dfe86a"/>
<circle cx="132.9" cy="191.6" r="2.75" fill="#dfe86a"/>
<circle cx="136.7" cy="184.1" r="2.75" fill="#dfe86a"/>
<circle cx="102.2" cy="214.8" r="2.75" fill="#dfe86a"/>
<circle cx="107.2" cy="218.3" r="2.75" fill="#dfe86a"/>
<circle cx="124.2" cy="199.4" r="2.75" fill="#dfe86a"/>
<circle cx="133.2" cy="187.8" r="2.75" fill="#dfe86a"/>
<circle cx="172.7" cy="157.8" r="2.75" fill="#dfe86a"/>
<circle cx="140.2" cy="182.0" r="2.75" fill="#dfe86a"/>
<circle cx="150.4" cy="170.9" r="2.75" fill="#dfe86a"/>
<circle cx="178.9" cy="148.2" r="2.75" fill="#dfe86a"/>
<circle cx="94.4" cy="226.6" r="2.75" fill="#dfe86a"/>
<circle cx="104.0" cy="218.0" r="2.75" fill="#dfe86a"/>
<circle cx="95.0" cy="224.4" r="2.75" fill="#dfe86a"/>
<circle cx="168.3" cy="155.0" r="2.75" fill="#dfe86a"/>
<circle cx="136.7" cy="182.9" r="2.75" fill="#dfe86a"/>
<circle cx="100.6" cy="222.2" r="2.75" fill="#dfe86a"/>
<circle cx="138.0" cy="180.6" r="2.75" fill="#dfe86a"/>
<circle cx="160.6" cy="156.2" r="2.75" fill="#dfe86a"/>
<circle cx="107.0" cy="220.1" r="2.75" fill="#dfe86a"/>
<circle cx="169.9" cy="154.5" r="2.75" fill="#dfe86a"/>
<circle cx="97.1" cy="222.3" r="2.75" fill="#dfe86a"/>
<circle cx="164.2" cy="158.8" r="2.75" fill="#dfe86a"/>
<circle cx="90.5" cy="228.6" r="2.75" fill="#dfe86a"/>
<circle cx="92.5" cy="227.6" r="2.75" fill="#dfe86a"/>
<circle cx="157.7" cy="170.4" r="2.75" fill="#dfe86a"/>
<circle cx="107.4" cy="215.3" r="2.75" fill="#dfe86a"/>
<circle cx="167.7" cy="159.5" r="2.75" fill="#dfe86a"/>
<circle cx="129.2" cy="190.3" r="2.75" fill="#dfe86a"/>
<circle cx="123.6" cy="196.1" r="2.75" fill="#dfe86a"/>
<circle cx="97.3" cy="224.6" r="2.75" fill="#dfe86a"/>
<circle cx="96.6" cy="224.5" r="2.75" fill="#dfe86a"/>
<circle cx="101.7" cy="219.0" r="2.75" fill="#dfe86a"/>
<circle cx="154.4" cy="168.2" r="2.75" fill="#dfe86a"/>
<circle cx="118.7" cy="204.4" r="2.75" fill="#dfe86a"/>
<circle cx="99.5" cy="218.1" r="2.75" fill="#dfe86a"/>
<circle cx="151.6" cy="173.6" r="2.75" fill="#dfe86a"/>
<circle cx="95.8" cy="221.0" r="2.75" fill="#dfe86a"/>
<circle cx="176.0" cy="150.3" r="2.75" fill="#dfe86a"/>
<circle cx="152.2" cy="172.3" r="2.75" fill="#dfe86a"/>
<circle cx="173.3" cy="147.5" r="2.75" fill="#dfe86a"/>
<circle cx="105.4" cy="216.2" r="2.75" fill="#dfe86a"/>
<circle cx="100.0" cy="217.9" r="2.75" fill="#dfe86a"/>
<circle cx="157.5" cy="162.5" r="2.75" fill="#dfe86a"/>
<circle cx="102.5" cy="217.9" r="2.75" fill="#dfe86a"/>
<circle cx="108.0" cy="213.6" r="2.75" fill="#dfe86a"/>
<circle cx="183.5" cy="141.8" r="2.75" fill="#dfe86a"/>
<circle cx="85.8" cy="236.0" r="2.75" fill="#dfe86a"/>
<circle cx="107.5" cy="213.3" r="2.75" fill="#dfe86a"/>
<circle cx="187.5" cy="134.5" r="2.75" fill="#dfe86a"/>
<circle cx="157.5" cy="172.0" r="2.75" fill="#dfe86a"/>
<circle cx="137.9" cy="179.2" r="2.75" fill="#dfe86a"/>
<circle cx="144.8" cy="181.2" r="2.75" fill="#dfe86a"/>
<circle cx="151.8" cy="171.7" r="2.75" fill="#dfe86a"/>
<circle cx="189.9" cy="142.5" r="2.75" fill="#dfe86a"/>
<circle cx="123.4" cy="198.0" r="2.75" fill="#dfe86a"/>
<circle cx="112.8" cy="199.5" r="2.75" fill="#dfe86a"/>
<circle cx="161.4" cy="163.6" r="2.75" fill="#dfe86a"/>
<circle cx="167.0" cy="155.4" r="2.75" fill="#dfe86a"/>
<circle cx="154.6" cy="173.0" r="2.75" fill="#dfe86a"/>
<circle cx="90.3" cy="229.1" r="2.75" fill="#dfe86a"/>
<circle cx="175.9" cy="145.6" r="2.75" fill="#dfe86a"/>
<circle cx="103.2" cy="219.9" r="2.75" fill="#dfe86a"/>
<circle cx="137.1" cy="185.3" r="2.75" fill="#dfe86a"/>
<circle cx="96.6" cy="223.0" r="2.75" fill="#dfe86a"/>
<circle cx="104.0" cy="214.5" r="2.75" fill="#dfe86a"/>
<circle cx="145.1" cy="169.8" r="2.75" fill="#dfe86a"/>
<circle cx="94.8" cy="227.9" r="2.75" fill="#dfe86a"/>
<circle cx="114.1" cy="208.3" r="2.75" fill="#dfe86a"/>
<circle cx="154.8" cy="168.1" r="2.75" fill="#dfe86a"/>
<circle cx="109.8" cy="208.1" r="2.75" fill="#dfe86a"/>
<circle cx="111.4" cy="210.8" r="2.75" fill="#dfe86a"/>
<circle cx="104.6" cy="218.5" r="2.75" fill="#dfe86a"/>
<circle cx="88.1" cy="232.7" r="2.75" fill="#dfe86a"/>
<circle cx="168.0" cy="155.2" r="2.75" fill="#dfe86a"/>
<circle cx="187.7" cy="136.9" r="2.75" fill="#dfe86a"/>
<circle cx="129.4" cy="194.6" r="2.75" fill="#dfe86a"/>
<circle cx="92.8" cy="228.3" r="2.75" fill="#dfe86a"/>
<circle cx="119.5" cy="199.4" r="2.75" fill="#dfe86a"/>
<circle cx="120.2" cy="202.3" r="2.75" fill="#dfe86a"/>
<circle cx="102.6" cy="220.8" r="2.75" fill="#dfe86a"/>
<circle cx="109.7" cy="207.8" r="2.75" fill="#dfe86a"/>
<circle cx="168.7" cy="157.4" r="2.75" fill="#dfe86a"/>
<circle cx="111.3" cy="208.3" r="2.75" fill="#dfe86a"/>
<circle cx="92.8" cy="225.7" r="2.75" fill="#dfe86a"/>
<circle cx="115.8" cy="211.1" r="2.75" fill="#dfe86a"/>
<circle cx="98.1" cy="219.3" r="2.75" fill="#dfe86a"/>
<circle cx="104.5" cy="209.1" r="2.75" fill="#dfe86a"/>
<circle cx="189.7" cy="136.8" r="2.75" fill="#dfe86a"/>
<circle cx="108.1" cy="214.3" r="2.75" fill="#dfe86a"/>
<circle cx="186.8" cy="135.2" r="2.75" fill="#dfe86a"/>
<circle cx="88.6" cy="229.4" r="2.75" fill="#dfe86a"/>
<circle cx="93.8" cy="230.8" r="2.75" fill="#dfe86a"/>
<circle cx="151.6" cy="167.9" r="2.75" fill="#dfe86a"/>
<circle cx="151.2" cy="168.9" r="2.75" fill="#dfe86a"/>
<circle cx="154.0" cy="164.7" r="2.75" fill="#dfe86a"/>
<circle cx="188.6" cy="134.9" r="2.75" fill="#dfe86a"/>
<circle cx="86.8" cy="237.7" r="2.75" fill="#dfe86a"/>
<circle cx="87.1" cy="229.9" r="2.75" fill="#dfe86a"/>
<circle cx="97.3" cy="222.8" r="2.75" fill="#dfe86a"/>
<circle cx="87.5" cy="231.8" r="2.75" fill="#dfe86a"/>
<circle cx="113.9" cy="205.7" r="2.75" fill="#dfe86a"/>
<circle cx="112.1" cy="207.8" r="2.75" fill="#dfe86a"/>
<circle cx="102.8" cy="219.0" r="2.75" fill="#dfe86a"/>
<circle cx="138.3" cy="187.7" r="2.75" fill="#dfe86a"/>
<circle cx="170.3" cy="149.0" r="2.75" fill="#dfe86a"/>
<circle cx="151.9" cy="170.7" r="2.75" fill="#dfe86a"/>
<circle cx="111.0" cy="210.2" r="2.75" fill="#dfe86a"/>
<circle cx="155.9" cy="168.2" r="2.75" fill="#dfe86a"/>
<circle cx="107.1" cy="220.9" r="2.75" fill="#dfe86a"/>
<circle cx="158.7" cy="169.6" r="2.75" fill="#dfe86a"/>
<circle cx="152.9" cy="166.9" r="2.75" fill="#dfe86a"/>
<circle cx="131.8" cy="198.6" r="2.75" fill="#dfe86a"/>
<circle cx="168.2" cy="161.9" r="2.75" fill="#dfe86a"/>
<circle cx="104.1" cy="217.8" r="2.75" fill="#dfe86a"/>
<circle cx="109.1" cy="214.0" r="2.75" fill="#dfe86a"/>
<circle cx="160.1" cy="170.7" r="2.75" fill="#dfe86a"/>
<circle cx="124.3" cy="205.9" r="2.75" fill="#dfe86a"/>
<circle cx="92.6" cy="226.0" r="2.75" fill="#dfe86a"/>
<circle cx="173.7" cy="153.6" r="2.75" fill="#dfe86a"/>
<circle cx="104.9" cy="221.7" r="2.75" fill="#dfe86a"/>
<circle cx="144.4" cy="188.7" r="2.75" fill="#dfe86a"/>
<circle cx="161.5" cy="166.1" r="2.75" fill="#dfe86a"/>
<circle cx="151.6" cy="170.3" r="2.75" fill="#dfe86a"/>
<circle cx="168.6" cy="150.5" r="2.75" fill="#dfe86a"/>
<circle cx="177.2" cy="146.7" r="2.75" fill="#dfe86a"/>
<circle cx="94.9" cy="224.5" r="2.75" fill="#dfe86a"/>
<circle cx="188.9" cy="136.0" r="2.75" fill="#dfe86a"/>
<circle cx="86.1" cy="230.9" r="2.75" fill="#dfe86a"/>
<circle cx="143.8" cy="179.7" r="2.75" fill="#dfe86a"/>
<circle cx="107.8" cy="208.6" r="2.75" fill="#dfe86a"/>
<circle cx="135.1" cy="181.2" r="2.75" fill="#dfe86a"/>
<circle cx="110.7" cy="210.3" r="2.75" fill="#dfe86a"/>
<circle cx="112.7" cy="207.0" r="2.75" fill="#dfe86a"/>
<circle cx="97.1" cy="218.2" r="2.75" fill="#dfe86a"/>
<circle cx="133.2" cy="186.7" r="2.75" fill="#dfe86a"/>
<circle cx="189.4" cy="130.4" r="2.75" fill="#dfe86a"/>
<circle cx="115.9" cy="205.9" r="2.75" fill="#dfe86a"/>
<circle cx="133.5" cy="191.0" r="2.75" fill="#dfe86a"/>
<circle cx="92.5" cy="232.0" r="2.75" fill="#dfe86a"/>
<circle cx="114.4" cy="211.1" r="2.75" fill="#dfe86a"/>
<circle cx="99.0" cy="221.9" r="2.75" fill="#dfe86a"/>
<circle cx="91.2" cy="234.1" r="2.75" fill="#dfe86a"/>
<circle cx="106.3" cy="221.7" r="2.75" fill="#dfe86a"/>
<circle cx="137.7" cy="187.0" r="2.75" fill="#dfe86a"/>
<circle cx="117.8" cy="198.8" r="2.75" fill="#dfe86a"/>
<circle cx="111.0" cy="207.7" r="2.75" fill="#dfe86a"/>
<circle cx="137.2" cy="188.1" r="2.75" fill="#dfe86a"/>
<circle cx="122.9" cy="202.6" r="2.75" fill="#dfe86a"/>
<circle cx="88.1" cy="232.7" r="2.75" fill="#dfe86a"/>
<circle cx="97.6" cy="227.2" r="2.75" fill="#dfe86a"/>
<circle cx="108.7" cy="212.6" r="2.75" fill="#dfe86a"/>
<circle cx="97.3" cy="225.5" r="2.75" fill="#dfe86a"/>
<circle cx="125.6" cy="190.9" r="2.75" fill="#dfe86a"/>
<circle cx="171.3" cy="154.3" r="2.75" fill="#dfe86a"/>
<circle cx="173.8" cy="160.2" r="2.75" fill="#dfe86a"/>
<circle cx="143.0" cy="187.0" r="2.75" fill="#dfe86a"/>
<circle cx="185.4" cy="138.4" r="2.75" fill="#dfe86a"/>
<circle cx="95.2" cy="228.8" r="2.75" fill="#dfe86a"/>
<circle cx="108.2" cy="214.4" r="2.75" fill="#dfe86a"/>
<circle cx="124.3" cy="200.5" r="2.75" fill="#dfe86a"/>
<circle cx="151.0" cy="168.1" r="2.75" fill="#dfe86a"/>
<circle cx="156.4" cy="163.8" r="2.75" fill="#dfe86a"/>
<circle cx="162.5" cy="162.2" r="2.75" fill="#dfe86a"/>
<circle cx="91.5" cy="222.7" r="2.75" fill="#dfe86a"/>
<circle cx="172.2" cy="157.6" r="2.75" fill="#dfe86a"/>
<circle cx="105.3" cy="215.6" r="2.75" fill="#dfe86a"/>
<circle cx="94.8" cy="222.8" r="2.75" fill="#dfe86a"/>
<circle cx="107.6" cy="213.4" r="2.75" fill="#dfe86a"/>
<circle cx="132.8" cy="190.0" r="2.75" fill="#5ccfd2"/>
<circle cx="157.8" cy="167.0" r="2.75" fill="#5ccfd2"/>
<circle cx="162.7" cy="161.4" r="2.75" fill="#5ccfd2"/>
<circle cx="144.0" cy="168.4" r="2.75" fill="#5ccfd2"/>
<circle cx="165.9" cy="158.3" r="2.75" fill="#5ccfd2"/>
<circle cx="123.1" cy="197.2" r="2.75" fill="#5ccfd2"/>
<circle cx="135.2" cy="183.0" r="2.75" fill="#5ccfd2"/>
<circle cx="113.5" cy="206.7" r="2.75" fill="#5ccfd2"/>
<circle cx="130.9" cy="189.5" r="2.75" fill="#5ccfd2"/>
<circle cx="117.0" cy="204.3" r="2.75" fill="#5ccfd2"/>
<circle cx="114.6" cy="200.7" r="2.75" fill="#5ccfd2"/>
<circle cx="126.9" cy="194.1" r="2.75" fill="#5ccfd2"/>
<circle cx="115.3" cy="206.2" r="2.75" fill="#5ccfd2"/>
<circle cx="154.0" cy="176.7" r="2.75" fill="#5ccfd2"/>
<circle cx="149.6" cy="173.8" r="2.75" fill="#5ccfd2"/>
<circle cx="165.3" cy="153.5" r="2.75" fill="#5ccfd2"/>
<circle cx="106.5" cy="210.9" r="2.75" fill="#5ccfd2"/>
<circle cx="107.2" cy="212.8" r="2.75" fill="#5ccfd2"/>
<circle cx="152.6" cy="168.7" r="2.75" fill="#5ccfd2"/>
<circle cx="136.3" cy="187.2" r="2.75" fill="#5ccfd2"/>
<circle cx="130.1" cy="199.1" r="2.75" fill="#5ccfd2"/>
<circle cx="130.8" cy="189.2" r="2.75" fill="#5ccfd2"/>
<circle cx="138.5" cy="185.4" r="2.75" fill="#5ccfd2"/>
<circle cx="119.4" cy="207.1" r="2.75" fill="#5ccfd2"/>
<circle cx="101.7" cy="216.9" r="2.75" fill="#5ccfd2"/>
<circle cx="136.8" cy="182.6" r="2.75" fill="#5ccfd2"/>
<circle cx="99.9" cy="223.4" r="2.75" fill="#5ccfd2"/>
<circle cx="143.1" cy="183.4" r="2.75" fill="#5ccfd2"/>
<circle cx="137.0" cy="181.4" r="2.75" fill="#5ccfd2"/>
<circle cx="137.3" cy="186.3" r="2.75" fill="#5ccfd2"/>
<circle cx="99.9" cy="209.9" r="2.75" fill="#5ccfd2"/>
<circle cx="126.9" cy="194.6" r="2.75" fill="#5ccfd2"/>
<circle cx="163.3" cy="156.6" r="2.75" fill="#5ccfd2"/>
<circle cx="118.1" cy="209.8" r="2.75" fill="#5ccfd2"/>
<circle cx="154.2" cy="172.1" r="2.75" fill="#5ccfd2"/>
<circle cx="162.1" cy="162.0" r="2.75" fill="#5ccfd2"/>
<circle cx="146.9" cy="184.5" r="2.75" fill="#5ccfd2"/>
<circle cx="154.5" cy="166.0" r="2.75" fill="#5ccfd2"/>
<circle cx="144.2" cy="178.5" r="2.75" fill="#5ccfd2"/>
<circle cx="145.7" cy="181.3" r="2.75" fill="#5ccfd2"/>
<circle cx="136.1" cy="192.3" r="2.75" fill="#5ccfd2"/>
<circle cx="109.1" cy="218.5" r="2.75" fill="#5ccfd2"/>
<circle cx="137.1" cy="185.1" r="2.75" fill="#5ccfd2"/>
<circle cx="104.3" cy="217.9" r="2.75" fill="#5ccfd2"/>
<circle cx="165.1" cy="167.7" r="2.75" fill="#5ccfd2"/>
<circle cx="139.6" cy="189.0" r="2.75" fill="#5ccfd2"/>
<circle cx="121.6" cy="200.2" r="2.75" fill="#5ccfd2"/>
<circle cx="136.0" cy="192.5" r="2.75" fill="#5ccfd2"/>
<circle cx="156.1" cy="166.0" r="2.75" fill="#5ccfd2"/>
<circle cx="147.3" cy="176.7" r="2.75" fill="#5ccfd2"/>
<circle cx="104.1" cy="217.4" r="2.75" fill="#5ccfd2"/>
<circle cx="103.6" cy="224.6" r="2.75" fill="#5ccfd2"/>
<circle cx="158.6" cy="164.6" r="2.75" fill="#5ccfd2"/>
<circle cx="131.8" cy="191.6" r="2.75" fill="#5ccfd2"/>
<circle cx="106.8" cy="212.7" r="2.75" fill="#5ccfd2"/>
<circle cx="118.3" cy="205.7" r="2.75" fill="#5ccfd2"/>
<circle cx="114.9" cy="219.0" r="2.75" fill="#5ccfd2"/>
<circle cx="138.4" cy="179.9" r="2.75" fill="#5ccfd2"/>
<circle cx="115.4" cy="222.2" r="2.75" fill="#5ccfd2"/>
<circle cx="160.0" cy="151.8" r="2.75" fill="#5ccfd2"/>
<circle cx="114.3" cy="207.6" r="2.75" fill="#5ccfd2"/>
<circle cx="119.1" cy="202.6" r="2.75" fill="#5ccfd2"/>
<circle cx="159.7" cy="169.9" r="2.75" fill="#5ccfd2"/>
<circle cx="110.3" cy="212.3" r="2.75" fill="#5ccfd2"/>
<circle cx="129.0" cy="196.2" r="2.75" fill="#5ccfd2"/>
<circle cx="164.3" cy="161.2" r="2.75" fill="#5ccfd2"/>
<circle cx="142.9" cy="182.4" r="2.75" fill="#5ccfd2"/>
<circle cx="151.6" cy="170.5" r="2.75" fill="#5ccfd2"/>
<circle cx="154.3" cy="166.3" r="2.75" fill="#5ccfd2"/>
<circle cx="137.9" cy="192.1" r="2.75" fill="#5ccfd2"/>
<circle cx="119.7" cy="207.2" r="2.75" fill="#8af5f2"/>
<circle cx="158.5" cy="165.1" r="2.75" fill="#8af5f2"/>
<circle cx="90.3" cy="229.7" r="2.75" fill="#8af5f2"/>
<circle cx="126.0" cy="196.6" r="2.75" fill="#8af5f2"/>
<circle cx="135.9" cy="185.4" r="2.75" fill="#8af5f2"/>
<circle cx="109.0" cy="210.6" r="2.75" fill="#8af5f2"/>
<circle cx="127.8" cy="193.2" r="2.75" fill="#8af5f2"/>
<circle cx="128.7" cy="196.7" r="2.75" fill="#8af5f2"/>
<circle cx="109.5" cy="209.1" r="2.75" fill="#8af5f2"/>
<circle cx="92.7" cy="230.1" r="2.75" fill="#8af5f2"/>
<circle cx="100.4" cy="220.9" r="2.75" fill="#8af5f2"/>
<circle cx="90.5" cy="229.0" r="2.75" fill="#8af5f2"/>
<circle cx="106.8" cy="214.9" r="2.75" fill="#8af5f2"/>
<circle cx="117.9" cy="206.4" r="2.75" fill="#8af5f2"/>
<circle cx="154.7" cy="171.6" r="2.75" fill="#8af5f2"/>
<circle cx="137.8" cy="186.5" r="2.75" fill="#8af5f2"/>
<circle cx="126.0" cy="197.1" r="2.75" fill="#8af5f2"/>
<circle cx="141.2" cy="187.5" r="2.75" fill="#8af5f2"/>
<circle cx="121.9" cy="200.7" r="2.75" fill="#8af5f2"/>
<circle cx="154.4" cy="169.7" r="2.75" fill="#8af5f2"/>
<circle cx="140.7" cy="185.2" r="2.75" fill="#8af5f2"/>
<circle cx="121.0" cy="202.3" r="2.75" fill="#8af5f2"/>
<circle cx="103.6" cy="220.1" r="2.75" fill="#8af5f2"/>
<circle cx="106.5" cy="214.8" r="2.75" fill="#8af5f2"/>
<circle cx="102.9" cy="218.7" r="2.75" fill="#8af5f2"/>
<circle cx="136.1" cy="187.6" r="2.75" fill="#8af5f2"/>
<circle cx="141.5" cy="181.2" r="2.75" fill="#8af5f2"/>
<circle cx="139.2" cy="184.7" r="2.75" fill="#8af5f2"/>
<circle cx="150.3" cy="174.1" r="2.75" fill="#8af5f2"/>
<circle cx="115.6" cy="201.5" r="2.75" fill="#8af5f2"/>
<circle cx="148.3" cy="176.3" r="2.75" fill="#8af5f2"/>
<circle cx="150.6" cy="172.9" r="2.75" fill="#8af5f2"/>
<circle cx="146.2" cy="179.0" r="2.75" fill="#8af5f2"/>
<circle cx="152.3" cy="170.9" r="2.75" fill="#8af5f2"/>
<circle cx="100.7" cy="220.1" r="2.75" fill="#8af5f2"/>
<circle cx="144.5" cy="178.3" r="2.75" fill="#8af5f2"/>
<circle cx="137.9" cy="187.4" r="2.75" fill="#8af5f2"/>
<circle cx="133.1" cy="191.0" r="2.75" fill="#8af5f2"/>
<circle cx="131.9" cy="190.0" r="2.75" fill="#8af5f2"/>
<circle cx="104.2" cy="217.5" r="2.75" fill="#8af5f2"/>
<circle cx="125.8" cy="199.7" r="2.75" fill="#8af5f2"/>
<circle cx="89.5" cy="233.6" r="2.75" fill="#8af5f2"/>
<circle cx="157.6" cy="167.7" r="2.75" fill="#8af5f2"/>
<circle cx="99.8" cy="220.4" r="2.75" fill="#8af5f2"/>
<circle cx="155.5" cy="170.6" r="2.75" fill="#8af5f2"/>
<circle cx="92.1" cy="226.4" r="2.75" fill="#8af5f2"/>
<circle cx="132.7" cy="189.5" r="2.75" fill="#8af5f2"/>
<circle cx="130.6" cy="191.3" r="2.75" fill="#8af5f2"/>
<circle cx="104.7" cy="216.3" r="2.75" fill="#8af5f2"/>
<circle cx="134.6" cy="183.9" r="2.75" fill="#8af5f2"/>
<circle cx="139.1" cy="184.9" r="2.75" fill="#8af5f2"/>
<circle cx="99.5" cy="223.7" r="2.75" fill="#8af5f2"/>
<circle cx="90.6" cy="231.2" r="2.75" fill="#8af5f2"/>
<circle cx="93.5" cy="227.4" r="2.75" fill="#8af5f2"/>
<circle cx="143.3" cy="181.4" r="2.75" fill="#8af5f2"/>
<circle cx="145.1" cy="178.4" r="2.75" fill="#8af5f2"/>
<circle cx="126.9" cy="197.6" r="2.75" fill="#8af5f2"/>
<circle cx="130.7" cy="194.2" r="2.75" fill="#8af5f2"/>
<circle cx="134.4" cy="188.2" r="2.75" fill="#8af5f2"/>
<circle cx="154.3" cy="169.7" r="2.75" fill="#8af5f2"/>
<circle cx="123.7" cy="199.8" r="2.75" fill="#8af5f2"/>
<circle cx="153.1" cy="171.1" r="2.75" fill="#8af5f2"/>
<circle cx="157.8" cy="166.5" r="2.75" fill="#8af5f2"/>
<circle cx="131.1" cy="193.4" r="2.75" fill="#8af5f2"/>
<circle cx="137.6" cy="184.5" r="2.75" fill="#8af5f2"/>
<circle cx="114.3" cy="209.8" r="2.75" fill="#8af5f2"/>
<circle cx="125.2" cy="197.5" r="2.75" fill="#8af5f2"/>
<circle cx="157.3" cy="163.6" r="2.75" fill="#8af5f2"/>
<circle cx="123.8" cy="198.3" r="2.75" fill="#8af5f2"/>
<circle cx="94.0" cy="229.3" r="2.75" fill="#8af5f2"/>
<circle cx="126.7" cy="197.5" r="2.75" fill="#8af5f2"/>
<circle cx="99.2" cy="222.2" r="2.75" fill="#8af5f2"/>
<circle cx="126.9" cy="191.3" r="2.75" fill="#8af5f2"/>
<circle cx="147.9" cy="176.1" r="2.75" fill="#8af5f2"/>
<circle cx="111.3" cy="212.5" r="2.75" fill="#8af5f2"/>
<circle cx="210.3" cy="118.3" r="2.75" fill="#8af5f2"/>
<circle cx="226.7" cy="105.7" r="2.75" fill="#8af5f2"/>
<circle cx="252.3" cy="85.1" r="2.75" fill="#8af5f2"/>
<circle cx="208.0" cy="112.4" r="2.75" fill="#8af5f2"/>
<circle cx="214.9" cy="122.2" r="2.75" fill="#8af5f2"/>
<circle cx="249.2" cy="81.9" r="2.75" fill="#8af5f2"/>
<circle cx="254.7" cy="77.7" r="2.75" fill="#8af5f2"/>
<circle cx="259.8" cy="77.1" r="2.75" fill="#8af5f2"/>
<circle cx="209.4" cy="125.2" r="2.75" fill="#8af5f2"/>
<circle cx="208.2" cy="121.1" r="2.75" fill="#8af5f2"/>
<circle cx="217.7" cy="100.6" r="2.75" fill="#8af5f2"/>
<circle cx="225.3" cy="106.7" r="2.75" fill="#8af5f2"/>
<circle cx="260.2" cy="74.0" r="2.75" fill="#8af5f2"/>
<circle cx="239.0" cy="94.7" r="2.75" fill="#8af5f2"/>
<circle cx="256.4" cy="69.7" r="2.75" fill="#8af5f2"/>
<circle cx="261.3" cy="73.5" r="2.75" fill="#8af5f2"/>
<circle cx="246.9" cy="74.4" r="2.75" fill="#e656de"/>
<circle cx="253.6" cy="77.0" r="2.75" fill="#c6c6c6"/>
<circle cx="256.4" cy="81.1" r="2.75" fill="#da8262"/>
<circle cx="261.3" cy="82.5" r="2.75" fill="#da8262"/>
<circle cx="234.9" cy="79.7" r="2.75" fill="#8af5f2"/>
<circle cx="243.2" cy="81.1" r="2.75" fill="#e656de"/>
<circle cx="251.5" cy="87.6" r="2.75" fill="#b8c22c"/>
<circle cx="246.7" cy="92.9" r="2.75" fill="#5a5a5a"/>
<circle cx="239.7" cy="90.8" r="2.75" fill="#8af5f2"/>
<circle cx="240.4" cy="96.8" r="2.75" fill="#8af5f2"/>
</g>
<rect x="57.50" y="15.00" width="248.10" height="247.50" fill="none" stroke="#3c3c3c" stroke-width="1.1"/>
<line x1="52.50" y1="231.70" x2="57.50" y2="231.70" stroke="#3c3c3c" stroke-width="1.1"/>
<text x="25.87" y="238.70" font-size="18.7" font-weight="bold">0.0</text>
<line x1="88.40" y1="262.50" x2="88.40" y2="267.50" stroke="#3c3c3c" stroke-width="1.1"/>
<text x="77.41" y="284.50" font-size="18.7" font-weight="bold">0.0</text>
<line x1="52.50" y1="192.24" x2="57.50" y2="192.24" stroke="#3c3c3c" stroke-width="1.1"/>
<text x="25.87" y="199.24" font-size="18.7" font-weight="bold">0.2</text>
<line x1="127.90" y1="262.50" x2="127.90" y2="267.50" stroke="#3c3c3c" stroke-width="1.1"/>
<text x="116.91" y="284.50" font-size="18.7" font-weight="bold">0.2</text>
<line x1="52.50" y1="152.78" x2="57.50" y2="152.78" stroke="#3c3c3c" stroke-width="1.1"/>
<text x="25.50" y="159.78" font-size="18.7" font-weight="bold">0.4</text>
<line x1="167.40" y1="262.50" x2="167.40" y2="267.50" stroke="#3c3c3c" stroke-width="1.1"/>
<text x="156.23" y="284.50" font-size="18.7" font-weight="bold">0.4</text>
<line x1="52.50" y1="113.32" x2="57.50" y2="113.32" stroke="#3c3c3c" stroke-width="1.1"/>
<text x="25.69" y="120.32" font-size="18.7" font-weight="bold">0.6</text>
<line x1="206.90" y1="262.50" x2="206.90" y2="267.50" stroke="#3c3c3c" stroke-width="1.1"/>
<text x="195.82" y="284.50" font-size="18.7" font-weight="bold">0.6</text>
<line x1="52.50" y1="73.86" x2="57.50" y2="73.86" stroke="#3c3c3c" stroke-width="1.1"/>
<text x="25.78" y="80.86" font-size="18.7" font-weight="bold">0.8</text>
<line x1="246.40" y1="262.50" x2="246.40" y2="267.50" stroke="#3c3c3c" stroke-width="1.1"/>
<text x="235.37" y="284.50" font-size="18.7" font-weight="bold">0.8</text>
<line x1="52.50" y1="34.40" x2="57.50" y2="34.40" stroke="#3c3c3c" stroke-width="1.1"/>
<text x="25.87" y="41.40" font-size="18.7" font-weight="bold">1.0</text>
<line x1="285.90" y1="262.50" x2="285.90" y2="267.50" stroke="#3c3c3c" stroke-width="1.1"/>
<text x="274.54" y="284.50" font-size="18.7" font-weight="bold">1.0</text>
<text x="150.22" y="38.10" font-size="19" font-weight="bold" textLength="58.89" lengthAdjust="spacingAndGlyphs">Energy</text>
<text x="121.72" y="309.90" font-size="19" font-weight="bold" textLength="12.56" lengthAdjust="spacingAndGlyphs">E</text>
<text x="134.21" y="313.90" font-size="12.6" font-weight="bold" textLength="24.87" lengthAdjust="spacingAndGlyphs">DFT</text>
<text x="161.74" y="309.70" font-size="19" font-weight="bold" textLength="81.54" lengthAdjust="spacingAndGlyphs">(eV/atom)</text>
<g transform="translate(13.00 196.80) rotate(-90)"><text x="-0.28" y="0" font-size="19" font-weight="bold" textLength="12.56" lengthAdjust="spacingAndGlyphs">E</text></g>
<g transform="translate(17.40 184.50) rotate(-90)"><text x="-0.25" y="0" font-size="12.7" font-weight="bold" textLength="25.97" lengthAdjust="spacingAndGlyphs">NNP</text></g>
<g transform="translate(12.90 153.60) rotate(-90)"><text x="-0.84" y="0" font-size="19" font-weight="bold" textLength="80.21" lengthAdjust="spacingAndGlyphs">(eV/atom)</text></g>
<text x="3.20" y="17.70" font-size="19.8" font-weight="normal" textLength="22.20" lengthAdjust="spacingAndGlyphs">(a)</text>
<line x1="380.60" y1="253.90" x2="612.40" y2="24.00" stroke="#111" stroke-width="1.5" stroke-dasharray="4.6 2.0"/>
<line x1="397.26" y1="235.62" x2="600.05" y2="35.47" stroke="#111" stroke-width="1.6"/>
<g fill-opacity="0.65">
<circle cx="467.2" cy="152.4" r="2.9" fill="#3f82bd"/>
<circle cx="517.2" cy="104.4" r="2.9" fill="#3f82bd"/>
<circle cx="521.8" cy="97.8" r="2.9" fill="#3f82bd"/>
<circle cx="474.1" cy="145.2" r="2.9" fill="#3f82bd"/>
<circle cx="496.2" cy="154.1" r="2.9" fill="#3f82bd"/>
<circle cx="489.8" cy="127.7" r="2.9" fill="#3f82bd"/>
<circle cx="514.4" cy="135.6" r="2.9" fill="#3f82bd"/>
<circle cx="490.9" cy="159.1" r="2.9" fill="#3f82bd"/>
<circle cx="433.9" cy="195.3" r="2.9" fill="#3f82bd"/>
<circle cx="505.0" cy="113.1" r="2.9" fill="#3f82bd"/>
<circle cx="502.7" cy="118.0" r="2.9" fill="#3f82bd"/>
<circle cx="513.6" cy="135.4" r="2.9" fill="#3f82bd"/>
<circle cx="535.2" cy="113.2" r="2.9" fill="#3f82bd"/>
<circle cx="557.7" cy="83.0" r="2.9" fill="#3f82bd"/>
<circle cx="569.2" cy="61.5" r="2.9" fill="#3f82bd"/>
<circle cx="431.0" cy="198.5" r="2.9" fill="#3f82bd"/>
<circle cx="441.5" cy="193.9" r="2.9" fill="#a6caf2"/>
<circle cx="477.7" cy="140.9" r="2.9" fill="#a6caf2"/>
<circle cx="515.2" cy="104.1" r="2.9" fill="#a6caf2"/>
<circle cx="515.7" cy="105.5" r="2.9" fill="#a6caf2"/>
<circle cx="479.7" cy="167.4" r="2.9" fill="#a6caf2"/>
<circle cx="534.5" cy="93.0" r="2.9" fill="#a6caf2"/>
<circle cx="498.3" cy="114.8" r="2.9" fill="#a6caf2"/>
<circle cx="499.9" cy="151.6" r="2.9" fill="#a6caf2"/>
<circle cx="481.1" cy="138.1" r="2.9" fill="#a6caf2"/>
<circle cx="502.5" cy="148.9" r="2.9" fill="#a6caf2"/>
<circle cx="521.9" cy="129.5" r="2.9" fill="#a6caf2"/>
<circle cx="493.0" cy="161.9" r="2.9" fill="#a6caf2"/>
<circle cx="525.1" cy="126.3" r="2.9" fill="#a6caf2"/>
<circle cx="518.3" cy="134.3" r="2.9" fill="#a6caf2"/>
<circle cx="521.3" cy="100.2" r="2.9" fill="#a6caf2"/>
<circle cx="448.8" cy="174.6" r="2.9" fill="#a6caf2"/>
<circle cx="454.7" cy="187.6" r="2.9" fill="#a6caf2"/>
<circle cx="467.4" cy="177.0" r="2.9" fill="#a6caf2"/>
<circle cx="513.0" cy="106.2" r="2.9" fill="#a6caf2"/>
<circle cx="491.0" cy="160.2" r="2.9" fill="#f58220"/>
<circle cx="478.5" cy="136.3" r="2.9" fill="#f58220"/>
<circle cx="529.4" cy="120.4" r="2.9" fill="#f58220"/>
<circle cx="529.8" cy="92.6" r="2.9" fill="#f58220"/>
<circle cx="511.8" cy="142.0" r="2.9" fill="#f58220"/>
<circle cx="503.1" cy="147.1" r="2.9" fill="#f58220"/>
<circle cx="511.1" cy="109.9" r="2.9" fill="#f58220"/>
<circle cx="486.7" cy="128.9" r="2.9" fill="#f58220"/>
<circle cx="438.4" cy="189.5" r="2.9" fill="#f58220"/>
<circle cx="525.7" cy="125.2" r="2.9" fill="#f58220"/>
<circle cx="444.4" cy="177.1" r="2.9" fill="#f58220"/>
<circle cx="481.2" cy="136.5" r="2.9" fill="#f58220"/>
<circle cx="531.1" cy="117.0" r="2.9" fill="#f58220"/>
<circle cx="489.6" cy="127.2" r="2.9" fill="#f58220"/>
<circle cx="435.3" cy="191.5" r="2.9" fill="#f58220"/>
<circle cx="496.8" cy="121.7" r="2.9" fill="#f58220"/>
<circle cx="502.6" cy="116.5" r="2.9" fill="#f58220"/>
<circle cx="466.4" cy="153.5" r="2.9" fill="#f58220"/>
<circle cx="465.7" cy="151.2" r="2.9" fill="#f58220"/>
<circle cx="532.3" cy="91.0" r="2.9" fill="#f58220"/>
<circle cx="558.9" cy="76.0" r="2.9" fill="#f58220"/>
<circle cx="525.6" cy="124.1" r="2.9" fill="#f58220"/>
<circle cx="477.0" cy="169.6" r="2.9" fill="#f58220"/>
<circle cx="453.7" cy="164.1" r="2.9" fill="#f58220"/>
<circle cx="547.3" cy="83.1" r="2.9" fill="#f58220"/>
<circle cx="519.0" cy="129.8" r="2.9" fill="#f58220"/>
<circle cx="466.5" cy="178.3" r="2.9" fill="#f58220"/>
<circle cx="505.7" cy="112.7" r="2.9" fill="#f58220"/>
<circle cx="499.2" cy="120.8" r="2.9" fill="#f58220"/>
<circle cx="476.3" cy="140.1" r="2.9" fill="#f58220"/>
<circle cx="488.7" cy="130.4" r="2.9" fill="#f58220"/>
<circle cx="515.2" cy="106.9" r="2.9" fill="#f58220"/>
<circle cx="490.4" cy="127.1" r="2.9" fill="#f58220"/>
<circle cx="427.9" cy="199.0" r="2.9" fill="#f58220"/>
<circle cx="428.4" cy="193.9" r="2.9" fill="#f58220"/>
<circle cx="572.3" cy="64.7" r="2.9" fill="#f58220"/>
<circle cx="428.2" cy="197.2" r="2.9" fill="#f58220"/>
<circle cx="561.1" cy="74.6" r="2.9" fill="#f58220"/>
<circle cx="554.5" cy="84.4" r="2.9" fill="#f2b880"/>
<circle cx="479.6" cy="168.5" r="2.9" fill="#f2b880"/>
<circle cx="532.6" cy="94.4" r="2.9" fill="#f2b880"/>
<circle cx="431.3" cy="198.8" r="2.9" fill="#f2b880"/>
<circle cx="518.1" cy="131.3" r="2.9" fill="#f2b880"/>
<circle cx="492.0" cy="161.3" r="2.9" fill="#f2b880"/>
<circle cx="453.8" cy="186.2" r="2.9" fill="#f2b880"/>
<circle cx="534.3" cy="90.6" r="2.9" fill="#f2b880"/>
<circle cx="502.4" cy="147.2" r="2.9" fill="#f2b880"/>
<circle cx="447.7" cy="175.6" r="2.9" fill="#f2b880"/>
<circle cx="541.9" cy="103.9" r="2.9" fill="#f2b880"/>
<circle cx="476.0" cy="143.1" r="2.9" fill="#f2b880"/>
<circle cx="508.3" cy="107.4" r="2.9" fill="#f2b880"/>
<circle cx="500.7" cy="119.0" r="2.9" fill="#f2b880"/>
<circle cx="475.9" cy="143.3" r="2.9" fill="#f2b880"/>
<circle cx="508.5" cy="111.7" r="2.9" fill="#f2b880"/>
<circle cx="521.0" cy="128.4" r="2.9" fill="#f2b880"/>
<circle cx="451.4" cy="169.6" r="2.9" fill="#f2b880"/>
<circle cx="487.3" cy="129.1" r="2.9" fill="#f2b880"/>
<circle cx="523.3" cy="100.9" r="2.9" fill="#f2b880"/>
<circle cx="470.6" cy="179.5" r="2.9" fill="#f2b880"/>
<circle cx="507.8" cy="110.9" r="2.9" fill="#f2b880"/>
<circle cx="494.0" cy="121.0" r="2.9" fill="#f2b880"/>
<circle cx="544.9" cy="99.0" r="2.9" fill="#f2b880"/>
<circle cx="456.9" cy="162.0" r="2.9" fill="#f2b880"/>
<circle cx="477.0" cy="139.0" r="2.9" fill="#f2b880"/>
<circle cx="460.1" cy="158.0" r="2.9" fill="#f2b880"/>
<circle cx="458.7" cy="159.8" r="2.9" fill="#f2b880"/>
<circle cx="474.5" cy="173.0" r="2.9" fill="#f2b880"/>
<circle cx="524.3" cy="127.6" r="2.9" fill="#f2b880"/>
<circle cx="522.9" cy="126.8" r="2.9" fill="#f2b880"/>
<circle cx="500.7" cy="118.8" r="2.9" fill="#f2b880"/>
<circle cx="441.1" cy="194.3" r="2.9" fill="#f2b880"/>
<circle cx="559.0" cy="88.1" r="2.9" fill="#f2b880"/>
<circle cx="572.8" cy="62.5" r="2.9" fill="#f2b880"/>
<circle cx="575.4" cy="63.4" r="2.9" fill="#f2b880"/>
<circle cx="516.2" cy="134.5" r="2.9" fill="#45b035"/>
<circle cx="537.6" cy="113.4" r="2.9" fill="#45b035"/>
<circle cx="464.3" cy="153.9" r="2.9" fill="#45b035"/>
<circle cx="508.8" cy="142.6" r="2.9" fill="#45b035"/>
<circle cx="489.5" cy="129.2" r="2.9" fill="#45b035"/>
<circle cx="519.4" cy="131.9" r="2.9" fill="#45b035"/>
<circle cx="540.4" cy="104.2" r="2.9" fill="#45b035"/>
<circle cx="514.7" cy="106.9" r="2.9" fill="#45b035"/>
<circle cx="482.8" cy="135.3" r="2.9" fill="#45b035"/>
<circle cx="497.9" cy="153.6" r="2.9" fill="#45b035"/>
<circle cx="501.3" cy="148.6" r="2.9" fill="#45b035"/>
<circle cx="461.2" cy="156.5" r="2.9" fill="#45b035"/>
<circle cx="496.0" cy="121.7" r="2.9" fill="#45b035"/>
<circle cx="529.6" cy="123.9" r="2.9" fill="#45b035"/>
<circle cx="502.4" cy="148.3" r="2.9" fill="#45b035"/>
<circle cx="467.7" cy="176.6" r="2.9" fill="#45b035"/>
<circle cx="535.7" cy="112.8" r="2.9" fill="#45b035"/>
<circle cx="495.3" cy="154.4" r="2.9" fill="#45b035"/>
<circle cx="534.9" cy="115.0" r="2.9" fill="#45b035"/>
<circle cx="518.8" cy="130.9" r="2.9" fill="#45b035"/>
<circle cx="424.1" cy="209.9" r="2.9" fill="#45b035"/>
<circle cx="458.7" cy="159.0" r="2.9" fill="#45b035"/>
<circle cx="471.0" cy="147.1" r="2.9" fill="#45b035"/>
<circle cx="459.8" cy="159.0" r="2.9" fill="#45b035"/>
<circle cx="494.9" cy="124.9" r="2.9" fill="#45b035"/>
<circle cx="480.5" cy="133.2" r="2.9" fill="#45b035"/>
<circle cx="568.3" cy="77.9" r="2.9" fill="#45b035"/>
<circle cx="420.9" cy="208.4" r="2.9" fill="#45b035"/>
<circle cx="572.8" cy="64.7" r="2.9" fill="#45b035"/>
<circle cx="487.3" cy="163.4" r="2.9" fill="#98f870"/>
<circle cx="516.6" cy="132.8" r="2.9" fill="#98f870"/>
<circle cx="532.2" cy="115.1" r="2.9" fill="#98f870"/>
<circle cx="494.1" cy="157.8" r="2.9" fill="#98f870"/>
<circle cx="481.0" cy="137.4" r="2.9" fill="#98f870"/>
<circle cx="535.8" cy="110.4" r="2.9" fill="#98f870"/>
<circle cx="541.3" cy="104.6" r="2.9" fill="#98f870"/>
<circle cx="523.6" cy="100.3" r="2.9" fill="#98f870"/>
<circle cx="454.3" cy="166.0" r="2.9" fill="#98f870"/>
<circle cx="531.2" cy="116.8" r="2.9" fill="#98f870"/>
<circle cx="556.8" cy="84.5" r="2.9" fill="#98f870"/>
<circle cx="467.5" cy="151.7" r="2.9" fill="#98f870"/>
<circle cx="430.4" cy="200.8" r="2.9" fill="#98f870"/>
<circle cx="499.5" cy="150.4" r="2.9" fill="#98f870"/>
<circle cx="452.2" cy="171.0" r="2.9" fill="#98f870"/>
<circle cx="552.0" cy="92.4" r="2.9" fill="#98f870"/>
<circle cx="467.3" cy="176.6" r="2.9" fill="#98f870"/>
<circle cx="490.2" cy="158.4" r="2.9" fill="#98f870"/>
<circle cx="565.9" cy="70.2" r="2.9" fill="#98f870"/>
<circle cx="473.1" cy="172.1" r="2.9" fill="#98f870"/>
<circle cx="566.9" cy="69.9" r="2.9" fill="#98f870"/>
<circle cx="478.3" cy="139.7" r="2.9" fill="#98f870"/>
<circle cx="506.2" cy="148.6" r="2.9" fill="#98f870"/>
<circle cx="468.8" cy="175.3" r="2.9" fill="#98f870"/>
<circle cx="518.7" cy="137.3" r="2.9" fill="#98f870"/>
<circle cx="489.7" cy="125.5" r="2.9" fill="#98f870"/>
<circle cx="542.3" cy="105.5" r="2.9" fill="#98f870"/>
<circle cx="513.2" cy="138.5" r="2.9" fill="#98f870"/>
<circle cx="510.1" cy="109.3" r="2.9" fill="#98f870"/>
<circle cx="505.9" cy="148.4" r="2.9" fill="#98f870"/>
<circle cx="539.4" cy="106.6" r="2.9" fill="#98f870"/>
<circle cx="519.9" cy="133.8" r="2.9" fill="#98f870"/>
<circle cx="479.8" cy="139.2" r="2.9" fill="#98f870"/>
<circle cx="484.5" cy="132.3" r="2.9" fill="#98f870"/>
<circle cx="521.7" cy="100.2" r="2.9" fill="#98f870"/>
<circle cx="522.2" cy="99.6" r="2.9" fill="#98f870"/>
<circle cx="493.5" cy="125.2" r="2.9" fill="#98f870"/>
<circle cx="488.1" cy="164.9" r="2.9" fill="#98f870"/>
<circle cx="571.4" cy="65.2" r="2.9" fill="#98f870"/>
<circle cx="479.3" cy="128.6" r="2.9" fill="#e02a2a"/>
<circle cx="483.4" cy="134.8" r="2.9" fill="#e02a2a"/>
<circle cx="475.5" cy="143.2" r="2.9" fill="#e02a2a"/>
<circle cx="516.6" cy="106.3" r="2.9" fill="#e02a2a"/>
<circle cx="533.7" cy="112.9" r="2.9" fill="#e02a2a"/>
<circle cx="462.4" cy="156.5" r="2.9" fill="#e02a2a"/>
<circle cx="492.4" cy="126.4" r="2.9" fill="#e02a2a"/>
<circle cx="556.6" cy="84.1" r="2.9" fill="#e02a2a"/>
<circle cx="507.8" cy="141.5" r="2.9" fill="#e02a2a"/>
<circle cx="458.2" cy="162.7" r="2.9" fill="#e02a2a"/>
<circle cx="495.2" cy="124.4" r="2.9" fill="#e02a2a"/>
<circle cx="493.2" cy="156.0" r="2.9" fill="#e02a2a"/>
<circle cx="417.3" cy="202.9" r="2.9" fill="#e02a2a"/>
<circle cx="443.0" cy="182.9" r="2.9" fill="#e02a2a"/>
<circle cx="462.8" cy="153.0" r="2.9" fill="#e02a2a"/>
<circle cx="478.5" cy="137.3" r="2.9" fill="#e02a2a"/>
<circle cx="515.1" cy="103.7" r="2.9" fill="#e02a2a"/>
<circle cx="483.9" cy="133.9" r="2.9" fill="#e02a2a"/>
<circle cx="495.2" cy="154.5" r="2.9" fill="#e02a2a"/>
<circle cx="420.7" cy="206.5" r="2.9" fill="#e02a2a"/>
<circle cx="481.6" cy="166.2" r="2.9" fill="#e02a2a"/>
<circle cx="532.9" cy="94.6" r="2.9" fill="#e02a2a"/>
<circle cx="518.3" cy="136.5" r="2.9" fill="#e02a2a"/>
<circle cx="533.2" cy="117.0" r="2.9" fill="#e02a2a"/>
<circle cx="461.6" cy="156.6" r="2.9" fill="#e02a2a"/>
<circle cx="482.9" cy="175.0" r="2.9" fill="#e02a2a"/>
<circle cx="502.8" cy="147.2" r="2.9" fill="#e02a2a"/>
<circle cx="489.8" cy="129.4" r="2.9" fill="#e02a2a"/>
<circle cx="523.9" cy="124.6" r="2.9" fill="#e02a2a"/>
<circle cx="495.0" cy="123.1" r="2.9" fill="#e02a2a"/>
<circle cx="514.7" cy="107.0" r="2.9" fill="#e02a2a"/>
<circle cx="531.9" cy="115.8" r="2.9" fill="#e02a2a"/>
<circle cx="524.5" cy="124.0" r="2.9" fill="#e02a2a"/>
<circle cx="489.5" cy="125.1" r="2.9" fill="#e02a2a"/>
<circle cx="502.4" cy="148.0" r="2.9" fill="#e02a2a"/>
<circle cx="422.5" cy="208.3" r="2.9" fill="#e02a2a"/>
<circle cx="465.8" cy="179.7" r="2.9" fill="#e02a2a"/>
<circle cx="484.6" cy="133.5" r="2.9" fill="#e02a2a"/>
<circle cx="503.5" cy="116.2" r="2.9" fill="#e02a2a"/>
<circle cx="450.7" cy="172.4" r="2.9" fill="#e02a2a"/>
<circle cx="497.2" cy="154.7" r="2.9" fill="#e02a2a"/>
<circle cx="448.9" cy="192.4" r="2.9" fill="#e02a2a"/>
<circle cx="529.9" cy="117.4" r="2.9" fill="#e02a2a"/>
<circle cx="506.6" cy="113.8" r="2.9" fill="#e02a2a"/>
<circle cx="470.0" cy="148.5" r="2.9" fill="#e02a2a"/>
<circle cx="522.6" cy="125.7" r="2.9" fill="#e02a2a"/>
<circle cx="452.7" cy="159.2" r="2.9" fill="#e02a2a"/>
<circle cx="480.1" cy="172.4" r="2.9" fill="#e02a2a"/>
<circle cx="455.9" cy="164.8" r="2.9" fill="#e02a2a"/>
<circle cx="437.9" cy="193.6" r="2.9" fill="#e02a2a"/>
<circle cx="553.5" cy="76.6" r="2.9" fill="#e02a2a"/>
<circle cx="568.2" cy="70.8" r="2.9" fill="#e02a2a"/>
<circle cx="441.8" cy="180.6" r="2.9" fill="#e02a2a"/>
<circle cx="483.9" cy="167.2" r="2.9" fill="#f29494"/>
<circle cx="496.4" cy="154.2" r="2.9" fill="#f29494"/>
<circle cx="493.1" cy="158.1" r="2.9" fill="#f29494"/>
<circle cx="473.0" cy="181.4" r="2.9" fill="#f29494"/>
<circle cx="475.7" cy="142.8" r="2.9" fill="#f29494"/>
<circle cx="568.2" cy="71.3" r="2.9" fill="#f29494"/>
<circle cx="461.6" cy="146.3" r="2.9" fill="#f29494"/>
<circle cx="455.4" cy="163.8" r="2.9" fill="#f29494"/>
<circle cx="485.3" cy="133.7" r="2.9" fill="#f29494"/>
<circle cx="524.2" cy="100.8" r="2.9" fill="#f29494"/>
<circle cx="452.8" cy="167.9" r="2.9" fill="#f29494"/>
<circle cx="465.2" cy="153.0" r="2.9" fill="#f29494"/>
<circle cx="473.9" cy="174.8" r="2.9" fill="#f29494"/>
<circle cx="543.0" cy="102.2" r="2.9" fill="#f29494"/>
<circle cx="466.3" cy="178.7" r="2.9" fill="#f29494"/>
<circle cx="482.3" cy="133.9" r="2.9" fill="#f29494"/>
<circle cx="488.1" cy="123.0" r="2.9" fill="#f29494"/>
<circle cx="533.8" cy="114.6" r="2.9" fill="#f29494"/>
<circle cx="508.1" cy="112.3" r="2.9" fill="#f29494"/>
<circle cx="490.6" cy="125.9" r="2.9" fill="#f29494"/>
<circle cx="506.6" cy="143.0" r="2.9" fill="#f29494"/>
<circle cx="516.0" cy="134.9" r="2.9" fill="#f29494"/>
<circle cx="525.1" cy="97.4" r="2.9" fill="#f29494"/>
<circle cx="487.8" cy="129.2" r="2.9" fill="#f29494"/>
<circle cx="520.3" cy="130.9" r="2.9" fill="#f29494"/>
<circle cx="516.2" cy="135.0" r="2.9" fill="#f29494"/>
<circle cx="551.6" cy="93.3" r="2.9" fill="#f29494"/>
<circle cx="530.4" cy="93.4" r="2.9" fill="#f29494"/>
<circle cx="508.2" cy="111.7" r="2.9" fill="#f29494"/>
<circle cx="478.9" cy="138.4" r="2.9" fill="#f29494"/>
<circle cx="458.7" cy="185.9" r="2.9" fill="#f29494"/>
<circle cx="457.8" cy="162.6" r="2.9" fill="#f29494"/>
<circle cx="517.3" cy="132.8" r="2.9" fill="#f29494"/>
<circle cx="495.0" cy="153.6" r="2.9" fill="#f29494"/>
<circle cx="486.5" cy="161.5" r="2.9" fill="#f29494"/>
<circle cx="475.9" cy="136.6" r="2.9" fill="#f29494"/>
<circle cx="571.9" cy="60.9" r="2.9" fill="#f29494"/>
<circle cx="431.0" cy="207.5" r="2.9" fill="#f29494"/>
<circle cx="555.5" cy="81.4" r="2.9" fill="#f29494"/>
<circle cx="558.4" cy="84.0" r="2.9" fill="#f29494"/>
<circle cx="499.6" cy="149.8" r="2.9" fill="#8a4ad8"/>
<circle cx="529.4" cy="117.8" r="2.9" fill="#8a4ad8"/>
<circle cx="492.1" cy="156.4" r="2.9" fill="#8a4ad8"/>
<circle cx="525.1" cy="128.6" r="2.9" fill="#8a4ad8"/>
<circle cx="504.7" cy="145.6" r="2.9" fill="#8a4ad8"/>
<circle cx="528.1" cy="120.6" r="2.9" fill="#8a4ad8"/>
<circle cx="469.8" cy="146.6" r="2.9" fill="#8a4ad8"/>
<circle cx="534.7" cy="114.8" r="2.9" fill="#8a4ad8"/>
<circle cx="529.3" cy="97.3" r="2.9" fill="#8a4ad8"/>
<circle cx="454.0" cy="167.9" r="2.9" fill="#8a4ad8"/>
<circle cx="467.6" cy="151.4" r="2.9" fill="#8a4ad8"/>
<circle cx="515.7" cy="106.6" r="2.9" fill="#8a4ad8"/>
<circle cx="494.0" cy="125.4" r="2.9" fill="#8a4ad8"/>
<circle cx="487.1" cy="131.5" r="2.9" fill="#8a4ad8"/>
<circle cx="487.3" cy="162.7" r="2.9" fill="#8a4ad8"/>
<circle cx="498.6" cy="119.6" r="2.9" fill="#8a4ad8"/>
<circle cx="483.3" cy="135.6" r="2.9" fill="#8a4ad8"/>
<circle cx="472.8" cy="144.0" r="2.9" fill="#8a4ad8"/>
<circle cx="447.7" cy="187.7" r="2.9" fill="#8a4ad8"/>
<circle cx="437.6" cy="201.1" r="2.9" fill="#8a4ad8"/>
<circle cx="422.0" cy="212.7" r="2.9" fill="#8a4ad8"/>
<circle cx="430.1" cy="202.9" r="2.9" fill="#8a4ad8"/>
<circle cx="565.9" cy="75.8" r="2.9" fill="#8a4ad8"/>
<circle cx="559.5" cy="69.5" r="2.9" fill="#8a4ad8"/>
<circle cx="518.4" cy="95.4" r="2.9" fill="#c282f2"/>
<circle cx="449.4" cy="172.5" r="2.9" fill="#c282f2"/>
<circle cx="474.4" cy="140.7" r="2.9" fill="#c282f2"/>
<circle cx="512.3" cy="138.4" r="2.9" fill="#c282f2"/>
<circle cx="546.5" cy="97.9" r="2.9" fill="#c282f2"/>
<circle cx="500.6" cy="111.7" r="2.9" fill="#c282f2"/>
<circle cx="421.7" cy="198.8" r="2.9" fill="#c282f2"/>
<circle cx="510.2" cy="107.8" r="2.9" fill="#c282f2"/>
<circle cx="495.7" cy="123.5" r="2.9" fill="#c282f2"/>
<circle cx="499.1" cy="153.9" r="2.9" fill="#c282f2"/>
<circle cx="457.1" cy="163.3" r="2.9" fill="#c282f2"/>
<circle cx="522.4" cy="128.5" r="2.9" fill="#c282f2"/>
<circle cx="481.0" cy="135.0" r="2.9" fill="#c282f2"/>
<circle cx="428.1" cy="205.6" r="2.9" fill="#c282f2"/>
<circle cx="501.7" cy="148.1" r="2.9" fill="#c282f2"/>
<circle cx="516.3" cy="132.8" r="2.9" fill="#c282f2"/>
<circle cx="510.9" cy="111.2" r="2.9" fill="#c282f2"/>
<circle cx="461.4" cy="159.2" r="2.9" fill="#c282f2"/>
<circle cx="500.3" cy="154.1" r="2.9" fill="#c282f2"/>
<circle cx="503.8" cy="115.5" r="2.9" fill="#c282f2"/>
<circle cx="497.4" cy="118.9" r="2.9" fill="#c282f2"/>
<circle cx="463.4" cy="190.9" r="2.9" fill="#c282f2"/>
<circle cx="545.4" cy="102.4" r="2.9" fill="#c282f2"/>
<circle cx="480.2" cy="136.7" r="2.9" fill="#c282f2"/>
<circle cx="463.3" cy="181.3" r="2.9" fill="#c282f2"/>
<circle cx="470.3" cy="145.3" r="2.9" fill="#c282f2"/>
<circle cx="470.2" cy="148.8" r="2.9" fill="#c282f2"/>
<circle cx="517.1" cy="139.5" r="2.9" fill="#c282f2"/>
<circle cx="502.8" cy="146.3" r="2.9" fill="#c282f2"/>
<circle cx="466.0" cy="177.7" r="2.9" fill="#c282f2"/>
<circle cx="445.3" cy="185.9" r="2.9" fill="#c282f2"/>
<circle cx="448.2" cy="181.2" r="2.9" fill="#c282f2"/>
<circle cx="576.7" cy="67.4" r="2.9" fill="#c282f2"/>
<circle cx="574.8" cy="65.7" r="2.9" fill="#c282f2"/>
<circle cx="434.7" cy="198.2" r="2.9" fill="#9a4a3a"/>
<circle cx="495.8" cy="155.2" r="2.9" fill="#9a4a3a"/>
<circle cx="468.4" cy="176.3" r="2.9" fill="#9a4a3a"/>
<circle cx="517.4" cy="136.1" r="2.9" fill="#9a4a3a"/>
<circle cx="527.3" cy="121.3" r="2.9" fill="#9a4a3a"/>
<circle cx="516.6" cy="133.7" r="2.9" fill="#9a4a3a"/>
<circle cx="480.3" cy="169.9" r="2.9" fill="#9a4a3a"/>
<circle cx="539.3" cy="107.1" r="2.9" fill="#9a4a3a"/>
<circle cx="474.5" cy="144.5" r="2.9" fill="#9a4a3a"/>
<circle cx="472.4" cy="174.0" r="2.9" fill="#9a4a3a"/>
<circle cx="478.1" cy="138.7" r="2.9" fill="#9a4a3a"/>
<circle cx="504.6" cy="115.4" r="2.9" fill="#9a4a3a"/>
<circle cx="438.9" cy="187.7" r="2.9" fill="#9a4a3a"/>
<circle cx="521.0" cy="128.0" r="2.9" fill="#9a4a3a"/>
<circle cx="506.0" cy="146.6" r="2.9" fill="#9a4a3a"/>
<circle cx="465.5" cy="154.0" r="2.9" fill="#9a4a3a"/>
<circle cx="542.8" cy="101.8" r="2.9" fill="#9a4a3a"/>
<circle cx="499.4" cy="117.5" r="2.9" fill="#9a4a3a"/>
<circle cx="516.2" cy="102.8" r="2.9" fill="#9a4a3a"/>
<circle cx="433.1" cy="190.9" r="2.9" fill="#9a4a3a"/>
<circle cx="517.0" cy="104.9" r="2.9" fill="#9a4a3a"/>
<circle cx="513.2" cy="109.3" r="2.9" fill="#9a4a3a"/>
<circle cx="511.8" cy="107.3" r="2.9" fill="#9a4a3a"/>
<circle cx="475.4" cy="143.7" r="2.9" fill="#9a4a3a"/>
<circle cx="442.3" cy="193.8" r="2.9" fill="#9a4a3a"/>
<circle cx="445.5" cy="179.2" r="2.9" fill="#9a4a3a"/>
<circle cx="506.1" cy="114.8" r="2.9" fill="#9a4a3a"/>
<circle cx="528.0" cy="121.7" r="2.9" fill="#9a4a3a"/>
<circle cx="518.3" cy="135.4" r="2.9" fill="#9a4a3a"/>
<circle cx="489.7" cy="166.3" r="2.9" fill="#9a4a3a"/>
<circle cx="444.7" cy="166.2" r="2.9" fill="#9a4a3a"/>
<circle cx="529.7" cy="117.5" r="2.9" fill="#9a4a3a"/>
<circle cx="482.9" cy="133.9" r="2.9" fill="#9a4a3a"/>
<circle cx="511.9" cy="108.7" r="2.9" fill="#9a4a3a"/>
<circle cx="523.1" cy="100.7" r="2.9" fill="#9a4a3a"/>
<circle cx="441.2" cy="178.6" r="2.9" fill="#9a4a3a"/>
<circle cx="476.2" cy="171.0" r="2.9" fill="#9a4a3a"/>
<circle cx="517.9" cy="136.5" r="2.9" fill="#9a4a3a"/>
<circle cx="466.9" cy="187.0" r="2.9" fill="#9a4a3a"/>
<circle cx="454.3" cy="156.8" r="2.9" fill="#9a4a3a"/>
<circle cx="540.1" cy="87.4" r="2.9" fill="#9a4a3a"/>
<circle cx="499.9" cy="150.0" r="2.9" fill="#9a4a3a"/>
<circle cx="534.6" cy="112.8" r="2.9" fill="#9a4a3a"/>
<circle cx="516.1" cy="135.7" r="2.9" fill="#9a4a3a"/>
<circle cx="512.5" cy="144.2" r="2.9" fill="#9a4a3a"/>
<circle cx="465.9" cy="152.2" r="2.9" fill="#9a4a3a"/>
<circle cx="516.8" cy="132.2" r="2.9" fill="#9a4a3a"/>
<circle cx="501.7" cy="114.7" r="2.9" fill="#9a4a3a"/>
<circle cx="526.1" cy="125.4" r="2.9" fill="#9a4a3a"/>
<circle cx="525.5" cy="126.1" r="2.9" fill="#9a4a3a"/>
<circle cx="502.4" cy="159.7" r="2.9" fill="#9a4a3a"/>
<circle cx="507.3" cy="143.1" r="2.9" fill="#9a4a3a"/>
<circle cx="482.8" cy="168.2" r="2.9" fill="#9a4a3a"/>
<circle cx="450.8" cy="170.0" r="2.9" fill="#9a4a3a"/>
<circle cx="512.5" cy="150.1" r="2.9" fill="#9a4a3a"/>
<circle cx="468.9" cy="151.0" r="2.9" fill="#9a4a3a"/>
<circle cx="523.3" cy="131.0" r="2.9" fill="#9a4a3a"/>
<circle cx="520.2" cy="131.0" r="2.9" fill="#9a4a3a"/>
<circle cx="451.4" cy="166.4" r="2.9" fill="#9a4a3a"/>
<circle cx="466.3" cy="153.1" r="2.9" fill="#9a4a3a"/>
<circle cx="507.9" cy="149.1" r="2.9" fill="#9a4a3a"/>
<circle cx="454.0" cy="186.4" r="2.9" fill="#9a4a3a"/>
<circle cx="515.4" cy="133.8" r="2.9" fill="#9a4a3a"/>
<circle cx="495.3" cy="119.4" r="2.9" fill="#9a4a3a"/>
<circle cx="482.7" cy="124.5" r="2.9" fill="#9a4a3a"/>
<circle cx="475.5" cy="181.0" r="2.9" fill="#9a4a3a"/>
<circle cx="438.5" cy="190.3" r="2.9" fill="#9a4a3a"/>
<circle cx="558.8" cy="83.2" r="2.9" fill="#9a4a3a"/>
<circle cx="555.1" cy="85.8" r="2.9" fill="#9a4a3a"/>
<circle cx="572.8" cy="66.5" r="2.9" fill="#9a4a3a"/>
<circle cx="432.1" cy="196.0" r="2.9" fill="#9a4a3a"/>
<circle cx="554.6" cy="80.5" r="2.9" fill="#9a4a3a"/>
<circle cx="555.7" cy="80.5" r="2.9" fill="#9a4a3a"/>
<circle cx="569.0" cy="66.7" r="2.9" fill="#9a4a3a"/>
<circle cx="439.2" cy="192.0" r="2.9" fill="#9a4a3a"/>
<circle cx="521.6" cy="126.9" r="2.9" fill="#da8262"/>
<circle cx="492.0" cy="123.3" r="2.9" fill="#da8262"/>
<circle cx="549.5" cy="93.1" r="2.9" fill="#da8262"/>
<circle cx="506.7" cy="143.4" r="2.9" fill="#da8262"/>
<circle cx="503.3" cy="151.6" r="2.9" fill="#da8262"/>
<circle cx="441.6" cy="183.3" r="2.9" fill="#da8262"/>
<circle cx="534.4" cy="90.0" r="2.9" fill="#da8262"/>
<circle cx="463.4" cy="147.5" r="2.9" fill="#da8262"/>
<circle cx="539.0" cy="118.0" r="2.9" fill="#da8262"/>
<circle cx="487.1" cy="124.4" r="2.9" fill="#da8262"/>
<circle cx="495.8" cy="112.8" r="2.9" fill="#da8262"/>
<circle cx="446.5" cy="168.2" r="2.9" fill="#da8262"/>
<circle cx="477.9" cy="169.4" r="2.9" fill="#da8262"/>
<circle cx="544.8" cy="99.5" r="2.9" fill="#da8262"/>
<circle cx="486.4" cy="130.8" r="2.9" fill="#da8262"/>
<circle cx="465.0" cy="155.4" r="2.9" fill="#da8262"/>
<circle cx="485.9" cy="126.9" r="2.9" fill="#da8262"/>
<circle cx="444.8" cy="166.8" r="2.9" fill="#da8262"/>
<circle cx="520.0" cy="132.7" r="2.9" fill="#da8262"/>
<circle cx="539.8" cy="113.1" r="2.9" fill="#da8262"/>
<circle cx="496.5" cy="159.0" r="2.9" fill="#da8262"/>
<circle cx="500.9" cy="148.8" r="2.9" fill="#da8262"/>
<circle cx="494.7" cy="157.7" r="2.9" fill="#da8262"/>
<circle cx="518.3" cy="135.5" r="2.9" fill="#da8262"/>
<circle cx="519.9" cy="104.0" r="2.9" fill="#da8262"/>
<circle cx="484.2" cy="164.4" r="2.9" fill="#da8262"/>
<circle cx="489.5" cy="159.0" r="2.9" fill="#da8262"/>
<circle cx="509.0" cy="112.6" r="2.9" fill="#da8262"/>
<circle cx="480.1" cy="137.4" r="2.9" fill="#da8262"/>
<circle cx="530.4" cy="87.5" r="2.9" fill="#da8262"/>
<circle cx="505.7" cy="153.9" r="2.9" fill="#da8262"/>
<circle cx="472.5" cy="183.4" r="2.9" fill="#da8262"/>
<circle cx="441.7" cy="184.3" r="2.9" fill="#da8262"/>
<circle cx="508.4" cy="141.8" r="2.9" fill="#da8262"/>
<circle cx="502.2" cy="148.0" r="2.9" fill="#da8262"/>
<circle cx="493.7" cy="157.4" r="2.9" fill="#da8262"/>
<circle cx="561.4" cy="70.9" r="2.9" fill="#da8262"/>
<circle cx="504.8" cy="110.3" r="2.9" fill="#da8262"/>
<circle cx="521.1" cy="130.0" r="2.9" fill="#da8262"/>
<circle cx="500.5" cy="148.5" r="2.9" fill="#da8262"/>
<circle cx="551.5" cy="81.2" r="2.9" fill="#da8262"/>
<circle cx="521.4" cy="131.8" r="2.9" fill="#da8262"/>
<circle cx="518.8" cy="130.7" r="2.9" fill="#da8262"/>
<circle cx="465.1" cy="149.9" r="2.9" fill="#da8262"/>
<circle cx="516.7" cy="98.9" r="2.9" fill="#da8262"/>
<circle cx="439.2" cy="198.0" r="2.9" fill="#da8262"/>
<circle cx="493.5" cy="155.0" r="2.9" fill="#da8262"/>
<circle cx="458.5" cy="151.4" r="2.9" fill="#da8262"/>
<circle cx="524.7" cy="99.7" r="2.9" fill="#da8262"/>
<circle cx="459.1" cy="185.9" r="2.9" fill="#da8262"/>
<circle cx="557.2" cy="78.1" r="2.9" fill="#da8262"/>
<circle cx="494.3" cy="122.5" r="2.9" fill="#da8262"/>
<circle cx="508.4" cy="101.7" r="2.9" fill="#da8262"/>
<circle cx="490.4" cy="127.9" r="2.9" fill="#da8262"/>
<circle cx="550.3" cy="97.5" r="2.9" fill="#da8262"/>
<circle cx="445.2" cy="180.1" r="2.9" fill="#da8262"/>
<circle cx="444.3" cy="195.0" r="2.9" fill="#da8262"/>
<circle cx="545.4" cy="111.8" r="2.9" fill="#da8262"/>
<circle cx="446.6" cy="198.4" r="2.9" fill="#da8262"/>
<circle cx="439.9" cy="181.0" r="2.9" fill="#da8262"/>
<circle cx="443.8" cy="180.5" r="2.9" fill="#da8262"/>
<circle cx="421.7" cy="209.9" r="2.9" fill="#da8262"/>
<circle cx="482.8" cy="132.0" r="2.9" fill="#e656de"/>
<circle cx="515.9" cy="133.3" r="2.9" fill="#e656de"/>
<circle cx="508.6" cy="142.9" r="2.9" fill="#e656de"/>
<circle cx="509.6" cy="145.1" r="2.9" fill="#e656de"/>
<circle cx="476.4" cy="141.9" r="2.9" fill="#e656de"/>
<circle cx="523.8" cy="126.0" r="2.9" fill="#e656de"/>
<circle cx="500.6" cy="155.3" r="2.9" fill="#e656de"/>
<circle cx="542.9" cy="102.2" r="2.9" fill="#e656de"/>
<circle cx="500.7" cy="151.4" r="2.9" fill="#e656de"/>
<circle cx="489.7" cy="159.7" r="2.9" fill="#e656de"/>
<circle cx="527.7" cy="96.6" r="2.9" fill="#e656de"/>
<circle cx="446.3" cy="194.5" r="2.9" fill="#e656de"/>
<circle cx="504.0" cy="146.2" r="2.9" fill="#e656de"/>
<circle cx="520.1" cy="131.0" r="2.9" fill="#e656de"/>
<circle cx="484.9" cy="163.2" r="2.9" fill="#e656de"/>
<circle cx="486.1" cy="164.4" r="2.9" fill="#e656de"/>
<circle cx="516.5" cy="105.3" r="2.9" fill="#e656de"/>
<circle cx="530.2" cy="117.4" r="2.9" fill="#e656de"/>
<circle cx="499.4" cy="151.4" r="2.9" fill="#e656de"/>
<circle cx="534.0" cy="113.0" r="2.9" fill="#e656de"/>
<circle cx="506.8" cy="107.9" r="2.9" fill="#e656de"/>
<circle cx="488.7" cy="160.8" r="2.9" fill="#e656de"/>
<circle cx="493.0" cy="156.4" r="2.9" fill="#e656de"/>
<circle cx="522.1" cy="101.8" r="2.9" fill="#e656de"/>
<circle cx="480.0" cy="138.6" r="2.9" fill="#e656de"/>
<circle cx="462.6" cy="151.7" r="2.9" fill="#e656de"/>
<circle cx="448.0" cy="175.9" r="2.9" fill="#e656de"/>
<circle cx="492.9" cy="126.4" r="2.9" fill="#e656de"/>
<circle cx="468.7" cy="175.8" r="2.9" fill="#e656de"/>
<circle cx="492.7" cy="125.3" r="2.9" fill="#e656de"/>
<circle cx="531.4" cy="94.6" r="2.9" fill="#e656de"/>
<circle cx="457.6" cy="164.1" r="2.9" fill="#e656de"/>
<circle cx="509.0" cy="109.9" r="2.9" fill="#e656de"/>
<circle cx="536.1" cy="111.1" r="2.9" fill="#e656de"/>
<circle cx="537.1" cy="122.6" r="2.9" fill="#e656de"/>
<circle cx="494.8" cy="123.2" r="2.9" fill="#e656de"/>
<circle cx="491.8" cy="115.8" r="2.9" fill="#e656de"/>
<circle cx="521.7" cy="102.5" r="2.9" fill="#e656de"/>
<circle cx="460.7" cy="154.2" r="2.9" fill="#e656de"/>
<circle cx="506.5" cy="114.3" r="2.9" fill="#e656de"/>
<circle cx="530.3" cy="117.2" r="2.9" fill="#e656de"/>
<circle cx="436.9" cy="189.9" r="2.9" fill="#e656de"/>
<circle cx="520.0" cy="134.7" r="2.9" fill="#e656de"/>
<circle cx="513.5" cy="108.9" r="2.9" fill="#e656de"/>
<circle cx="484.7" cy="164.8" r="2.9" fill="#e656de"/>
<circle cx="508.4" cy="143.1" r="2.9" fill="#e656de"/>
<circle cx="537.6" cy="89.1" r="2.9" fill="#e656de"/>
<circle cx="474.8" cy="134.9" r="2.9" fill="#e656de"/>
<circle cx="484.1" cy="163.5" r="2.9" fill="#e656de"/>
<circle cx="443.1" cy="183.1" r="2.9" fill="#e656de"/>
<circle cx="425.9" cy="201.2" r="2.9" fill="#e656de"/>
<circle cx="442.1" cy="187.6" r="2.9" fill="#e656de"/>
<circle cx="424.5" cy="211.6" r="2.9" fill="#e656de"/>
<circle cx="575.3" cy="64.7" r="2.9" fill="#e656de"/>
<circle cx="436.8" cy="195.2" r="2.9" fill="#e656de"/>
<circle cx="504.7" cy="111.0" r="2.9" fill="#f2aad8"/>
<circle cx="466.4" cy="147.5" r="2.9" fill="#f2aad8"/>
<circle cx="566.5" cy="70.9" r="2.9" fill="#f2aad8"/>
<circle cx="453.6" cy="167.3" r="2.9" fill="#f2aad8"/>
<circle cx="556.3" cy="83.0" r="2.9" fill="#f2aad8"/>
<circle cx="487.9" cy="131.3" r="2.9" fill="#f2aad8"/>
<circle cx="511.9" cy="107.2" r="2.9" fill="#f2aad8"/>
<circle cx="523.2" cy="125.3" r="2.9" fill="#f2aad8"/>
<circle cx="502.5" cy="109.9" r="2.9" fill="#f2aad8"/>
<circle cx="526.1" cy="97.1" r="2.9" fill="#f2aad8"/>
<circle cx="511.8" cy="109.8" r="2.9" fill="#f2aad8"/>
<circle cx="524.9" cy="136.3" r="2.9" fill="#f2aad8"/>
<circle cx="485.3" cy="132.8" r="2.9" fill="#f2aad8"/>
<circle cx="463.3" cy="155.5" r="2.9" fill="#f2aad8"/>
<circle cx="531.9" cy="115.5" r="2.9" fill="#f2aad8"/>
<circle cx="436.9" cy="191.8" r="2.9" fill="#f2aad8"/>
<circle cx="460.7" cy="157.6" r="2.9" fill="#f2aad8"/>
<circle cx="479.1" cy="139.8" r="2.9" fill="#f2aad8"/>
<circle cx="527.1" cy="121.1" r="2.9" fill="#f2aad8"/>
<circle cx="569.5" cy="72.6" r="2.9" fill="#f2aad8"/>
<circle cx="542.0" cy="112.1" r="2.9" fill="#f2aad8"/>
<circle cx="492.4" cy="122.5" r="2.9" fill="#f2aad8"/>
<circle cx="486.8" cy="128.7" r="2.9" fill="#f2aad8"/>
<circle cx="511.6" cy="140.0" r="2.9" fill="#f2aad8"/>
<circle cx="487.3" cy="131.9" r="2.9" fill="#f2aad8"/>
<circle cx="477.3" cy="141.2" r="2.9" fill="#f2aad8"/>
<circle cx="420.4" cy="206.1" r="2.9" fill="#f2aad8"/>
<circle cx="426.2" cy="205.8" r="2.9" fill="#f2aad8"/>
<circle cx="442.5" cy="169.1" r="2.9" fill="#f2aad8"/>
<circle cx="514.3" cy="108.3" r="2.9" fill="#f2aad8"/>
<circle cx="466.9" cy="151.6" r="2.9" fill="#f2aad8"/>
<circle cx="503.7" cy="147.7" r="2.9" fill="#f2aad8"/>
<circle cx="529.9" cy="120.1" r="2.9" fill="#f2aad8"/>
<circle cx="537.6" cy="109.3" r="2.9" fill="#f2aad8"/>
<circle cx="526.7" cy="98.5" r="2.9" fill="#f2aad8"/>
<circle cx="513.2" cy="100.5" r="2.9" fill="#f2aad8"/>
<circle cx="448.2" cy="170.8" r="2.9" fill="#f2aad8"/>
<circle cx="520.8" cy="131.9" r="2.9" fill="#f2aad8"/>
<circle cx="552.8" cy="88.9" r="2.9" fill="#f2aad8"/>
<circle cx="506.6" cy="143.9" r="2.9" fill="#f2aad8"/>
<circle cx="457.3" cy="159.4" r="2.9" fill="#f2aad8"/>
<circle cx="567.0" cy="80.7" r="2.9" fill="#f2aad8"/>
<circle cx="474.6" cy="144.8" r="2.9" fill="#f2aad8"/>
<circle cx="476.7" cy="141.5" r="2.9" fill="#f2aad8"/>
<circle cx="458.4" cy="149.9" r="2.9" fill="#f2aad8"/>
<circle cx="497.0" cy="122.7" r="2.9" fill="#f2aad8"/>
<circle cx="536.2" cy="112.6" r="2.9" fill="#f2aad8"/>
<circle cx="517.0" cy="133.2" r="2.9" fill="#f2aad8"/>
<circle cx="497.2" cy="157.2" r="2.9" fill="#f2aad8"/>
<circle cx="552.8" cy="81.4" r="2.9" fill="#f2aad8"/>
<circle cx="557.2" cy="79.8" r="2.9" fill="#f2aad8"/>
<circle cx="441.9" cy="190.6" r="2.9" fill="#f2aad8"/>
<circle cx="564.3" cy="76.8" r="2.9" fill="#f2aad8"/>
<circle cx="484.7" cy="133.0" r="2.9" fill="#5a5a5a"/>
<circle cx="508.6" cy="145.1" r="2.9" fill="#5a5a5a"/>
<circle cx="482.9" cy="166.1" r="2.9" fill="#5a5a5a"/>
<circle cx="480.6" cy="170.9" r="2.9" fill="#5a5a5a"/>
<circle cx="480.4" cy="138.4" r="2.9" fill="#5a5a5a"/>
<circle cx="499.4" cy="120.6" r="2.9" fill="#5a5a5a"/>
<circle cx="451.7" cy="170.2" r="2.9" fill="#5a5a5a"/>
<circle cx="514.2" cy="137.7" r="2.9" fill="#5a5a5a"/>
<circle cx="512.7" cy="137.7" r="2.9" fill="#5a5a5a"/>
<circle cx="478.7" cy="170.1" r="2.9" fill="#5a5a5a"/>
<circle cx="517.9" cy="131.0" r="2.9" fill="#5a5a5a"/>
<circle cx="452.2" cy="170.5" r="2.9" fill="#5a5a5a"/>
<circle cx="559.1" cy="84.1" r="2.9" fill="#5a5a5a"/>
<circle cx="567.7" cy="70.1" r="2.9" fill="#5a5a5a"/>
<circle cx="445.2" cy="192.2" r="2.9" fill="#5a5a5a"/>
<circle cx="438.7" cy="194.1" r="2.9" fill="#5a5a5a"/>
<circle cx="421.1" cy="214.4" r="2.9" fill="#5a5a5a"/>
<circle cx="499.6" cy="118.8" r="2.9" fill="#c6c6c6"/>
<circle cx="518.6" cy="130.4" r="2.9" fill="#c6c6c6"/>
<circle cx="537.2" cy="111.5" r="2.9" fill="#c6c6c6"/>
<circle cx="495.6" cy="153.3" r="2.9" fill="#c6c6c6"/>
<circle cx="479.9" cy="137.4" r="2.9" fill="#c6c6c6"/>
<circle cx="530.8" cy="118.1" r="2.9" fill="#c6c6c6"/>
<circle cx="461.9" cy="157.6" r="2.9" fill="#c6c6c6"/>
<circle cx="507.5" cy="110.2" r="2.9" fill="#c6c6c6"/>
<circle cx="538.9" cy="88.8" r="2.9" fill="#c6c6c6"/>
<circle cx="477.6" cy="136.1" r="2.9" fill="#c6c6c6"/>
<circle cx="454.2" cy="167.9" r="2.9" fill="#c6c6c6"/>
<circle cx="503.5" cy="145.8" r="2.9" fill="#c6c6c6"/>
<circle cx="508.9" cy="112.0" r="2.9" fill="#c6c6c6"/>
<circle cx="463.0" cy="155.7" r="2.9" fill="#c6c6c6"/>
<circle cx="500.1" cy="151.4" r="2.9" fill="#c6c6c6"/>
<circle cx="450.2" cy="172.4" r="2.9" fill="#c6c6c6"/>
<circle cx="474.3" cy="143.8" r="2.9" fill="#c6c6c6"/>
<circle cx="497.1" cy="153.5" r="2.9" fill="#c6c6c6"/>
<circle cx="535.5" cy="91.3" r="2.9" fill="#c6c6c6"/>
<circle cx="560.6" cy="78.9" r="2.9" fill="#c6c6c6"/>
<circle cx="574.2" cy="62.7" r="2.9" fill="#c6c6c6"/>
<circle cx="431.5" cy="199.7" r="2.9" fill="#c6c6c6"/>
<circle cx="530.4" cy="120.8" r="2.9" fill="#b8c22c"/>
<circle cx="469.4" cy="177.3" r="2.9" fill="#b8c22c"/>
<circle cx="471.9" cy="173.5" r="2.9" fill="#b8c22c"/>
<circle cx="492.8" cy="123.2" r="2.9" fill="#b8c22c"/>
<circle cx="471.1" cy="176.6" r="2.9" fill="#b8c22c"/>
<circle cx="535.5" cy="110.6" r="2.9" fill="#b8c22c"/>
<circle cx="503.8" cy="147.3" r="2.9" fill="#b8c22c"/>
<circle cx="484.0" cy="134.7" r="2.9" fill="#b8c22c"/>
<circle cx="440.0" cy="185.2" r="2.9" fill="#b8c22c"/>
<circle cx="435.2" cy="192.4" r="2.9" fill="#b8c22c"/>
<circle cx="512.0" cy="139.3" r="2.9" fill="#b8c22c"/>
<circle cx="526.7" cy="98.8" r="2.9" fill="#b8c22c"/>
<circle cx="436.4" cy="192.9" r="2.9" fill="#b8c22c"/>
<circle cx="474.8" cy="141.3" r="2.9" fill="#b8c22c"/>
<circle cx="487.4" cy="131.8" r="2.9" fill="#b8c22c"/>
<circle cx="521.0" cy="130.1" r="2.9" fill="#b8c22c"/>
<circle cx="491.8" cy="127.1" r="2.9" fill="#b8c22c"/>
<circle cx="470.6" cy="147.1" r="2.9" fill="#b8c22c"/>
<circle cx="498.9" cy="152.6" r="2.9" fill="#b8c22c"/>
<circle cx="477.6" cy="139.5" r="2.9" fill="#b8c22c"/>
<circle cx="512.4" cy="108.5" r="2.9" fill="#b8c22c"/>
<circle cx="513.8" cy="107.6" r="2.9" fill="#b8c22c"/>
<circle cx="427.5" cy="204.0" r="2.9" fill="#b8c22c"/>
<circle cx="448.3" cy="171.6" r="2.9" fill="#b8c22c"/>
<circle cx="469.6" cy="149.4" r="2.9" fill="#b8c22c"/>
<circle cx="459.5" cy="184.5" r="2.9" fill="#b8c22c"/>
<circle cx="516.4" cy="103.5" r="2.9" fill="#b8c22c"/>
<circle cx="510.3" cy="108.5" r="2.9" fill="#b8c22c"/>
<circle cx="509.0" cy="140.5" r="2.9" fill="#b8c22c"/>
<circle cx="485.3" cy="162.7" r="2.9" fill="#b8c22c"/>
<circle cx="483.8" cy="134.5" r="2.9" fill="#b8c22c"/>
<circle cx="501.3" cy="118.1" r="2.9" fill="#b8c22c"/>
<circle cx="453.2" cy="168.6" r="2.9" fill="#b8c22c"/>
<circle cx="523.5" cy="101.1" r="2.9" fill="#b8c22c"/>
<circle cx="482.6" cy="131.4" r="2.9" fill="#b8c22c"/>
<circle cx="523.9" cy="97.9" r="2.9" fill="#b8c22c"/>
<circle cx="508.3" cy="144.5" r="2.9" fill="#b8c22c"/>
<circle cx="481.8" cy="136.4" r="2.9" fill="#b8c22c"/>
<circle cx="534.0" cy="117.4" r="2.9" fill="#b8c22c"/>
<circle cx="492.7" cy="125.4" r="2.9" fill="#b8c22c"/>
<circle cx="429.6" cy="204.0" r="2.9" fill="#b8c22c"/>
<circle cx="562.9" cy="73.8" r="2.9" fill="#b8c22c"/>
<circle cx="427.5" cy="206.4" r="2.9" fill="#b8c22c"/>
<circle cx="521.0" cy="102.9" r="2.9" fill="#dfe86a"/>
<circle cx="526.6" cy="123.1" r="2.9" fill="#dfe86a"/>
<circle cx="494.9" cy="155.8" r="2.9" fill="#dfe86a"/>
<circle cx="466.8" cy="179.5" r="2.9" fill="#dfe86a"/>
<circle cx="532.0" cy="115.2" r="2.9" fill="#dfe86a"/>
<circle cx="538.6" cy="107.3" r="2.9" fill="#dfe86a"/>
<circle cx="529.4" cy="120.0" r="2.9" fill="#dfe86a"/>
<circle cx="466.0" cy="152.5" r="2.9" fill="#dfe86a"/>
<circle cx="525.9" cy="124.9" r="2.9" fill="#dfe86a"/>
<circle cx="470.9" cy="174.1" r="2.9" fill="#dfe86a"/>
<circle cx="471.2" cy="144.8" r="2.9" fill="#dfe86a"/>
<circle cx="461.0" cy="184.8" r="2.9" fill="#dfe86a"/>
<circle cx="488.7" cy="159.3" r="2.9" fill="#dfe86a"/>
<circle cx="529.6" cy="118.8" r="2.9" fill="#dfe86a"/>
<circle cx="532.3" cy="118.2" r="2.9" fill="#dfe86a"/>
<circle cx="457.5" cy="162.3" r="2.9" fill="#dfe86a"/>
<circle cx="484.5" cy="165.8" r="2.9" fill="#dfe86a"/>
<circle cx="499.4" cy="149.9" r="2.9" fill="#dfe86a"/>
<circle cx="479.5" cy="139.3" r="2.9" fill="#dfe86a"/>
<circle cx="488.3" cy="159.5" r="2.9" fill="#dfe86a"/>
<circle cx="531.5" cy="116.4" r="2.9" fill="#dfe86a"/>
<circle cx="462.6" cy="153.8" r="2.9" fill="#dfe86a"/>
<circle cx="481.4" cy="135.6" r="2.9" fill="#dfe86a"/>
<circle cx="471.0" cy="146.3" r="2.9" fill="#dfe86a"/>
<circle cx="477.9" cy="168.5" r="2.9" fill="#dfe86a"/>
<circle cx="498.8" cy="120.1" r="2.9" fill="#dfe86a"/>
<circle cx="441.3" cy="183.6" r="2.9" fill="#dfe86a"/>
<circle cx="482.6" cy="133.4" r="2.9" fill="#dfe86a"/>
<circle cx="474.9" cy="141.9" r="2.9" fill="#dfe86a"/>
<circle cx="498.5" cy="121.3" r="2.9" fill="#dfe86a"/>
<circle cx="517.5" cy="134.0" r="2.9" fill="#dfe86a"/>
<circle cx="445.7" cy="175.9" r="2.9" fill="#dfe86a"/>
<circle cx="533.3" cy="114.1" r="2.9" fill="#dfe86a"/>
<circle cx="471.3" cy="175.7" r="2.9" fill="#dfe86a"/>
<circle cx="511.7" cy="109.6" r="2.9" fill="#dfe86a"/>
<circle cx="474.1" cy="141.4" r="2.9" fill="#dfe86a"/>
<circle cx="454.4" cy="167.0" r="2.9" fill="#dfe86a"/>
<circle cx="487.7" cy="166.1" r="2.9" fill="#dfe86a"/>
<circle cx="475.6" cy="170.2" r="2.9" fill="#dfe86a"/>
<circle cx="489.2" cy="160.1" r="2.9" fill="#dfe86a"/>
<circle cx="474.7" cy="175.6" r="2.9" fill="#dfe86a"/>
<circle cx="501.4" cy="118.5" r="2.9" fill="#dfe86a"/>
<circle cx="480.1" cy="170.8" r="2.9" fill="#dfe86a"/>
<circle cx="461.1" cy="158.0" r="2.9" fill="#dfe86a"/>
<circle cx="533.9" cy="115.3" r="2.9" fill="#dfe86a"/>
<circle cx="470.7" cy="148.0" r="2.9" fill="#dfe86a"/>
<circle cx="555.4" cy="80.1" r="2.9" fill="#dfe86a"/>
<circle cx="541.4" cy="107.8" r="2.9" fill="#dfe86a"/>
<circle cx="558.7" cy="80.5" r="2.9" fill="#dfe86a"/>
<circle cx="512.9" cy="136.4" r="2.9" fill="#dfe86a"/>
<circle cx="486.3" cy="162.9" r="2.9" fill="#dfe86a"/>
<circle cx="462.7" cy="155.7" r="2.9" fill="#dfe86a"/>
<circle cx="503.5" cy="117.1" r="2.9" fill="#dfe86a"/>
<circle cx="504.8" cy="148.8" r="2.9" fill="#dfe86a"/>
<circle cx="509.0" cy="141.2" r="2.9" fill="#dfe86a"/>
<circle cx="491.8" cy="123.3" r="2.9" fill="#dfe86a"/>
<circle cx="461.6" cy="180.7" r="2.9" fill="#dfe86a"/>
<circle cx="525.7" cy="122.6" r="2.9" fill="#dfe86a"/>
<circle cx="470.2" cy="149.5" r="2.9" fill="#dfe86a"/>
<circle cx="502.1" cy="114.2" r="2.9" fill="#dfe86a"/>
<circle cx="484.2" cy="134.0" r="2.9" fill="#dfe86a"/>
<circle cx="472.7" cy="146.9" r="2.9" fill="#dfe86a"/>
<circle cx="477.2" cy="173.9" r="2.9" fill="#dfe86a"/>
<circle cx="460.9" cy="159.0" r="2.9" fill="#dfe86a"/>
<circle cx="476.0" cy="141.1" r="2.9" fill="#dfe86a"/>
<circle cx="467.1" cy="177.0" r="2.9" fill="#dfe86a"/>
<circle cx="529.6" cy="118.6" r="2.9" fill="#dfe86a"/>
<circle cx="481.4" cy="134.3" r="2.9" fill="#dfe86a"/>
<circle cx="453.4" cy="166.4" r="2.9" fill="#dfe86a"/>
<circle cx="484.2" cy="131.8" r="2.9" fill="#dfe86a"/>
<circle cx="438.1" cy="197.0" r="2.9" fill="#dfe86a"/>
<circle cx="483.4" cy="166.4" r="2.9" fill="#dfe86a"/>
<circle cx="466.6" cy="178.7" r="2.9" fill="#dfe86a"/>
<circle cx="537.4" cy="90.7" r="2.9" fill="#dfe86a"/>
<circle cx="445.7" cy="176.3" r="2.9" fill="#dfe86a"/>
<circle cx="483.1" cy="133.2" r="2.9" fill="#dfe86a"/>
<circle cx="511.8" cy="139.7" r="2.9" fill="#dfe86a"/>
<circle cx="569.2" cy="72.3" r="2.9" fill="#dfe86a"/>
<circle cx="531.5" cy="115.5" r="2.9" fill="#dfe86a"/>
<circle cx="557.0" cy="82.4" r="2.9" fill="#dfe86a"/>
<circle cx="504.0" cy="108.2" r="2.9" fill="#dfe86a"/>
<circle cx="427.9" cy="203.2" r="2.9" fill="#dfe86a"/>
<circle cx="436.3" cy="195.5" r="2.9" fill="#dfe86a"/>
<circle cx="504.0" cy="115.6" r="2.9" fill="#5ccfd2"/>
<circle cx="512.4" cy="139.7" r="2.9" fill="#5ccfd2"/>
<circle cx="539.1" cy="106.8" r="2.9" fill="#5ccfd2"/>
<circle cx="484.5" cy="134.0" r="2.9" fill="#5ccfd2"/>
<circle cx="535.6" cy="92.2" r="2.9" fill="#5ccfd2"/>
<circle cx="503.8" cy="145.5" r="2.9" fill="#5ccfd2"/>
<circle cx="509.6" cy="142.1" r="2.9" fill="#5ccfd2"/>
<circle cx="463.5" cy="155.8" r="2.9" fill="#5ccfd2"/>
<circle cx="457.6" cy="158.5" r="2.9" fill="#5ccfd2"/>
<circle cx="448.1" cy="172.5" r="2.9" fill="#5ccfd2"/>
<circle cx="496.7" cy="153.5" r="2.9" fill="#5ccfd2"/>
<circle cx="492.0" cy="126.4" r="2.9" fill="#5ccfd2"/>
<circle cx="524.3" cy="124.2" r="2.9" fill="#5ccfd2"/>
<circle cx="537.0" cy="88.2" r="2.9" fill="#5ccfd2"/>
<circle cx="491.4" cy="124.8" r="2.9" fill="#5ccfd2"/>
<circle cx="503.8" cy="116.8" r="2.9" fill="#5ccfd2"/>
<circle cx="455.2" cy="162.8" r="2.9" fill="#5ccfd2"/>
<circle cx="499.5" cy="120.0" r="2.9" fill="#5ccfd2"/>
<circle cx="493.1" cy="155.7" r="2.9" fill="#5ccfd2"/>
<circle cx="528.4" cy="122.0" r="2.9" fill="#5ccfd2"/>
<circle cx="500.9" cy="152.4" r="2.9" fill="#5ccfd2"/>
<circle cx="544.6" cy="86.8" r="2.9" fill="#5ccfd2"/>
<circle cx="497.2" cy="120.7" r="2.9" fill="#5ccfd2"/>
<circle cx="517.1" cy="101.8" r="2.9" fill="#5ccfd2"/>
<circle cx="517.8" cy="133.7" r="2.9" fill="#5ccfd2"/>
<circle cx="471.0" cy="146.4" r="2.9" fill="#5ccfd2"/>
<circle cx="536.9" cy="88.9" r="2.9" fill="#5ccfd2"/>
<circle cx="503.1" cy="117.7" r="2.9" fill="#5ccfd2"/>
<circle cx="567.1" cy="75.3" r="2.9" fill="#5ccfd2"/>
<circle cx="554.7" cy="85.2" r="2.9" fill="#5ccfd2"/>
<circle cx="433.4" cy="199.4" r="2.9" fill="#5ccfd2"/>
<circle cx="422.1" cy="216.3" r="2.9" fill="#5ccfd2"/>
</g>
<polygon points="429.9,201.5 431.1,199.6 432.4,197.6 433.7,195.7 434.9,193.7 436.2,191.8 437.5,189.9 438.8,188.0 440.1,186.1 441.5,184.2 442.8,182.3 444.1,180.4 445.5,178.6 446.9,176.7 448.2,174.9 449.6,173.1 451.0,171.3 452.4,169.5 453.8,167.7 455.3,165.9 456.7,164.1 458.1,162.3 459.6,160.6 461.1,158.8 462.5,157.1 464.0,155.4 465.5,153.7 467.0,152.0 468.5,150.3 470.0,148.6 471.6,146.9 473.1,145.3 474.7,143.6 476.2,142.0 477.8,140.4 479.4,138.7 481.0,137.1 482.6,135.5 484.2,133.9 485.8,132.4 487.4,130.8 489.1,129.2 490.7,127.7 492.4,126.2 494.1,124.6 495.7,123.1 497.4,121.6 499.1,120.1 500.8,118.6 502.6,117.1 504.3,115.7 506.0,114.2 507.8,112.8 509.5,111.3 511.3,109.9 513.1,108.5 514.9,107.1 516.7,105.7 518.5,104.3 520.3,102.9 522.1,101.6 523.9,100.2 525.8,98.9 527.6,97.5 529.5,96.2 531.4,94.9 533.3,93.6 535.2,92.3 537.1,91.0 539.0,89.7 540.9,88.5 542.8,87.2 544.8,86.0 546.7,84.7 548.7,83.5 550.6,82.3 552.6,81.1 554.6,79.9 556.6,78.7 558.6,77.5 560.6,76.4 560.6,76.4 559.4,78.3 558.1,80.3 556.9,82.2 555.6,84.2 554.3,86.1 553.0,88.0 551.7,89.9 550.4,91.8 549.0,93.7 547.7,95.6 546.3,97.4 545.0,99.3 543.6,101.1 542.2,103.0 540.9,104.8 539.5,106.6 538.1,108.4 536.6,110.2 535.2,112.0 533.8,113.8 532.3,115.5 530.9,117.3 529.4,119.0 528.0,120.8 526.5,122.5 525.0,124.2 523.5,125.9 522.0,127.6 520.4,129.3 518.9,130.9 517.4,132.6 515.8,134.3 514.3,135.9 512.7,137.5 511.1,139.2 509.5,140.8 507.9,142.4 506.3,144.0 504.7,145.5 503.1,147.1 501.4,148.7 499.8,150.2 498.1,151.8 496.5,153.3 494.8,154.8 493.1,156.3 491.4,157.8 489.7,159.3 488.0,160.8 486.3,162.3 484.5,163.7 482.8,165.2 481.0,166.6 479.3,168.0 477.5,169.5 475.7,170.9 473.9,172.3 472.1,173.6 470.3,175.0 468.5,176.4 466.6,177.7 464.8,179.1 462.9,180.4 461.1,181.8 459.2,183.1 457.3,184.4 455.4,185.7 453.5,186.9 451.6,188.2 449.7,189.5 447.7,190.7 445.8,192.0 443.8,193.2 441.9,194.4 439.9,195.6 437.9,196.8 435.9,198.0 433.9,199.2 431.9,200.4 429.9,201.5" fill="#8af5f2"/>
<g fill-opacity="0.75">
<circle cx="458.6" cy="164.5" r="2.9" fill="#8af5f2"/>
<circle cx="502.2" cy="120.9" r="2.9" fill="#8af5f2"/>
<circle cx="436.1" cy="195.7" r="2.9" fill="#8af5f2"/>
<circle cx="458.0" cy="164.8" r="2.9" fill="#8af5f2"/>
<circle cx="540.2" cy="104.0" r="2.9" fill="#8af5f2"/>
<circle cx="448.5" cy="175.2" r="2.9" fill="#8af5f2"/>
<circle cx="490.9" cy="128.8" r="2.9" fill="#8af5f2"/>
<circle cx="440.3" cy="187.8" r="2.9" fill="#8af5f2"/>
<circle cx="477.6" cy="168.9" r="2.9" fill="#8af5f2"/>
<circle cx="484.4" cy="134.3" r="2.9" fill="#8af5f2"/>
<circle cx="515.9" cy="108.4" r="2.9" fill="#8af5f2"/>
<circle cx="537.0" cy="109.4" r="2.9" fill="#8af5f2"/>
<circle cx="543.5" cy="97.2" r="2.9" fill="#8af5f2"/>
<circle cx="456.2" cy="167.1" r="2.9" fill="#8af5f2"/>
<circle cx="517.0" cy="130.9" r="2.9" fill="#8af5f2"/>
<circle cx="488.0" cy="159.2" r="2.9" fill="#8af5f2"/>
<circle cx="498.5" cy="121.9" r="2.9" fill="#8af5f2"/>
<circle cx="544.6" cy="86.1" r="2.9" fill="#8af5f2"/>
<circle cx="522.8" cy="126.1" r="2.9" fill="#8af5f2"/>
<circle cx="550.6" cy="83.7" r="2.9" fill="#8af5f2"/>
<circle cx="527.5" cy="120.6" r="2.9" fill="#8af5f2"/>
<circle cx="510.0" cy="136.5" r="2.9" fill="#8af5f2"/>
<circle cx="535.6" cy="95.0" r="2.9" fill="#8af5f2"/>
<circle cx="535.5" cy="107.9" r="2.9" fill="#8af5f2"/>
<circle cx="463.7" cy="156.2" r="2.9" fill="#8af5f2"/>
<circle cx="439.5" cy="191.7" r="2.9" fill="#8af5f2"/>
<circle cx="528.1" cy="120.1" r="2.9" fill="#8af5f2"/>
<circle cx="552.1" cy="81.4" r="2.9" fill="#8af5f2"/>
<circle cx="478.2" cy="167.5" r="2.9" fill="#8af5f2"/>
<circle cx="439.0" cy="194.3" r="2.9" fill="#8af5f2"/>
<circle cx="514.3" cy="132.0" r="2.9" fill="#8af5f2"/>
<circle cx="544.0" cy="100.4" r="2.9" fill="#8af5f2"/>
<circle cx="546.0" cy="95.4" r="2.9" fill="#8af5f2"/>
<circle cx="490.7" cy="129.3" r="2.9" fill="#8af5f2"/>
<circle cx="494.8" cy="124.1" r="2.9" fill="#8af5f2"/>
<circle cx="503.4" cy="145.8" r="2.9" fill="#8af5f2"/>
<circle cx="469.3" cy="175.7" r="2.9" fill="#8af5f2"/>
<circle cx="491.9" cy="130.4" r="2.9" fill="#8af5f2"/>
<circle cx="479.2" cy="142.9" r="2.9" fill="#8af5f2"/>
<circle cx="503.7" cy="119.6" r="2.9" fill="#8af5f2"/>
<circle cx="517.5" cy="131.2" r="2.9" fill="#8af5f2"/>
<circle cx="470.6" cy="149.1" r="2.9" fill="#8af5f2"/>
<circle cx="438.2" cy="195.7" r="2.9" fill="#8af5f2"/>
<circle cx="552.5" cy="86.0" r="2.9" fill="#8af5f2"/>
<circle cx="512.8" cy="134.8" r="2.9" fill="#8af5f2"/>
<circle cx="478.6" cy="167.2" r="2.9" fill="#8af5f2"/>
<circle cx="477.3" cy="168.8" r="2.9" fill="#8af5f2"/>
<circle cx="436.5" cy="192.7" r="2.9" fill="#8af5f2"/>
<circle cx="478.6" cy="167.9" r="2.9" fill="#8af5f2"/>
<circle cx="468.4" cy="174.5" r="2.9" fill="#8af5f2"/>
<circle cx="524.7" cy="121.6" r="2.9" fill="#8af5f2"/>
<circle cx="469.0" cy="152.1" r="2.9" fill="#8af5f2"/>
<circle cx="541.6" cy="100.8" r="2.9" fill="#8af5f2"/>
<circle cx="507.4" cy="115.1" r="2.9" fill="#8af5f2"/>
<circle cx="466.7" cy="176.1" r="2.9" fill="#8af5f2"/>
<circle cx="452.7" cy="169.8" r="2.9" fill="#8af5f2"/>
<circle cx="461.5" cy="180.8" r="2.9" fill="#8af5f2"/>
<circle cx="506.5" cy="116.2" r="2.9" fill="#8af5f2"/>
<circle cx="453.9" cy="186.0" r="2.9" fill="#8af5f2"/>
<circle cx="472.7" cy="171.1" r="2.9" fill="#8af5f2"/>
<circle cx="493.0" cy="156.1" r="2.9" fill="#8af5f2"/>
<circle cx="457.9" cy="183.7" r="2.9" fill="#8af5f2"/>
<circle cx="538.6" cy="91.8" r="2.9" fill="#8af5f2"/>
<circle cx="549.1" cy="85.7" r="2.9" fill="#8af5f2"/>
<circle cx="519.6" cy="104.6" r="2.9" fill="#8af5f2"/>
<circle cx="504.1" cy="143.6" r="2.9" fill="#8af5f2"/>
<circle cx="467.1" cy="176.0" r="2.9" fill="#8af5f2"/>
<circle cx="464.6" cy="158.8" r="2.9" fill="#8af5f2"/>
<circle cx="541.1" cy="88.6" r="2.9" fill="#8af5f2"/>
<circle cx="540.7" cy="90.0" r="2.9" fill="#8af5f2"/>
<circle cx="436.2" cy="195.9" r="2.9" fill="#8af5f2"/>
<circle cx="465.1" cy="156.2" r="2.9" fill="#8af5f2"/>
<circle cx="477.9" cy="141.8" r="2.9" fill="#8af5f2"/>
<circle cx="482.8" cy="164.6" r="2.9" fill="#8af5f2"/>
<circle cx="485.9" cy="134.8" r="2.9" fill="#8af5f2"/>
<circle cx="453.4" cy="169.0" r="2.9" fill="#8af5f2"/>
<circle cx="450.5" cy="172.3" r="2.9" fill="#8af5f2"/>
<circle cx="529.1" cy="99.9" r="2.9" fill="#8af5f2"/>
<circle cx="505.4" cy="118.2" r="2.9" fill="#8af5f2"/>
<circle cx="472.9" cy="171.3" r="2.9" fill="#8af5f2"/>
<circle cx="493.1" cy="155.5" r="2.9" fill="#8af5f2"/>
<circle cx="434.1" cy="196.4" r="2.9" fill="#8af5f2"/>
<circle cx="453.6" cy="186.8" r="2.9" fill="#8af5f2"/>
<circle cx="541.8" cy="101.3" r="2.9" fill="#8af5f2"/>
<circle cx="478.5" cy="166.3" r="2.9" fill="#8af5f2"/>
<circle cx="507.1" cy="115.6" r="2.9" fill="#8af5f2"/>
<circle cx="461.2" cy="178.7" r="2.9" fill="#8af5f2"/>
<circle cx="495.5" cy="125.7" r="2.9" fill="#8af5f2"/>
<circle cx="446.0" cy="189.8" r="2.9" fill="#8af5f2"/>
<circle cx="501.6" cy="120.2" r="2.9" fill="#8af5f2"/>
<circle cx="527.6" cy="99.5" r="2.9" fill="#8af5f2"/>
<circle cx="486.5" cy="160.9" r="2.9" fill="#8af5f2"/>
<circle cx="479.0" cy="141.3" r="2.9" fill="#8af5f2"/>
<circle cx="458.8" cy="162.9" r="2.9" fill="#8af5f2"/>
<circle cx="444.9" cy="190.7" r="2.9" fill="#8af5f2"/>
<circle cx="538.7" cy="92.0" r="2.9" fill="#8af5f2"/>
<circle cx="541.5" cy="90.5" r="2.9" fill="#8af5f2"/>
<circle cx="498.3" cy="150.9" r="2.9" fill="#8af5f2"/>
<circle cx="508.3" cy="113.1" r="2.9" fill="#8af5f2"/>
<circle cx="509.4" cy="113.0" r="2.9" fill="#8af5f2"/>
<circle cx="445.3" cy="183.5" r="2.9" fill="#8af5f2"/>
<circle cx="449.3" cy="177.8" r="2.9" fill="#8af5f2"/>
<circle cx="448.7" cy="189.7" r="2.9" fill="#8af5f2"/>
<circle cx="461.0" cy="181.3" r="2.9" fill="#8af5f2"/>
<circle cx="445.9" cy="179.6" r="2.9" fill="#8af5f2"/>
<circle cx="532.2" cy="95.7" r="2.9" fill="#8af5f2"/>
<circle cx="536.5" cy="109.4" r="2.9" fill="#8af5f2"/>
<circle cx="490.5" cy="131.3" r="2.9" fill="#8af5f2"/>
<circle cx="521.2" cy="105.5" r="2.9" fill="#8af5f2"/>
<circle cx="467.2" cy="152.5" r="2.9" fill="#8af5f2"/>
<circle cx="468.5" cy="173.8" r="2.9" fill="#8af5f2"/>
<circle cx="503.1" cy="118.9" r="2.9" fill="#8af5f2"/>
<circle cx="485.2" cy="160.8" r="2.9" fill="#8af5f2"/>
<circle cx="492.0" cy="155.5" r="2.9" fill="#8af5f2"/>
<circle cx="554.0" cy="85.2" r="2.9" fill="#8af5f2"/>
<circle cx="449.7" cy="174.1" r="2.9" fill="#8af5f2"/>
<circle cx="510.4" cy="112.5" r="2.9" fill="#8af5f2"/>
<circle cx="507.0" cy="116.5" r="2.9" fill="#8af5f2"/>
<circle cx="442.8" cy="182.6" r="2.9" fill="#8af5f2"/>
<circle cx="504.6" cy="144.6" r="2.9" fill="#8af5f2"/>
<circle cx="460.7" cy="179.3" r="2.9" fill="#8af5f2"/>
<circle cx="511.8" cy="135.4" r="2.9" fill="#8af5f2"/>
<circle cx="513.0" cy="111.0" r="2.9" fill="#8af5f2"/>
<circle cx="526.6" cy="121.7" r="2.9" fill="#8af5f2"/>
<circle cx="511.6" cy="135.5" r="2.9" fill="#8af5f2"/>
<circle cx="437.7" cy="195.0" r="2.9" fill="#8af5f2"/>
<circle cx="459.0" cy="180.9" r="2.9" fill="#8af5f2"/>
<circle cx="534.3" cy="113.1" r="2.9" fill="#8af5f2"/>
<circle cx="486.0" cy="134.3" r="2.9" fill="#8af5f2"/>
<circle cx="532.0" cy="95.9" r="2.9" fill="#8af5f2"/>
<circle cx="485.4" cy="133.3" r="2.9" fill="#8af5f2"/>
<circle cx="475.6" cy="142.8" r="2.9" fill="#8af5f2"/>
<circle cx="497.6" cy="149.4" r="2.9" fill="#8af5f2"/>
<circle cx="515.3" cy="106.9" r="2.9" fill="#8af5f2"/>
<circle cx="541.1" cy="100.8" r="2.9" fill="#8af5f2"/>
<circle cx="471.6" cy="173.0" r="2.9" fill="#8af5f2"/>
<circle cx="536.0" cy="94.2" r="2.9" fill="#8af5f2"/>
<circle cx="542.7" cy="99.7" r="2.9" fill="#8af5f2"/>
<circle cx="527.7" cy="117.2" r="2.9" fill="#8af5f2"/>
<circle cx="539.4" cy="103.8" r="2.9" fill="#8af5f2"/>
<circle cx="499.3" cy="123.7" r="2.9" fill="#8af5f2"/>
<circle cx="481.2" cy="164.6" r="2.9" fill="#8af5f2"/>
<circle cx="454.5" cy="167.0" r="2.9" fill="#8af5f2"/>
<circle cx="476.2" cy="145.6" r="2.9" fill="#8af5f2"/>
<circle cx="463.1" cy="160.2" r="2.9" fill="#8af5f2"/>
<circle cx="540.3" cy="91.8" r="2.9" fill="#8af5f2"/>
<circle cx="551.0" cy="89.8" r="2.9" fill="#8af5f2"/>
<circle cx="531.9" cy="114.6" r="2.9" fill="#8af5f2"/>
<circle cx="508.2" cy="115.1" r="2.9" fill="#8af5f2"/>
<circle cx="520.7" cy="103.7" r="2.9" fill="#8af5f2"/>
<circle cx="506.4" cy="141.9" r="2.9" fill="#8af5f2"/>
<circle cx="470.6" cy="149.3" r="2.9" fill="#8af5f2"/>
<circle cx="510.3" cy="138.6" r="2.9" fill="#8af5f2"/>
<circle cx="518.3" cy="131.2" r="2.9" fill="#8af5f2"/>
<circle cx="521.1" cy="128.2" r="2.9" fill="#8af5f2"/>
<circle cx="455.4" cy="184.7" r="2.9" fill="#8af5f2"/>
<circle cx="500.2" cy="120.5" r="2.9" fill="#8af5f2"/>
<circle cx="496.3" cy="150.4" r="2.9" fill="#8af5f2"/>
<circle cx="440.5" cy="186.8" r="2.9" fill="#8af5f2"/>
<circle cx="494.0" cy="127.1" r="2.9" fill="#8af5f2"/>
</g>
<g fill-opacity="0.6">
<circle cx="439.7" cy="196.7" r="2.9" fill="#a6caf2"/>
<circle cx="441.4" cy="193.4" r="2.9" fill="#b8c22c"/>
<circle cx="437.9" cy="192.6" r="2.9" fill="#dfe86a"/>
<circle cx="548.8" cy="87.6" r="2.9" fill="#f2b880"/>
<circle cx="433.5" cy="199.6" r="2.9" fill="#5ccfd2"/>
<circle cx="561.0" cy="74.3" r="2.9" fill="#e02a2a"/>
<circle cx="430.5" cy="200.2" r="2.9" fill="#45b035"/>
<circle cx="442.0" cy="188.3" r="2.9" fill="#e02a2a"/>
<circle cx="439.7" cy="187.0" r="2.9" fill="#8a4ad8"/>
<circle cx="441.9" cy="194.9" r="2.9" fill="#5a5a5a"/>
<circle cx="565.9" cy="70.7" r="2.9" fill="#dfe86a"/>
<circle cx="553.6" cy="83.1" r="2.9" fill="#b8c22c"/>
<circle cx="555.6" cy="85.6" r="2.9" fill="#c6c6c6"/>
<circle cx="442.9" cy="191.2" r="2.9" fill="#f2b880"/>
<circle cx="560.5" cy="76.4" r="2.9" fill="#b8c22c"/>
<circle cx="553.3" cy="87.2" r="2.9" fill="#e02a2a"/>
</g>
<g fill-opacity="0.65">
<circle cx="403.0" cy="219.2" r="2.9" fill="#c6c6c6"/>
<circle cx="414.2" cy="226.9" r="2.9" fill="#f2b880"/>
<circle cx="398.9" cy="233.5" r="2.9" fill="#a6caf2"/>
<circle cx="601.7" cy="39.4" r="2.9" fill="#a6caf2"/>
<circle cx="576.9" cy="51.6" r="2.9" fill="#f2b880"/>
<circle cx="588.5" cy="59.6" r="2.9" fill="#c6c6c6"/>
<circle cx="574.5" cy="67.8" r="2.9" fill="#e02a2a"/>
<circle cx="566.7" cy="65.3" r="2.9" fill="#dfe86a"/>
<circle cx="576.1" cy="62.9" r="2.9" fill="#f2aad8"/>
<circle cx="566.7" cy="83.5" r="2.9" fill="#3f82bd"/>
<circle cx="559.1" cy="92.1" r="2.9" fill="#3f82bd"/>
</g>
<rect x="369.40" y="15.60" width="250.90" height="247.70" fill="none" stroke="#111" stroke-width="1.35"/>
<line x1="364.10" y1="242.20" x2="369.40" y2="242.20" stroke="#111" stroke-width="1.35"/>
<text x="336.78" y="249.30" font-size="18.7" font-weight="bold">-50</text>
<line x1="390.60" y1="263.30" x2="390.60" y2="268.60" stroke="#111" stroke-width="1.35"/>
<text x="378.76" y="287.60" font-size="18.7" font-weight="bold">-50</text>
<line x1="364.10" y1="190.82" x2="369.40" y2="190.82" stroke="#111" stroke-width="1.35"/>
<text x="336.69" y="197.92" font-size="18.7" font-weight="bold">-25</text>
<line x1="442.65" y1="263.30" x2="442.65" y2="268.60" stroke="#111" stroke-width="1.35"/>
<text x="430.77" y="287.60" font-size="18.7" font-weight="bold">-25</text>
<line x1="364.10" y1="139.45" x2="369.40" y2="139.45" stroke="#111" stroke-width="1.35"/>
<text x="352.40" y="146.55" font-size="18.7" font-weight="bold">0</text>
<line x1="494.70" y1="263.30" x2="494.70" y2="268.60" stroke="#111" stroke-width="1.35"/>
<text x="490.62" y="287.60" font-size="18.7" font-weight="bold">0</text>
<line x1="364.10" y1="88.07" x2="369.40" y2="88.07" stroke="#111" stroke-width="1.35"/>
<text x="342.95" y="95.17" font-size="18.7" font-weight="bold">25</text>
<line x1="546.75" y1="263.30" x2="546.75" y2="268.60" stroke="#111" stroke-width="1.35"/>
<text x="537.95" y="287.60" font-size="18.7" font-weight="bold">25</text>
<line x1="364.10" y1="36.70" x2="369.40" y2="36.70" stroke="#111" stroke-width="1.35"/>
<text x="343.05" y="43.80" font-size="18.7" font-weight="bold">50</text>
<line x1="598.80" y1="263.30" x2="598.80" y2="268.60" stroke="#111" stroke-width="1.35"/>
<text x="590.05" y="287.60" font-size="18.7" font-weight="bold">50</text>
<text x="466.91" y="37.60" font-size="19.2" font-weight="bold" textLength="46.66" lengthAdjust="spacingAndGlyphs">Force</text>
<text x="448.21" y="311.40" font-size="19.2" font-weight="bold" textLength="11.66" lengthAdjust="spacingAndGlyphs">F</text>
<text x="460.02" y="315.20" font-size="12.4" font-weight="bold" textLength="24.16" lengthAdjust="spacingAndGlyphs">DFT</text>
<text x="488.75" y="311.00" font-size="19" font-weight="bold" textLength="53.75" lengthAdjust="spacingAndGlyphs">(eV/Å)</text>
<g transform="translate(330.50 188.20) rotate(-90)"><text x="-0.29" y="0" font-size="19.5" font-weight="bold" textLength="11.66" lengthAdjust="spacingAndGlyphs">F</text></g>
<g transform="translate(336.00 176.50) rotate(-90)"><text x="-0.26" y="0" font-size="13.4" font-weight="bold" textLength="26.99" lengthAdjust="spacingAndGlyphs">NNP</text></g>
<g transform="translate(331.00 145.20) rotate(-90)"><text x="-0.90" y="0" font-size="20" font-weight="bold" textLength="56.95" lengthAdjust="spacingAndGlyphs">(eV/Å)</text></g>
<rect x="630.40" y="14.50" width="12.60" height="12.79" fill="#8af5f2" stroke="none" stroke-width="1"/>
<rect x="630.40" y="26.89" width="12.60" height="12.79" fill="#5ccfd2" stroke="none" stroke-width="1"/>
<rect x="630.40" y="39.28" width="12.60" height="12.79" fill="#dfe86a" stroke="none" stroke-width="1"/>
<rect x="630.40" y="51.67" width="12.60" height="12.79" fill="#b8c22c" stroke="none" stroke-width="1"/>
<rect x="630.40" y="64.06" width="12.60" height="12.79" fill="#c6c6c6" stroke="none" stroke-width="1"/>
<rect x="630.40" y="76.45" width="12.60" height="12.79" fill="#5a5a5a" stroke="none" stroke-width="1"/>
<rect x="630.40" y="88.84" width="12.60" height="12.79" fill="#f2aad8" stroke="none" stroke-width="1"/>
<rect x="630.40" y="101.23" width="12.60" height="12.79" fill="#e656de" stroke="none" stroke-width="1"/>
<rect x="630.40" y="113.62" width="12.60" height="12.79" fill="#da8262" stroke="none" stroke-width="1"/>
<rect x="630.40" y="126.01" width="12.60" height="12.79" fill="#9a4a3a" stroke="none" stroke-width="1"/>
<rect x="630.40" y="138.40" width="12.60" height="12.79" fill="#c282f2" stroke="none" stroke-width="1"/>
<rect x="630.40" y="150.79" width="12.60" height="12.79" fill="#8a4ad8" stroke="none" stroke-width="1"/>
<rect x="630.40" y="163.18" width="12.60" height="12.79" fill="#f29494" stroke="none" stroke-width="1"/>
<rect x="630.40" y="175.57" width="12.60" height="12.79" fill="#e02a2a" stroke="none" stroke-width="1"/>
<rect x="630.40" y="187.96" width="12.60" height="12.79" fill="#98f870" stroke="none" stroke-width="1"/>
<rect x="630.40" y="200.35" width="12.60" height="12.79" fill="#45b035" stroke="none" stroke-width="1"/>
<rect x="630.40" y="212.74" width="12.60" height="12.79" fill="#f2b880" stroke="none" stroke-width="1"/>
<rect x="630.40" y="225.13" width="12.60" height="12.79" fill="#f58220" stroke="none" stroke-width="1"/>
<rect x="630.40" y="237.52" width="12.60" height="12.79" fill="#a6caf2" stroke="none" stroke-width="1"/>
<rect x="630.40" y="249.91" width="12.60" height="12.79" fill="#3f82bd" stroke="none" stroke-width="1"/>
<line x1="643.00" y1="20.70" x2="646.20" y2="20.70" stroke="#222" stroke-width="1"/>
<text x="649.05" y="24.09" font-size="10.2" font-weight="bold">HNS</text>
<line x1="643.00" y1="33.09" x2="646.20" y2="33.09" stroke="#222" stroke-width="1"/>
<text x="649.05" y="36.48" font-size="10.2" font-weight="bold">TNB</text>
<line x1="643.00" y1="45.48" x2="646.20" y2="45.48" stroke="#222" stroke-width="1"/>
<text x="649.00" y="48.88" font-size="10.2" font-weight="bold">NC</text>
<line x1="643.00" y1="57.87" x2="646.20" y2="57.87" stroke="#222" stroke-width="1"/>
<text x="649.05" y="61.27" font-size="10.2" font-weight="bold">BTTN</text>
<line x1="643.00" y1="70.25" x2="646.20" y2="70.25" stroke="#222" stroke-width="1"/>
<text x="649.05" y="73.66" font-size="10.2" font-weight="bold">TEX</text>
<line x1="643.00" y1="82.65" x2="646.20" y2="82.65" stroke="#222" stroke-width="1"/>
<text x="649.00" y="86.05" font-size="10.2" font-weight="bold">NTO</text>
<line x1="643.00" y1="95.03" x2="646.20" y2="95.03" stroke="#222" stroke-width="1"/>
<text x="649.05" y="98.44" font-size="10.2" font-weight="bold">DTTO</text>
<line x1="643.00" y1="107.43" x2="646.20" y2="107.43" stroke="#222" stroke-width="1"/>
<text x="649.05" y="110.83" font-size="10.2" font-weight="bold">PETN</text>
<line x1="643.00" y1="119.81" x2="646.20" y2="119.81" stroke="#222" stroke-width="1"/>
<text x="649.00" y="123.22" font-size="10.2" font-weight="bold">NG</text>
<line x1="643.00" y1="132.21" x2="646.20" y2="132.21" stroke="#222" stroke-width="1"/>
<text x="649.05" y="135.61" font-size="10.2" font-weight="bold">TAGN</text>
<line x1="643.00" y1="144.59" x2="646.20" y2="144.59" stroke="#222" stroke-width="1"/>
<text x="649.05" y="148.00" font-size="10.2" font-weight="bold">TATB</text>
<line x1="643.00" y1="156.99" x2="646.20" y2="156.99" stroke="#222" stroke-width="1"/>
<text x="649.05" y="160.39" font-size="10.2" font-weight="bold">BTF</text>
<line x1="643.00" y1="169.38" x2="646.20" y2="169.38" stroke="#222" stroke-width="1"/>
<text x="649.05" y="172.78" font-size="10.2" font-weight="bold">DNBF</text>
<line x1="643.00" y1="181.77" x2="646.20" y2="181.77" stroke="#222" stroke-width="1"/>
<text x="649.05" y="185.17" font-size="10.2" font-weight="bold">TKX-50</text>
<line x1="643.00" y1="194.16" x2="646.20" y2="194.16" stroke="#222" stroke-width="1"/>
<text x="649.05" y="197.56" font-size="10.2" font-weight="bold">FOX-7</text>
<line x1="643.00" y1="206.55" x2="646.20" y2="206.55" stroke="#222" stroke-width="1"/>
<text x="649.10" y="209.95" font-size="10.2" font-weight="bold">ADN</text>
<line x1="643.00" y1="218.94" x2="646.20" y2="218.94" stroke="#222" stroke-width="1"/>
<text x="649.05" y="222.34" font-size="10.2" font-weight="bold">TNT</text>
<line x1="643.00" y1="231.33" x2="646.20" y2="231.33" stroke="#222" stroke-width="1"/>
<text x="649.05" y="234.73" font-size="10.2" font-weight="bold">HMX</text>
<line x1="643.00" y1="243.72" x2="646.20" y2="243.72" stroke="#222" stroke-width="1"/>
<text x="648.69" y="247.12" font-size="10.2" font-weight="bold">CL-20</text>
<line x1="643.00" y1="256.11" x2="646.20" y2="256.11" stroke="#222" stroke-width="1"/>
<text x="649.05" y="259.50" font-size="10.2" font-weight="bold">RDX</text>
<rect x="630.40" y="14.50" width="12.60" height="247.80" fill="none" stroke="#333" stroke-width="1"/>
<text x="3.20" y="317.40" font-size="19.8" font-weight="normal" textLength="23.32" lengthAdjust="spacingAndGlyphs">(b)</text>
<rect x="69.80" y="415.00" width="10.50" height="2.10" fill="#abddfb" stroke="none" stroke-width="1"/>
<rect x="79.80" y="415.30" width="10.60" height="1.80" fill="#abddfb" stroke="none" stroke-width="1"/>
<rect x="89.90" y="416.00" width="14.60" height="1.10" fill="#abddfb" stroke="none" stroke-width="1"/>
<rect x="104.00" y="416.60" width="16.20" height="0.50" fill="#abddfb" stroke="none" stroke-width="1"/>
<rect x="119.70" y="416.00" width="10.70" height="1.10" fill="#abddfb" stroke="none" stroke-width="1"/>
<rect x="129.90" y="349.20" width="10.50" height="67.90" fill="#abddfb" stroke="none" stroke-width="1"/>
<rect x="139.90" y="370.20" width="10.10" height="46.90" fill="#abddfb" stroke="none" stroke-width="1"/>
<rect x="149.50" y="409.80" width="10.10" height="7.30" fill="#abddfb" stroke="none" stroke-width="1"/>
<rect x="159.10" y="416.40" width="11.40" height="0.70" fill="#abddfb" stroke="none" stroke-width="1"/>
<rect x="48.00" y="333.00" width="184.50" height="84.10" fill="none" stroke="#3a3a3a" stroke-width="1"/>
<line x1="44.80" y1="417.10" x2="48.00" y2="417.10" stroke="#3a3a3a" stroke-width="1"/>
<g transform="translate(0 421.60) scale(1 1.06) translate(0 -421.60)"><text x="34.85" y="421.60" font-size="12.5" font-weight="bold">0</text></g>
<line x1="44.80" y1="389.07" x2="48.00" y2="389.07" stroke="#3a3a3a" stroke-width="1"/>
<g transform="translate(0 393.57) scale(1 1.06) translate(0 -393.57)"><text x="16.10" y="393.57" font-size="12.5" font-weight="bold">2000</text></g>
<line x1="44.80" y1="361.03" x2="48.00" y2="361.03" stroke="#3a3a3a" stroke-width="1"/>
<g transform="translate(0 365.53) scale(1 1.06) translate(0 -365.53)"><text x="16.10" y="365.53" font-size="12.5" font-weight="bold">4000</text></g>
<line x1="44.80" y1="333.00" x2="48.00" y2="333.00" stroke="#3a3a3a" stroke-width="1"/>
<g transform="translate(0 337.50) scale(1 1.06) translate(0 -337.50)"><text x="16.10" y="337.50" font-size="12.5" font-weight="bold">6000</text></g>
<line x1="77.05" y1="417.10" x2="77.05" y2="420.40" stroke="#3a3a3a" stroke-width="1"/>
<g transform="translate(0 432.70) scale(1 1.05) translate(0 -432.70)"><text x="65.89" y="432.70" font-size="13.2" font-weight="bold">-0.5</text></g>
<line x1="142.10" y1="417.10" x2="142.10" y2="420.40" stroke="#3a3a3a" stroke-width="1"/>
<g transform="translate(0 432.70) scale(1 1.05) translate(0 -432.70)"><text x="133.90" y="432.70" font-size="13.2" font-weight="bold">0.0</text></g>
<line x1="207.10" y1="417.10" x2="207.10" y2="420.40" stroke="#3a3a3a" stroke-width="1"/>
<g transform="translate(0 432.70) scale(1 1.05) translate(0 -432.70)"><text x="198.32" y="432.70" font-size="13.2" font-weight="bold">0.5</text></g>
<text x="178.11" y="346.80" font-size="12.7" font-weight="bold" textLength="39.63" lengthAdjust="spacingAndGlyphs">Energy</text>
<text x="170.41" y="361.80" font-size="12.6" font-weight="bold" textLength="57.34" lengthAdjust="spacingAndGlyphs">Histogram</text>
<g transform="translate(10.90 419.50) rotate(-90)"><text x="-0.18" y="0" font-size="12" font-weight="bold" textLength="97.92" lengthAdjust="spacingAndGlyphs">Probability density</text></g>
<rect x="102.00" y="527.90" width="9.50" height="0.60" fill="#e8aaec" stroke="none" stroke-width="1"/>
<rect x="111.00" y="526.80" width="9.60" height="1.70" fill="#e8aaec" stroke="none" stroke-width="1"/>
<rect x="120.10" y="519.90" width="9.00" height="8.60" fill="#e8aaec" stroke="none" stroke-width="1"/>
<rect x="128.60" y="447.20" width="18.90" height="81.30" fill="#e8aaec" stroke="none" stroke-width="1"/>
<rect x="147.00" y="519.90" width="9.20" height="8.60" fill="#e8aaec" stroke="none" stroke-width="1"/>
<rect x="155.70" y="526.80" width="9.30" height="1.70" fill="#e8aaec" stroke="none" stroke-width="1"/>
<rect x="164.50" y="527.90" width="9.50" height="0.60" fill="#e8aaec" stroke="none" stroke-width="1"/>
<rect x="48.00" y="441.20" width="184.50" height="87.30" fill="none" stroke="#3a3a3a" stroke-width="1"/>
<line x1="104.00" y1="528.50" x2="172.00" y2="528.50" stroke="#8c5f8e" stroke-width="1"/>
<line x1="44.80" y1="528.50" x2="48.00" y2="528.50" stroke="#3a3a3a" stroke-width="1"/>
<line x1="44.80" y1="499.40" x2="48.00" y2="499.40" stroke="#3a3a3a" stroke-width="1"/>
<line x1="44.80" y1="470.30" x2="48.00" y2="470.30" stroke="#3a3a3a" stroke-width="1"/>
<line x1="44.80" y1="441.20" x2="48.00" y2="441.20" stroke="#3a3a3a" stroke-width="1"/>
<text x="30.39" y="532.60" font-size="12.2" font-weight="bold">0</text>
<text x="0.65" y="503.00" font-size="12.8" font-weight="normal" textLength="6.20" lengthAdjust="spacingAndGlyphs" stroke="#000" stroke-width="0.35">1</text>
<text x="10.80" y="503.60" font-size="13.8" font-weight="normal" textLength="9.19" lengthAdjust="spacingAndGlyphs" stroke="#000" stroke-width="0.3">×</text>
<text x="22.75" y="503.00" font-size="12.8" font-weight="normal" textLength="13.49" lengthAdjust="spacingAndGlyphs" stroke="#000" stroke-width="0.35">10</text>
<text x="35.67" y="498.50" font-size="8.8" font-weight="normal" textLength="5.35" lengthAdjust="spacingAndGlyphs" stroke="#000" stroke-width="0.25">6</text>
<text x="0.35" y="473.70" font-size="12.8" font-weight="normal" textLength="7.25" lengthAdjust="spacingAndGlyphs" stroke="#000" stroke-width="0.35">2</text>
<text x="10.80" y="474.30" font-size="13.8" font-weight="normal" textLength="9.19" lengthAdjust="spacingAndGlyphs" stroke="#000" stroke-width="0.3">×</text>
<text x="22.75" y="473.70" font-size="12.8" font-weight="normal" textLength="13.49" lengthAdjust="spacingAndGlyphs" stroke="#000" stroke-width="0.35">10</text>
<text x="35.67" y="469.20" font-size="8.8" font-weight="normal" textLength="5.35" lengthAdjust="spacingAndGlyphs" stroke="#000" stroke-width="0.25">6</text>
<text x="0.35" y="443.70" font-size="12.8" font-weight="normal" textLength="7.23" lengthAdjust="spacingAndGlyphs" stroke="#000" stroke-width="0.35">3</text>
<text x="10.80" y="444.30" font-size="13.8" font-weight="normal" textLength="9.19" lengthAdjust="spacingAndGlyphs" stroke="#000" stroke-width="0.3">×</text>
<text x="22.75" y="443.70" font-size="12.8" font-weight="normal" textLength="13.49" lengthAdjust="spacingAndGlyphs" stroke="#000" stroke-width="0.35">10</text>
<text x="35.67" y="439.20" font-size="8.8" font-weight="normal" textLength="5.35" lengthAdjust="spacingAndGlyphs" stroke="#000" stroke-width="0.25">6</text>
<line x1="79.90" y1="528.50" x2="79.90" y2="531.80" stroke="#3a3a3a" stroke-width="1"/>
<g transform="translate(0 545.80) scale(1 1.08) translate(0 -545.80)"><text x="74.27" y="545.80" font-size="13.6" font-weight="bold">-5</text></g>
<line x1="136.80" y1="528.50" x2="136.80" y2="531.80" stroke="#3a3a3a" stroke-width="1"/>
<g transform="translate(0 545.80) scale(1 1.08) translate(0 -545.80)"><text x="133.30" y="545.80" font-size="13.6" font-weight="bold">0</text></g>
<line x1="195.30" y1="528.50" x2="195.30" y2="531.80" stroke="#3a3a3a" stroke-width="1"/>
<g transform="translate(0 545.80) scale(1 1.08) translate(0 -545.80)"><text x="192.17" y="545.80" font-size="13.6" font-weight="bold">5</text></g>
<text x="182.71" y="456.30" font-size="12.6" font-weight="bold" textLength="30.60" lengthAdjust="spacingAndGlyphs">Force</text>
<text x="170.41" y="471.10" font-size="12.6" font-weight="bold" textLength="57.34" lengthAdjust="spacingAndGlyphs">Histogram</text>
<text x="271.11" y="320.60" font-size="19.7" font-weight="normal" textLength="21.98" lengthAdjust="spacingAndGlyphs">(c)</text>
<line x1="303.60" y1="394.20" x2="665.30" y2="394.20" stroke="#87cefa" stroke-width="1.05" stroke-dasharray="3.1 2.1"/>
<line x1="303.60" y1="477.10" x2="665.30" y2="477.10" stroke="#ee82ee" stroke-width="1.05" stroke-dasharray="3.1 2.1"/>
<polyline points="303.90,413.22 322.80,400.01 341.70,381.41 360.60,400.82 379.50,374.60 398.40,389.54 417.30,358.14 436.20,402.14 455.10,409.46 474.00,406.82 492.90,404.99 511.80,382.12 530.70,378.36 549.60,406.21 568.50,410.68 587.40,401.23 606.30,369.82 625.20,364.74 644.10,397.47 663.00,419.82" fill="none" stroke="#87cefa" stroke-width="1.5"/>
<circle cx="303.90" cy="413.22" r="3.0" fill="none" stroke="#87cefa" stroke-width="1.3"/>
<circle cx="322.80" cy="400.01" r="3.0" fill="none" stroke="#87cefa" stroke-width="1.3"/>
<circle cx="341.70" cy="381.41" r="3.0" fill="none" stroke="#87cefa" stroke-width="1.3"/>
<circle cx="360.60" cy="400.82" r="3.0" fill="none" stroke="#87cefa" stroke-width="1.3"/>
<circle cx="379.50" cy="374.60" r="3.0" fill="none" stroke="#87cefa" stroke-width="1.3"/>
<circle cx="398.40" cy="389.54" r="3.0" fill="none" stroke="#87cefa" stroke-width="1.3"/>
<circle cx="417.30" cy="358.14" r="3.0" fill="none" stroke="#87cefa" stroke-width="1.3"/>
<circle cx="436.20" cy="402.14" r="3.0" fill="none" stroke="#87cefa" stroke-width="1.3"/>
<circle cx="455.10" cy="409.46" r="3.0" fill="none" stroke="#87cefa" stroke-width="1.3"/>
<circle cx="474.00" cy="406.82" r="3.0" fill="none" stroke="#87cefa" stroke-width="1.3"/>
<circle cx="492.90" cy="404.99" r="3.0" fill="none" stroke="#87cefa" stroke-width="1.3"/>
<circle cx="511.80" cy="382.12" r="3.0" fill="none" stroke="#87cefa" stroke-width="1.3"/>
<circle cx="530.70" cy="378.36" r="3.0" fill="none" stroke="#87cefa" stroke-width="1.3"/>
<circle cx="549.60" cy="406.21" r="3.0" fill="none" stroke="#87cefa" stroke-width="1.3"/>
<circle cx="568.50" cy="410.68" r="3.0" fill="none" stroke="#87cefa" stroke-width="1.3"/>
<circle cx="587.40" cy="401.23" r="3.0" fill="none" stroke="#87cefa" stroke-width="1.3"/>
<circle cx="606.30" cy="369.82" r="3.0" fill="none" stroke="#87cefa" stroke-width="1.3"/>
<circle cx="625.20" cy="364.74" r="3.0" fill="none" stroke="#87cefa" stroke-width="1.3"/>
<circle cx="644.10" cy="397.47" r="3.0" fill="none" stroke="#87cefa" stroke-width="1.3"/>
<circle cx="663.00" cy="419.82" r="3.0" fill="none" stroke="#87cefa" stroke-width="1.3"/>
<polyline points="303.90,493.62 322.80,469.09 341.70,459.47 360.60,477.27 379.50,475.35 398.40,459.47 417.30,448.05 436.20,457.31 455.10,452.38 474.00,448.05 492.90,468.97 511.80,468.61 530.70,477.99 549.60,457.19 568.50,461.52 587.40,452.26 606.30,484.00 625.20,479.31 644.10,460.07 663.00,458.87" fill="none" stroke="#ee82ee" stroke-width="1.5"/>
<rect x="300.80" y="490.52" width="6.2" height="6.2" fill="none" stroke="#ee82ee" stroke-width="1.3"/>
<rect x="319.70" y="465.99" width="6.2" height="6.2" fill="none" stroke="#ee82ee" stroke-width="1.3"/>
<rect x="338.60" y="456.37" width="6.2" height="6.2" fill="none" stroke="#ee82ee" stroke-width="1.3"/>
<rect x="357.50" y="474.17" width="6.2" height="6.2" fill="none" stroke="#ee82ee" stroke-width="1.3"/>
<rect x="376.40" y="472.25" width="6.2" height="6.2" fill="none" stroke="#ee82ee" stroke-width="1.3"/>
<rect x="395.30" y="456.37" width="6.2" height="6.2" fill="none" stroke="#ee82ee" stroke-width="1.3"/>
<rect x="414.20" y="444.95" width="6.2" height="6.2" fill="none" stroke="#ee82ee" stroke-width="1.3"/>
<rect x="433.10" y="454.21" width="6.2" height="6.2" fill="none" stroke="#ee82ee" stroke-width="1.3"/>
<rect x="452.00" y="449.28" width="6.2" height="6.2" fill="none" stroke="#ee82ee" stroke-width="1.3"/>
<rect x="470.90" y="444.95" width="6.2" height="6.2" fill="none" stroke="#ee82ee" stroke-width="1.3"/>
<rect x="489.80" y="465.87" width="6.2" height="6.2" fill="none" stroke="#ee82ee" stroke-width="1.3"/>
<rect x="508.70" y="465.51" width="6.2" height="6.2" fill="none" stroke="#ee82ee" stroke-width="1.3"/>
<rect x="527.60" y="474.89" width="6.2" height="6.2" fill="none" stroke="#ee82ee" stroke-width="1.3"/>
<rect x="546.50" y="454.09" width="6.2" height="6.2" fill="none" stroke="#ee82ee" stroke-width="1.3"/>
<rect x="565.40" y="458.42" width="6.2" height="6.2" fill="none" stroke="#ee82ee" stroke-width="1.3"/>
<rect x="584.30" y="449.16" width="6.2" height="6.2" fill="none" stroke="#ee82ee" stroke-width="1.3"/>
<rect x="603.20" y="480.90" width="6.2" height="6.2" fill="none" stroke="#ee82ee" stroke-width="1.3"/>
<rect x="622.10" y="476.21" width="6.2" height="6.2" fill="none" stroke="#ee82ee" stroke-width="1.3"/>
<rect x="641.00" y="456.97" width="6.2" height="6.2" fill="none" stroke="#ee82ee" stroke-width="1.3"/>
<rect x="659.90" y="455.77" width="6.2" height="6.2" fill="none" stroke="#ee82ee" stroke-width="1.3"/>
<rect x="285.70" y="332.50" width="395.30" height="101.70" fill="none" stroke="#555" stroke-width="1"/>
<rect x="285.70" y="434.20" width="395.30" height="96.10" fill="none" stroke="#333" stroke-width="1.1"/>
<line x1="282.50" y1="424.60" x2="285.70" y2="424.60" stroke="#555" stroke-width="1"/>
<g transform="translate(0 429.60) scale(1 1.05) translate(0 -429.60)"><text x="257.30" y="429.60" font-size="12.4" font-weight="bold">0.00</text></g>
<line x1="282.50" y1="383.95" x2="285.70" y2="383.95" stroke="#555" stroke-width="1"/>
<g transform="translate(0 388.95) scale(1 1.05) translate(0 -388.95)"><text x="257.05" y="388.95" font-size="12.4" font-weight="bold">0.04</text></g>
<line x1="282.50" y1="343.30" x2="285.70" y2="343.30" stroke="#555" stroke-width="1"/>
<g transform="translate(0 348.30) scale(1 1.05) translate(0 -348.30)"><text x="257.23" y="348.30" font-size="12.4" font-weight="bold">0.08</text></g>
<line x1="282.50" y1="530.30" x2="285.70" y2="530.30" stroke="#555" stroke-width="1"/>
<g transform="translate(0 535.30) scale(1 1.05) translate(0 -535.30)"><text x="263.50" y="535.30" font-size="12.4" font-weight="bold">0.0</text></g>
<line x1="282.50" y1="482.20" x2="285.70" y2="482.20" stroke="#555" stroke-width="1"/>
<g transform="translate(0 487.20) scale(1 1.05) translate(0 -487.20)"><text x="263.25" y="487.20" font-size="12.4" font-weight="bold">0.4</text></g>
<line x1="282.50" y1="434.10" x2="285.70" y2="434.10" stroke="#555" stroke-width="1"/>
<g transform="translate(0 439.10) scale(1 1.05) translate(0 -439.10)"><text x="263.43" y="439.10" font-size="12.4" font-weight="bold">0.8</text></g>
<line x1="303.90" y1="530.30" x2="303.90" y2="533.60" stroke="#666" stroke-width="1"/>
<g transform="translate(309.70 540.60) rotate(-57)"><text x="0" y="0" font-size="12" font-weight="bold" text-anchor="end">RDX</text></g>
<line x1="322.80" y1="530.30" x2="322.80" y2="533.60" stroke="#666" stroke-width="1"/>
<g transform="translate(328.60 540.60) rotate(-57)"><text x="0" y="0" font-size="12" font-weight="bold" text-anchor="end">CL-20</text></g>
<line x1="341.70" y1="530.30" x2="341.70" y2="533.60" stroke="#666" stroke-width="1"/>
<g transform="translate(347.50 540.60) rotate(-57)"><text x="0" y="0" font-size="12" font-weight="bold" text-anchor="end">HMX</text></g>
<line x1="360.60" y1="530.30" x2="360.60" y2="533.60" stroke="#666" stroke-width="1"/>
<g transform="translate(366.40 540.60) rotate(-57)"><text x="0" y="0" font-size="12" font-weight="bold" text-anchor="end">TNT</text></g>
<line x1="379.50" y1="530.30" x2="379.50" y2="533.60" stroke="#666" stroke-width="1"/>
<g transform="translate(385.30 540.60) rotate(-57)"><text x="0" y="0" font-size="12" font-weight="bold" text-anchor="end">ADN</text></g>
<line x1="398.40" y1="530.30" x2="398.40" y2="533.60" stroke="#666" stroke-width="1"/>
<g transform="translate(404.20 540.60) rotate(-57)"><text x="0" y="0" font-size="12" font-weight="bold" text-anchor="end">FOX-7</text></g>
<line x1="417.30" y1="530.30" x2="417.30" y2="533.60" stroke="#666" stroke-width="1"/>
<g transform="translate(423.10 540.60) rotate(-57)"><text x="0" y="0" font-size="12" font-weight="bold" text-anchor="end">TKX-50</text></g>
<line x1="436.20" y1="530.30" x2="436.20" y2="533.60" stroke="#666" stroke-width="1"/>
<g transform="translate(442.00 540.60) rotate(-57)"><text x="0" y="0" font-size="12" font-weight="bold" text-anchor="end">DNBF</text></g>
<line x1="455.10" y1="530.30" x2="455.10" y2="533.60" stroke="#666" stroke-width="1"/>
<g transform="translate(460.90 540.60) rotate(-57)"><text x="0" y="0" font-size="12" font-weight="bold" text-anchor="end">BTF</text></g>
<line x1="474.00" y1="530.30" x2="474.00" y2="533.60" stroke="#666" stroke-width="1"/>
<g transform="translate(479.80 540.60) rotate(-57)"><text x="0" y="0" font-size="12" font-weight="bold" text-anchor="end">TATB</text></g>
<line x1="492.90" y1="530.30" x2="492.90" y2="533.60" stroke="#666" stroke-width="1"/>
<g transform="translate(498.70 540.60) rotate(-57)"><text x="0" y="0" font-size="12" font-weight="bold" text-anchor="end">TAGN</text></g>
<line x1="511.80" y1="530.30" x2="511.80" y2="533.60" stroke="#666" stroke-width="1"/>
<g transform="translate(517.60 540.60) rotate(-57)"><text x="0" y="0" font-size="12" font-weight="bold" text-anchor="end">NG</text></g>
<line x1="530.70" y1="530.30" x2="530.70" y2="533.60" stroke="#666" stroke-width="1"/>
<g transform="translate(536.50 540.60) rotate(-57)"><text x="0" y="0" font-size="12" font-weight="bold" text-anchor="end">PETN</text></g>
<line x1="549.60" y1="530.30" x2="549.60" y2="533.60" stroke="#666" stroke-width="1"/>
<g transform="translate(555.40 540.60) rotate(-57)"><text x="0" y="0" font-size="12" font-weight="bold" text-anchor="end">DTTO</text></g>
<line x1="568.50" y1="530.30" x2="568.50" y2="533.60" stroke="#666" stroke-width="1"/>
<g transform="translate(574.30 540.60) rotate(-57)"><text x="0" y="0" font-size="12" font-weight="bold" text-anchor="end">NTO</text></g>
<line x1="587.40" y1="530.30" x2="587.40" y2="533.60" stroke="#666" stroke-width="1"/>
<g transform="translate(593.20 540.60) rotate(-57)"><text x="0" y="0" font-size="12" font-weight="bold" text-anchor="end">TEX</text></g>
<line x1="606.30" y1="530.30" x2="606.30" y2="533.60" stroke="#666" stroke-width="1"/>
<g transform="translate(612.10 540.60) rotate(-57)"><text x="0" y="0" font-size="12" font-weight="bold" text-anchor="end">BTTN</text></g>
<line x1="625.20" y1="530.30" x2="625.20" y2="533.60" stroke="#666" stroke-width="1"/>
<g transform="translate(631.00 540.60) rotate(-57)"><text x="0" y="0" font-size="12" font-weight="bold" text-anchor="end">NC</text></g>
<line x1="644.10" y1="530.30" x2="644.10" y2="533.60" stroke="#666" stroke-width="1"/>
<g transform="translate(649.90 540.60) rotate(-57)"><text x="0" y="0" font-size="12" font-weight="bold" text-anchor="end">TNB</text></g>
<line x1="663.00" y1="530.30" x2="663.00" y2="533.60" stroke="#666" stroke-width="1"/>
<g transform="translate(668.80 540.60) rotate(-57)"><text x="0" y="0" font-size="12" font-weight="bold" text-anchor="end">HNS</text></g>
<g transform="translate(249.20 425.80) rotate(-90)"><text x="-0.18" y="0" font-size="11.9" font-weight="bold" textLength="90.68" lengthAdjust="spacingAndGlyphs">Energy (eV/atom)</text></g>
<g transform="translate(249.10 513.60) rotate(-90)"><text x="-0.18" y="0" font-size="11.8" font-weight="bold" textLength="64.86" lengthAdjust="spacingAndGlyphs">Force (eV/Å)</text></g>
</svg></body></html>
